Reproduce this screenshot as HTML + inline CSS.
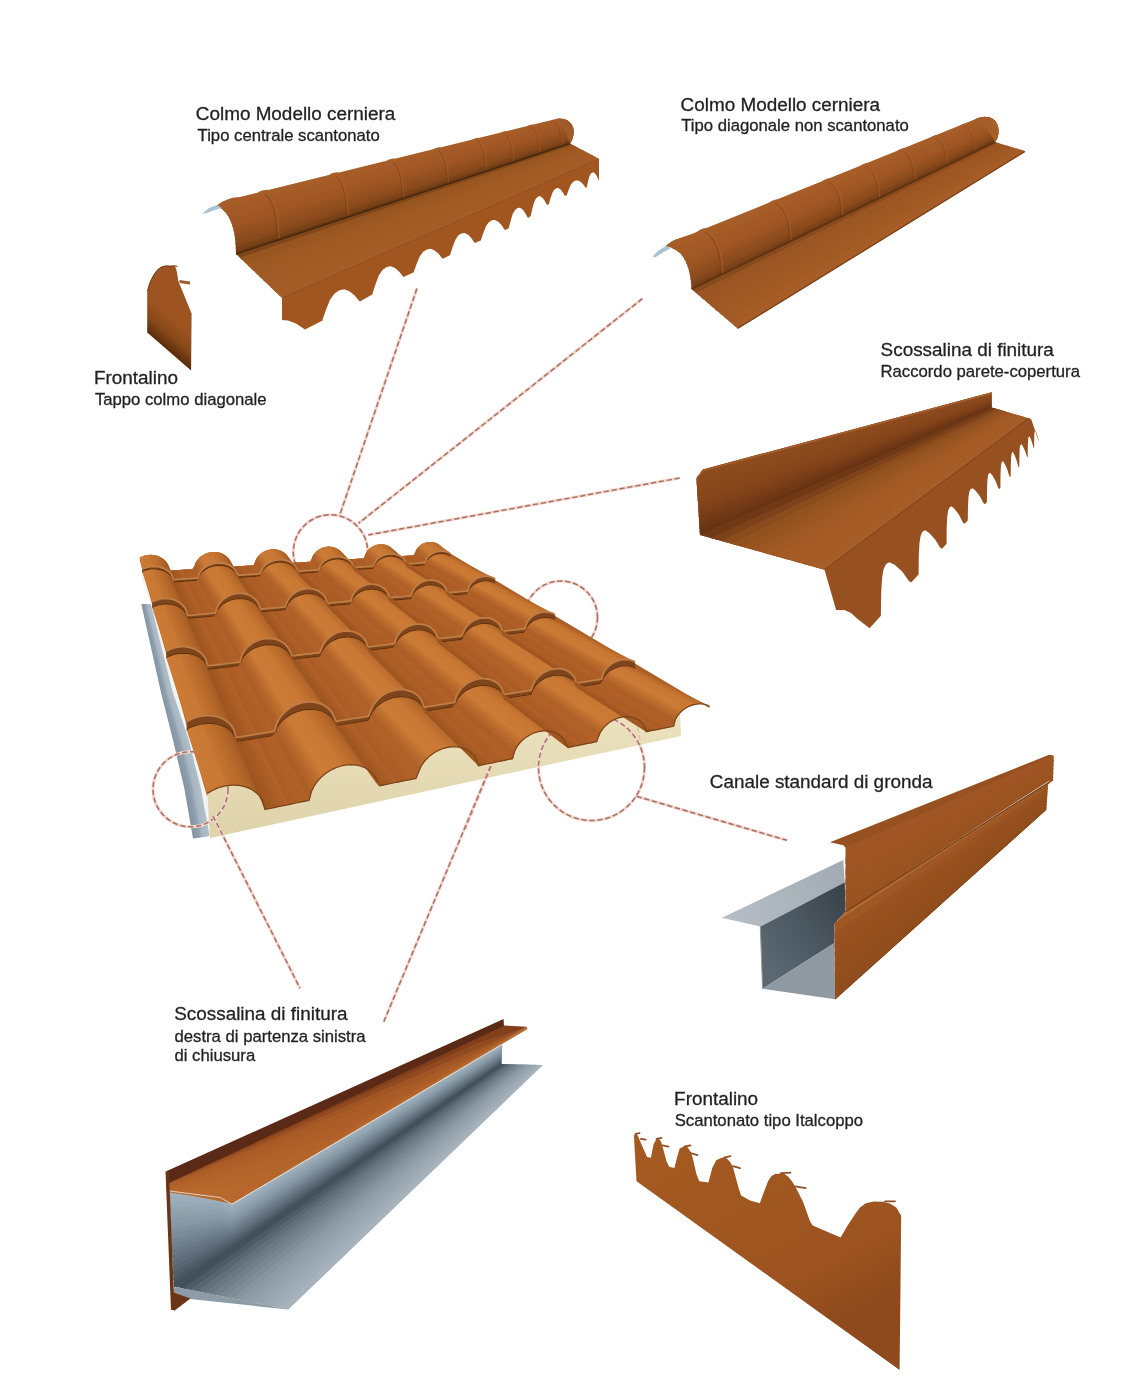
<!DOCTYPE html><html><head><meta charset="utf-8"><style>html,body{margin:0;padding:0;background:#fff;}body{width:1148px;height:1393px;overflow:hidden;position:relative;font-family:"Liberation Sans",sans-serif;}svg{display:block;position:absolute;left:0;top:0;}svg.t{will-change:transform;}</style></head><body><svg width="1148" height="1393" viewBox="0 0 1148 1393"><defs><clipPath id="cRollTL"><path d="M216,206 C224,200 232,197 240,197 L558,118.5 C565,118 571,121 573.3,128 C574.5,133 573,139 570.3,143.5 L236,254 C236,236 233,218 222,209 Z"/></clipPath><linearGradient id="gFrL" gradientUnits="userSpaceOnUse" x1="169" y1="351" x2="187" y2="330"><stop offset="0" stop-color="#5a2c0c"/><stop offset="0.45" stop-color="#874818"/><stop offset="1" stop-color="#9e5421"/></linearGradient><clipPath id="cRollTR"><path d="M665.8,246 C670,242 674,240 680,238 L691.6,234.1 L974.5,119.6 C981,116 988,116 993,119 C999,123 1000,132 997,139 L995,142 L691.6,289.2 C691,275 688,262 680,253 C676,250 671,247 665.8,246 Z"/></clipPath><linearGradient id="gInner" gradientUnits="userSpaceOnUse" x1="765" y1="960" x2="845" y2="900"><stop offset="0" stop-color="#5c6871"/><stop offset="0.5" stop-color="#4c5861"/><stop offset="1" stop-color="#3a444c"/></linearGradient><linearGradient id="gFlg" gradientUnits="userSpaceOnUse" x1="722" y1="918" x2="845" y2="870"><stop offset="0" stop-color="#b7bec5"/><stop offset="1" stop-color="#a2abb3"/></linearGradient><linearGradient id="gFrBR" gradientUnits="userSpaceOnUse" x1="700" y1="1150" x2="800" y2="1340"><stop offset="0" stop-color="#a3591f"/><stop offset="0.75" stop-color="#9c5320"/><stop offset="1" stop-color="#8e4a1c"/></linearGradient><linearGradient id="gFoam" gradientUnits="userSpaceOnUse" x1="0" y1="720" x2="0" y2="840"><stop offset="0" stop-color="#ebe1bd"/><stop offset="1" stop-color="#ddd2a8"/></linearGradient></defs><rect width="1148" height="1393" fill="#fff"/><polygon points="236.0,254.0 570.0,143.5 599.0,159.0 599.0,159.0 573.9,145.6 242.1,259.9" fill="#80471c" /><polygon points="239.8,257.7 572.4,144.8 599.0,159.0 599.0,159.0 576.3,146.9 246.0,263.5" fill="#97551f" /><polygon points="243.7,261.3 574.8,146.1 599.0,159.0 599.0,159.0 578.7,148.2 249.8,267.2" fill="#9a5721" /><polygon points="247.5,265.0 577.2,147.4 599.0,159.0 599.0,159.0 581.1,149.4 253.6,270.9" fill="#9d5823" /><polygon points="251.3,268.7 579.7,148.7 599.0,159.0 599.0,159.0 583.5,150.7 257.5,274.5" fill="#9f5a24" /><polygon points="255.2,272.3 582.1,150.0 599.0,159.0 599.0,159.0 586.0,152.0 261.3,278.2" fill="#a05a25" /><polygon points="259.0,276.0 584.5,151.2 599.0,159.0 599.0,159.0 588.4,153.3 265.1,281.9" fill="#a15b25" /><polygon points="262.8,279.7 586.9,152.5 599.0,159.0 599.0,159.0 590.8,154.6 269.0,285.5" fill="#a25b26" /><polygon points="266.7,283.3 589.3,153.8 599.0,159.0 599.0,159.0 593.2,155.9 272.8,289.2" fill="#a35c26" /><polygon points="270.5,287.0 591.8,155.1 599.0,159.0 599.0,159.0 595.6,157.2 276.6,292.9" fill="#a35c26" /><polygon points="274.3,290.7 594.2,156.4 599.0,159.0 599.0,159.0 598.0,158.5 280.5,296.5" fill="#a45c27" /><polygon points="278.2,294.3 596.6,157.7 599.0,159.0 599.0,159.0 599.0,159.0 282.0,298.0" fill="#a55d27" /><polygon points="282.0,298.0 282.0,320.0 288.0,320.5 296.0,323.5 305.0,329.5 322.6,320.5 322.6,319.4 326.3,308.9 330.0,299.8 334.5,293.6 339.4,290.3 344.2,289.3 349.4,291.2 354.7,295.4 358.4,300.0 359.9,301.4 372.6,294.3 372.6,293.3 375.7,283.8 378.8,275.6 382.5,270.1 386.6,267.0 390.6,266.2 394.9,267.9 399.3,271.7 402.4,275.8 403.6,277.1 413.9,272.3 413.9,271.5 416.8,263.4 419.7,256.5 423.1,251.8 426.9,249.4 430.7,248.8 434.7,250.4 438.8,253.9 441.6,257.7 442.8,258.8 450.3,255.1 450.3,254.3 452.8,246.6 455.3,240.0 458.2,235.6 461.4,233.4 464.6,232.9 468.1,234.7 471.5,238.2 474.0,241.9 475.0,243.0 481.1,240.3 481.1,239.6 483.5,232.4 485.9,226.3 488.8,222.2 491.9,220.3 495.0,220.0 498.3,221.8 501.7,225.3 504.0,228.9 505.0,230.0 509.0,227.9 509.0,227.1 510.9,219.9 512.8,213.8 515.1,209.9 517.6,208.0 520.0,207.8 522.7,209.6 525.3,213.2 527.2,216.8 528.0,218.0 530.8,216.1 530.8,215.4 532.4,208.5 534.0,202.6 536.0,198.6 538.1,196.6 540.2,196.2 542.5,197.7 544.7,200.8 546.4,204.0 547.0,205.0 549.1,203.9 549.1,203.3 550.7,197.7 552.3,192.9 554.2,189.8 556.3,188.3 558.3,188.1 560.6,189.5 562.8,192.3 564.4,195.1 565.0,196.0 566.9,195.3 566.9,194.7 568.8,189.4 570.7,184.9 573.0,181.9 575.5,180.5 578.0,180.4 580.6,181.8 583.3,184.4 585.2,187.1 586.0,188.0 586.8,187.6 586.8,187.0 588.0,181.5 589.2,176.8 590.7,173.8 592.3,172.5 593.9,172.5 595.6,174.1 597.3,177.1 598.5,180.1 599.0,181.0 599.0,159.0" fill="#a1551f" /><line x1="282" y1="298" x2="599" y2="159" stroke="#8a4a1c" stroke-width="1"/><g clip-path="url(#cRollTL)"><polygon points="200.0,200.0 240.0,195.0 558.0,117.0 580.0,115.0 581.1,117.9 559.4,120.0 239.5,201.9 200.0,206.4" fill="#a85e29" /><polygon points="200.0,204.0 239.7,199.3 558.9,118.9 580.7,116.8 581.9,119.6 560.2,121.9 239.3,206.1 200.0,210.4" fill="#a75d28" /><polygon points="200.0,208.0 239.4,203.6 559.7,120.8 581.4,118.6 582.6,121.4 561.1,123.8 239.0,210.4 200.0,214.4" fill="#a55b27" /><polygon points="200.0,212.0 239.1,207.9 560.6,122.7 582.1,120.4 583.3,123.2 561.9,125.7 238.7,214.7 200.0,218.4" fill="#a45a26" /><polygon points="200.0,216.0 238.9,212.1 561.4,124.6 582.9,122.1 584.0,125.0 562.8,127.6 238.4,219.0 200.0,222.4" fill="#a35925" /><polygon points="200.0,220.0 238.6,216.4 562.3,126.5 583.6,123.9 584.7,126.8 563.7,129.5 238.1,223.3 200.0,226.4" fill="#a15725" /><polygon points="200.0,224.0 238.3,220.7 563.1,128.4 584.3,125.7 585.4,128.6 564.5,131.4 237.8,227.6 200.0,230.4" fill="#9f5624" /><polygon points="200.0,228.0 238.0,225.0 564.0,130.2 585.0,127.5 586.1,130.4 565.4,133.3 237.5,231.9 200.0,234.4" fill="#9b5322" /><polygon points="200.0,232.0 237.7,229.3 564.9,132.1 585.7,129.3 586.9,132.1 566.2,135.2 237.3,236.1 200.0,238.4" fill="#965120" /><polygon points="200.0,236.0 237.4,233.6 565.7,134.0 586.4,131.1 587.6,133.9 567.1,137.1 237.0,240.4 200.0,242.4" fill="#924e1f" /><polygon points="200.0,240.0 237.1,237.9 566.6,135.9 587.1,132.9 588.3,135.7 567.9,139.0 236.7,244.7 200.0,246.4" fill="#8d4c1d" /><polygon points="200.0,244.0 236.9,242.1 567.4,137.8 587.9,134.6 589.0,137.5 568.8,140.8 236.4,249.0 200.0,250.4" fill="#87481b" /><polygon points="200.0,248.0 236.6,246.4 568.3,139.7 588.6,136.4 589.7,139.3 569.7,142.7 236.1,253.3 200.0,254.4" fill="#7b4217" /><polygon points="200.0,252.0 236.3,250.7 569.1,141.6 589.3,138.2 590.0,140.0 570.0,143.5 236.0,255.0 200.0,256.0" fill="#703b14" /><path d="M262.0,191.6 Q277.1,198.4 277.1,240.4" fill="none" stroke="#6a3814" stroke-width="1.51" stroke-opacity="0.35"/><path d="M263.9,191.6 Q279.0,198.4 279.0,240.4" fill="none" stroke="#b96b31" stroke-width="1.51" stroke-opacity="0.35"/><path d="M333.0,174.0 Q346.4,180.1 346.4,217.5" fill="none" stroke="#6a3814" stroke-width="1.34" stroke-opacity="0.35"/><path d="M334.7,174.0 Q348.1,180.1 348.1,217.5" fill="none" stroke="#b96b31" stroke-width="1.34" stroke-opacity="0.35"/><path d="M390.0,160.0 Q402.1,165.4 402.1,199.1" fill="none" stroke="#6a3814" stroke-width="1.21" stroke-opacity="0.35"/><path d="M391.5,160.0 Q403.6,165.4 403.6,199.1" fill="none" stroke="#b96b31" stroke-width="1.21" stroke-opacity="0.35"/><path d="M436.0,148.6 Q447.0,153.6 447.0,184.2" fill="none" stroke="#6a3814" stroke-width="1.10" stroke-opacity="0.35"/><path d="M437.4,148.6 Q448.4,153.6 448.4,184.2" fill="none" stroke="#b96b31" stroke-width="1.10" stroke-opacity="0.35"/><path d="M475.0,139.0 Q485.1,143.6 485.1,171.6" fill="none" stroke="#6a3814" stroke-width="1.01" stroke-opacity="0.35"/><path d="M476.3,139.0 Q486.3,143.6 486.3,171.6" fill="none" stroke="#b96b31" stroke-width="1.01" stroke-opacity="0.35"/><path d="M503.0,132.1 Q512.4,136.3 512.4,162.5" fill="none" stroke="#6a3814" stroke-width="0.96" stroke-opacity="0.35"/><path d="M504.2,132.1 Q513.6,136.3 513.6,162.5" fill="none" stroke="#b96b31" stroke-width="0.96" stroke-opacity="0.35"/><path d="M530.0,125.4 Q538.8,129.4 538.8,153.8" fill="none" stroke="#6a3814" stroke-width="0.96" stroke-opacity="0.35"/><path d="M531.1,125.4 Q539.9,129.4 539.9,153.8" fill="none" stroke="#b96b31" stroke-width="0.96" stroke-opacity="0.35"/><path d="M553.0,119.7 Q561.2,123.5 561.2,146.4" fill="none" stroke="#6a3814" stroke-width="0.96" stroke-opacity="0.35"/><path d="M554.0,119.7 Q562.3,123.5 562.3,146.4" fill="none" stroke="#b96b31" stroke-width="0.96" stroke-opacity="0.35"/></g><ellipse cx="263.5" cy="192.0" rx="5.3" ry="1.7" transform="rotate(-13.9 263.5 192.0)" fill="#a95f29"/><ellipse cx="334.3" cy="174.4" rx="4.8" ry="1.6" transform="rotate(-13.9 334.3 174.4)" fill="#a95f29"/><ellipse cx="391.2" cy="160.4" rx="4.3" ry="1.4" transform="rotate(-13.9 391.2 160.4)" fill="#a95f29"/><ellipse cx="437.1" cy="149.0" rx="4.0" ry="1.3" transform="rotate(-13.9 437.1 149.0)" fill="#a95f29"/><ellipse cx="476.0" cy="139.4" rx="3.7" ry="1.2" transform="rotate(-13.9 476.0 139.4)" fill="#a95f29"/><ellipse cx="503.9" cy="132.5" rx="3.5" ry="1.1" transform="rotate(-13.9 503.9 132.5)" fill="#a95f29"/><ellipse cx="530.9" cy="125.8" rx="3.2" ry="1.1" transform="rotate(-13.9 530.9 125.8)" fill="#a95f29"/><path d="M558,118.5 C565,118 571,121 573.3,128 C574.5,133 573,139 570.3,143.5 C567,137 564,127 558,118.5 Z" fill="#a05a27" /><line x1="236" y1="254" x2="570" y2="143.5" stroke="#4a2a0c" stroke-width="1.8"/><polygon points="202.0,214.0 209.0,208.0 217.0,205.0 222.0,208.0 216.0,209.5 208.0,212.5" fill="#a9c3d3" /><path d="M147.2,291.2 C149,283 152,276 157,270 C161,266 165,265 170,266 L175,266 C177,270 177.5,275 178.2,280.8 L191.6,313.6 L191.1,370.4 L147.2,332.5 Z" fill="url(#gFrL)" /><path d="M147.6,291 C149.4,283 152.4,276 157.2,270.4 C161,266.4 165,265.4 170,266.2 C173,265.6 175.5,265.5 177.5,266.5" fill="none" stroke="#6e3a14" stroke-width="1"/><polygon points="179.5,280.0 190.0,281.5 190.0,284.5 179.5,283.0" fill="#9a5a2a" /><polygon points="691.6,289.2 995.0,142.0 1025.0,151.0 1025.0,151.1 999.8,143.5 699.0,295.5" fill="#894b1c" /><polygon points="696.2,293.1 998.0,142.9 1025.0,151.1 1025.0,151.1 1002.8,144.5 703.6,299.4" fill="#9a5522" /><polygon points="700.8,297.1 1001.0,143.9 1025.0,151.1 1025.0,151.2 1005.8,145.4 708.2,303.3" fill="#9c5623" /><polygon points="705.4,301.0 1004.0,144.8 1025.0,151.2 1025.0,151.2 1008.8,146.4 712.8,307.3" fill="#9d5723" /><polygon points="710.0,304.9 1007.0,145.8 1025.0,151.2 1025.0,151.3 1011.8,147.3 717.4,311.2" fill="#9f5824" /><polygon points="714.6,308.9 1010.0,146.8 1025.0,151.2 1025.0,151.3 1014.8,148.3 722.0,315.1" fill="#a05924" /><polygon points="719.2,312.8 1013.0,147.7 1025.0,151.3 1025.0,151.4 1017.8,149.2 726.6,319.1" fill="#a25a25" /><polygon points="723.8,316.7 1016.0,148.7 1025.0,151.3 1025.0,151.4 1020.8,150.2 731.2,323.0" fill="#a35b26" /><polygon points="728.4,320.6 1019.0,149.6 1025.0,151.4 1025.0,151.5 1023.8,151.1 735.8,326.9" fill="#a55c26" /><polygon points="733.0,324.6 1022.0,150.6 1025.0,151.4 1025.0,151.5 1025.0,151.5 737.6,328.5" fill="#a65d27" /><line x1="737.6" y1="328.5" x2="1025" y2="151.5" stroke="#7a3e14" stroke-width="1.3"/><g clip-path="url(#cRollTR)"><polygon points="650.0,240.0 691.6,232.5 974.5,118.5 1010.0,110.0 1010.0,113.0 976.8,121.2 691.6,239.1 650.0,245.9" fill="#a85e29" /><polygon points="650.0,243.7 691.6,236.6 976.0,120.2 1010.0,111.9 1010.0,114.8 978.3,122.9 691.6,243.2 650.0,249.7" fill="#a75d28" /><polygon points="650.0,247.4 691.6,240.7 977.4,121.9 1010.0,113.7 1010.0,116.7 979.8,124.5 691.6,247.3 650.0,253.4" fill="#a65c27" /><polygon points="650.0,251.1 691.6,244.8 978.9,123.5 1010.0,115.6 1010.0,118.5 981.2,126.2 691.6,251.4 650.0,257.1" fill="#a45a26" /><polygon points="650.0,254.9 691.6,248.9 980.4,125.2 1010.0,117.4 1010.0,120.4 982.7,127.9 691.6,255.5 650.0,260.8" fill="#a35926" /><polygon points="650.0,258.6 691.6,253.0 981.8,126.9 1010.0,119.3 1010.0,122.3 984.2,129.6 691.6,259.6 650.0,264.5" fill="#a25825" /><polygon points="650.0,262.3 691.6,257.1 983.3,128.6 1010.0,121.1 1010.0,124.1 985.6,131.3 691.6,263.7 650.0,268.2" fill="#a15724" /><polygon points="650.0,266.0 691.6,261.2 984.8,130.2 1010.0,123.0 1010.0,126.0 987.1,132.9 691.6,267.8 650.0,271.9" fill="#9e5523" /><polygon points="650.0,269.7 691.6,265.4 986.2,131.9 1010.0,124.9 1010.0,127.8 988.6,134.6 691.6,271.9 650.0,275.7" fill="#995221" /><polygon points="650.0,273.4 691.6,269.5 987.7,133.6 1010.0,126.7 1010.0,129.7 990.0,136.3 691.6,276.0 650.0,279.4" fill="#944f20" /><polygon points="650.0,277.1 691.6,273.6 989.1,135.3 1010.0,128.6 1010.0,131.5 991.5,138.0 691.6,280.1 650.0,283.1" fill="#8f4d1e" /><polygon points="650.0,280.9 691.6,277.7 990.6,137.0 1010.0,130.4 1010.0,133.4 993.0,139.7 691.6,284.2 650.0,286.8" fill="#8a4a1c" /><polygon points="650.0,284.6 691.6,281.8 992.1,138.6 1010.0,132.3 1010.0,135.3 994.4,141.3 691.6,288.4 650.0,290.5" fill="#7f4419" /><polygon points="650.0,288.3 691.6,285.9 993.5,140.3 1010.0,134.1 1010.0,136.0 995.0,142.0 691.6,290.0 650.0,292.0" fill="#743d16" /><path d="M701.0,230.3 Q720.7,236.6 720.7,275.1" fill="none" stroke="#6a3814" stroke-width="1.58" stroke-opacity="0.35"/><path d="M703.0,230.3 Q722.7,236.6 722.7,275.1" fill="none" stroke="#b96b31" stroke-width="1.58" stroke-opacity="0.35"/><path d="M772.0,201.6 Q789.7,207.2 789.7,241.6" fill="none" stroke="#6a3814" stroke-width="1.41" stroke-opacity="0.35"/><path d="M773.8,201.6 Q791.4,207.2 791.4,241.6" fill="none" stroke="#b96b31" stroke-width="1.41" stroke-opacity="0.35"/><path d="M825.0,180.1 Q841.1,185.2 841.1,216.7" fill="none" stroke="#6a3814" stroke-width="1.29" stroke-opacity="0.35"/><path d="M826.6,180.1 Q842.7,185.2 842.7,216.7" fill="none" stroke="#b96b31" stroke-width="1.29" stroke-opacity="0.35"/><path d="M863.0,164.7 Q878.0,169.5 878.0,198.8" fill="none" stroke="#6a3814" stroke-width="1.20" stroke-opacity="0.35"/><path d="M864.5,164.7 Q879.5,169.5 879.5,198.8" fill="none" stroke="#b96b31" stroke-width="1.20" stroke-opacity="0.35"/><path d="M900.0,149.8 Q913.9,154.2 913.9,181.3" fill="none" stroke="#6a3814" stroke-width="1.11" stroke-opacity="0.35"/><path d="M901.4,149.8 Q915.3,154.2 915.3,181.3" fill="none" stroke="#b96b31" stroke-width="1.11" stroke-opacity="0.35"/><path d="M933.0,136.4 Q946.0,140.5 946.0,165.8" fill="none" stroke="#6a3814" stroke-width="1.04" stroke-opacity="0.35"/><path d="M934.3,136.4 Q947.2,140.5 947.2,165.8" fill="none" stroke="#b96b31" stroke-width="1.04" stroke-opacity="0.35"/><path d="M962.0,124.7 Q974.1,128.5 974.1,152.1" fill="none" stroke="#6a3814" stroke-width="0.97" stroke-opacity="0.35"/><path d="M963.2,124.7 Q975.3,128.5 975.3,152.1" fill="none" stroke="#b96b31" stroke-width="0.97" stroke-opacity="0.35"/><path d="M985.0,115.4 Q996.4,119.0 996.4,141.3" fill="none" stroke="#6a3814" stroke-width="0.96" stroke-opacity="0.35"/><path d="M986.1,115.4 Q997.6,119.0 997.6,141.3" fill="none" stroke="#b96b31" stroke-width="0.96" stroke-opacity="0.35"/></g><ellipse cx="702.5" cy="230.7" rx="5.4" ry="1.8" transform="rotate(-22.0 702.5 230.7)" fill="#a95f29"/><ellipse cx="773.3" cy="202.0" rx="4.8" ry="1.6" transform="rotate(-22.0 773.3 202.0)" fill="#a95f29"/><ellipse cx="826.2" cy="180.5" rx="4.3" ry="1.4" transform="rotate(-22.0 826.2 180.5)" fill="#a95f29"/><ellipse cx="864.1" cy="165.1" rx="4.0" ry="1.3" transform="rotate(-22.0 864.1 165.1)" fill="#a95f29"/><ellipse cx="901.0" cy="150.2" rx="3.7" ry="1.2" transform="rotate(-22.0 901.0 150.2)" fill="#a95f29"/><ellipse cx="933.9" cy="136.8" rx="3.4" ry="1.1" transform="rotate(-22.0 933.9 136.8)" fill="#a95f29"/><ellipse cx="962.9" cy="125.1" rx="3.1" ry="1.0" transform="rotate(-22.0 962.9 125.1)" fill="#a95f29"/><path d="M974.5,119.6 C981,116 988,116 993,119 C999,123 1000,132 997,139 L995,142 C991,134 984,124 974.5,119.6 Z" fill="#a65e2a" /><line x1="691.6" y1="289.2" x2="995" y2="142" stroke="#5a3210" stroke-width="1.5"/><polygon points="652.5,256.4 658.0,251.0 665.8,246.0 671.0,248.0 663.0,252.5 655.0,257.5" fill="#a9c3d3" /><polygon points="696.4,478.6 702.8,469.5 991.6,392.2 991.6,407.4 1031.3,419.6 1028.7,418.3 824.5,569.7 700.0,535.0" fill="#8a4a1c" /><polygon points="696.4,478.6 702.8,469.5 991.6,392.2 991.6,393.9 702.5,477.0 696.8,485.0" fill="#8e4c1e" /><polygon points="696.7,482.6 702.6,474.2 991.6,393.3 991.6,395.0 702.3,481.7 697.1,489.1" fill="#8d4b1d" /><polygon points="696.9,486.7 702.4,478.9 991.6,394.4 991.6,396.1 702.1,486.3 697.3,493.1" fill="#8b4a1d" /><polygon points="697.2,490.7 702.2,483.5 991.6,395.5 991.6,397.2 701.9,491.0 697.6,497.1" fill="#8a491c" /><polygon points="697.4,494.7 702.0,488.2 991.6,396.5 991.6,398.3 701.7,495.7 697.8,501.2" fill="#89481c" /><polygon points="697.7,498.7 701.8,492.9 991.6,397.6 991.6,399.4 701.5,500.4 698.1,505.2" fill="#87471b" /><polygon points="697.9,502.8 701.6,497.6 991.6,398.7 991.6,400.5 701.3,505.1 698.4,509.2" fill="#86451b" /><polygon points="698.2,506.8 701.4,502.2 991.6,399.8 991.6,401.5 701.1,509.7 698.6,513.2" fill="#84441a" /><polygon points="698.5,510.8 701.2,506.9 991.6,400.9 991.6,402.6 700.9,514.4 698.9,517.3" fill="#804219" /><polygon points="698.7,514.9 701.0,511.6 991.6,402.0 991.6,403.7 700.7,519.1 699.1,521.3" fill="#7b3f18" /><polygon points="699.0,518.9 700.8,516.3 991.6,403.1 991.6,404.8 700.5,523.8 699.4,525.3" fill="#773c17" /><polygon points="699.2,522.9 700.6,521.0 991.6,404.1 991.6,405.9 700.3,528.5 699.6,529.4" fill="#723916" /><polygon points="699.5,526.9 700.4,525.6 991.6,405.2 991.6,407.0 700.1,533.1 699.9,533.4" fill="#6d3615" /><polygon points="699.7,531.0 700.2,530.3 991.6,406.3 991.6,407.4 700.0,535.0 700.0,535.0" fill="#683314" /><polyline points="697,478 703,470.5 991.6,393.2" fill="none" stroke="#a8602e" stroke-width="1.4"/><polygon points="700.0,535.0 991.6,407.4 1031.3,419.6 1031.3,419.6 996.5,408.9 716.6,539.6" fill="#703916" /><polygon points="710.4,537.9 994.7,408.3 1031.3,419.6 1031.3,419.6 999.6,409.8 727.0,542.5" fill="#7e421a" /><polygon points="720.8,540.8 997.8,409.2 1031.3,419.6 1031.3,419.6 1002.7,410.7 737.4,545.4" fill="#8a4b1d" /><polygon points="731.1,543.7 1000.9,410.1 1031.3,419.6 1031.3,419.6 1005.8,411.6 747.7,548.3" fill="#935120" /><polygon points="741.5,546.6 1004.0,411.0 1031.3,419.6 1031.3,419.6 1008.9,412.5 758.1,551.2" fill="#975421" /><polygon points="751.9,549.5 1007.1,411.9 1031.3,419.6 1031.3,419.6 1012.0,413.4 768.5,554.1" fill="#9c5623" /><polygon points="762.2,552.4 1010.2,412.9 1031.3,419.6 1031.3,419.6 1015.1,414.3 778.9,557.0" fill="#a05824" /><polygon points="772.6,555.2 1013.2,413.8 1031.3,419.6 1031.3,419.6 1018.2,415.2 789.2,559.9" fill="#a35a25" /><polygon points="783.0,558.1 1016.3,414.7 1031.3,419.6 1031.3,419.6 1021.3,416.1 799.6,562.8" fill="#a45b26" /><polygon points="793.4,561.0 1019.4,415.6 1031.3,419.6 1031.3,419.6 1024.4,417.0 810.0,565.7" fill="#a55b26" /><polygon points="803.8,563.9 1022.5,416.5 1031.3,419.6 1031.3,419.6 1027.5,417.9 820.4,568.5" fill="#a65c26" /><polygon points="814.1,566.8 1025.6,417.4 1031.3,419.6 1031.3,419.6 1028.7,418.3 824.5,569.7" fill="#a75d27" /><polygon points="824.5,569.7 836.1,610.1 844.5,610.1 851.0,613.0 857.0,618.5 869.6,628.2 880.9,615.8 880.9,614.4 881.2,592.5 882.1,577.7 883.6,569.1 886.1,564.1 889.4,562.2 894.6,564.8 902.2,571.6 909.0,581.2 911.4,582.2 918.6,574.4 918.6,573.2 918.8,554.9 919.5,542.6 920.7,535.5 922.6,531.6 925.2,530.3 929.2,532.9 935.0,539.2 940.2,547.8 942.1,548.8 946.6,543.8 946.6,542.8 946.7,527.0 947.3,516.5 948.2,510.5 949.6,507.2 951.6,506.3 954.6,508.9 959.0,514.8 963.0,522.7 964.4,523.7 967.8,520.5 967.8,519.6 968.0,505.9 968.5,496.7 969.4,491.6 970.7,488.9 972.6,488.2 975.6,490.7 979.8,496.2 983.6,503.3 985.0,504.3 986.9,502.3 986.9,501.5 987.0,488.7 987.4,480.3 988.0,475.6 989.0,473.2 990.4,472.9 992.5,475.4 995.6,481.0 998.3,488.0 999.3,489.1 1000.4,487.9 1000.4,487.1 1000.5,475.5 1000.8,467.8 1001.3,463.6 1002.1,461.5 1003.1,461.3 1004.8,463.9 1007.2,469.3 1009.3,476.0 1010.1,477.1 1010.7,476.4 1010.7,475.7 1010.8,465.1 1011.1,458.0 1011.5,454.2 1012.1,452.3 1013.0,452.2 1014.4,454.7 1016.5,459.9 1018.2,466.2 1018.9,467.3 1019.3,466.9 1019.3,466.2 1019.4,456.3 1019.6,449.8 1020.0,446.2 1020.7,444.4 1021.6,444.2 1023.0,446.4 1025.1,450.9 1026.9,456.6 1027.6,457.5 1027.7,457.3 1027.7,456.8 1027.8,447.7 1028.0,441.6 1028.3,438.3 1028.8,436.7 1029.5,436.5 1030.6,438.5 1032.2,442.7 1033.6,447.9 1034.1,448.8 1034.1,448.8 1034.1,448.3 1034.2,440.1 1034.3,434.8 1034.6,431.9 1035.0,430.6 1035.6,430.7 1036.5,432.9 1037.9,437.3 1039.1,442.5 1039.5,443.4 1031.3,419.6 1028.7,418.3" fill="#97501f" /><line x1="824.5" y1="569.7" x2="1028.7" y2="418.3" stroke="#7a3e14" stroke-width="1"/><polygon points="721.8,917.7 843.3,860.0 844.8,882.2 760.3,926.6" fill="url(#gFlg)" /><polygon points="760.3,926.6 844.8,882.2 845.5,911.8 834.4,923.7 834.4,942.9 762.6,988.8" fill="url(#gInner)" /><polygon points="762.6,988.8 834.4,942.9 835.1,999.2" fill="#8f99a1" /><line x1="760.3" y1="926.6" x2="762.6" y2="988.8" stroke="#8e979f" stroke-width="1"/><polygon points="845.5,846.7 1048.8,754.9 1053.8,755.7 1053.6,762.1 1048.6,762.0 845.5,864.1" fill="#a05624" /><polygon points="845.5,857.6 1048.7,759.3 1053.7,759.7 1053.5,766.1 1048.5,766.4 845.5,874.9" fill="#9e5523" /><polygon points="845.5,868.4 1048.5,763.8 1053.5,763.7 1053.3,770.1 1048.3,770.9 845.5,885.8" fill="#9e5423" /><polygon points="845.5,879.2 1048.4,768.2 1053.4,767.7 1053.2,774.1 1048.2,775.3 845.5,896.6" fill="#9c5422" /><polygon points="845.5,890.1 1048.3,772.6 1053.3,771.7 1053.1,778.1 1048.1,779.7 845.5,907.5" fill="#9c5322" /><polygon points="845.5,900.9 1048.1,777.1 1053.1,775.7 1053.0,779.7 1048.0,781.5 845.5,911.8" fill="#9a5221" /><polygon points="830.0,842.2 1048.8,754.9 1053.8,755.7 845.5,847.5 843.3,845.2" fill="#97501f" /><polygon points="834.4,923.7 1048.0,784.7 1047.7,789.7 834.5,938.8" fill="#a05724" /><polygon points="834.5,933.1 1047.8,787.8 1047.4,792.8 834.6,948.2" fill="#995220" /><polygon points="834.6,942.6 1047.6,790.9 1047.2,795.9 834.7,957.7" fill="#97501f" /><polygon points="834.7,952.0 1047.4,794.0 1047.0,799.0 834.8,967.1" fill="#96501e" /><polygon points="834.8,961.5 1047.2,797.1 1046.8,802.1 834.9,976.6" fill="#954f1e" /><polygon points="834.8,970.9 1046.9,800.2 1046.6,805.2 835.0,986.0" fill="#944f1e" /><polygon points="834.9,980.3 1046.7,803.3 1046.4,808.3 835.1,995.4" fill="#934e1d" /><polygon points="835.0,989.8 1046.5,806.4 1046.3,809.5 835.1,999.2" fill="#924d1d" /><polygon points="845.5,911.8 1053.0,779.7 1048.0,784.7 834.4,923.7" fill="#b2672d" /><polyline points="845.5,911.8 1053,779.7" fill="none" stroke="#6e3a14" stroke-width="1.1"/><polyline points="834.4,923.7 1048,784.7" fill="none" stroke="#7a4016" stroke-width="0.9" stroke-opacity="0.8"/><line x1="835.1" y1="999.2" x2="1046.3" y2="809.5" stroke="#7a3e14" stroke-width="1"/><polygon points="176.0,1287.0 501.5,1064.0 505.6,1064.1 187.2,1289.3" fill="#44515b" /><polygon points="183.0,1288.4 504.1,1064.1 508.2,1064.2 194.2,1290.7" fill="#4e5b65" /><polygon points="190.0,1289.8 506.7,1064.1 510.8,1064.2 201.3,1292.1" fill="#576670" /><polygon points="197.1,1291.2 509.3,1064.2 513.4,1064.3 208.3,1293.5" fill="#61707a" /><polygon points="204.1,1292.7 511.9,1064.2 516.0,1064.3 215.3,1294.9" fill="#697882" /><polygon points="211.1,1294.1 514.5,1064.3 518.6,1064.4 222.3,1296.3" fill="#707f89" /><polygon points="218.1,1295.5 517.1,1064.4 521.2,1064.5 229.3,1297.7" fill="#778690" /><polygon points="225.1,1296.9 519.7,1064.4 523.8,1064.5 236.4,1299.1" fill="#7e8d97" /><polygon points="232.2,1298.3 522.2,1064.5 526.4,1064.6 243.4,1300.6" fill="#85949e" /><polygon points="239.2,1299.7 524.8,1064.6 529.0,1064.7 250.4,1302.0" fill="#8c9aa5" /><polygon points="246.2,1301.1 527.4,1064.6 531.6,1064.7 257.4,1303.4" fill="#919fa9" /><polygon points="253.2,1302.5 530.0,1064.7 534.2,1064.8 264.4,1304.8" fill="#95a3ad" /><polygon points="260.2,1303.9 532.6,1064.8 536.8,1064.8 271.5,1306.2" fill="#9aa7b1" /><polygon points="267.2,1305.4 535.2,1064.8 539.4,1064.9 278.5,1307.6" fill="#9eabb5" /><polygon points="274.3,1306.8 537.8,1064.9 542.0,1065.0 285.5,1309.0" fill="#a2afb8" /><polygon points="281.3,1308.2 540.4,1064.9 543.0,1065.0 288.3,1309.6" fill="#a7b3bc" /><line x1="176" y1="1287" x2="501.5" y2="1064" stroke="#404d57" stroke-width="1.3"/><polygon points="172.0,1290.0 176.0,1287.0 288.3,1309.6 190.5,1299.0 174.3,1294.0" fill="#8d9ba6" /><polygon points="169.0,1190.3 220.2,1197.0 232.0,1203.7 502.3,1043.9 502.2,1045.7 232.0,1207.7 220.2,1202.3 169.4,1199.0" fill="#a0b1bd" /><polygon points="169.3,1195.7 220.2,1200.3 232.0,1206.2 502.3,1045.0 502.2,1046.8 232.0,1210.2 220.2,1205.6 169.7,1204.4" fill="#9cadb9" /><polygon points="169.6,1201.2 220.2,1203.6 232.0,1208.7 502.2,1046.1 502.1,1047.9 232.0,1212.7 220.2,1209.0 170.0,1209.8" fill="#97a9b5" /><polygon points="169.8,1206.6 220.2,1207.0 232.0,1211.2 502.2,1047.2 502.1,1049.0 232.0,1215.2 220.2,1212.3 170.3,1215.3" fill="#93a5b1" /><polygon points="170.1,1212.0 220.2,1210.3 232.0,1213.7 502.1,1048.4 502.1,1050.2 232.0,1217.7 220.2,1215.6 170.6,1220.7" fill="#8fa0ad" /><polygon points="170.4,1217.4 220.2,1213.6 232.0,1216.2 502.1,1049.5 502.0,1051.3 232.0,1220.2 220.2,1218.9 170.8,1226.1" fill="#8a9ca9" /><polygon points="170.7,1222.9 220.2,1216.9 232.0,1218.7 502.0,1050.6 502.0,1052.4 232.0,1222.7 220.2,1222.2 171.1,1231.6" fill="#8698a5" /><polygon points="170.9,1228.3 220.2,1220.3 232.0,1221.2 502.0,1051.7 501.9,1053.5 232.0,1225.2 220.2,1225.6 171.4,1237.0" fill="#80929e" /><polygon points="171.2,1233.7 220.2,1223.6 232.0,1223.7 501.9,1052.8 501.9,1054.6 232.0,1227.6 220.2,1228.9 171.7,1242.4" fill="#7a8c98" /><polygon points="171.5,1239.2 220.2,1226.9 232.0,1226.2 501.9,1054.0 501.8,1055.7 232.0,1230.1 220.2,1232.2 171.9,1247.8" fill="#758592" /><polygon points="171.8,1244.6 220.2,1230.2 232.0,1228.6 501.9,1055.1 501.8,1056.9 232.0,1232.6 220.2,1235.5 172.2,1253.3" fill="#6f7f8c" /><polygon points="172.1,1250.0 220.2,1233.5 232.0,1231.1 501.8,1056.2 501.7,1058.0 232.0,1235.1 220.2,1238.9 172.5,1258.7" fill="#697986" /><polygon points="172.3,1255.4 220.2,1236.9 232.0,1233.6 501.8,1057.3 501.7,1059.1 232.0,1237.6 220.2,1242.2 172.8,1264.1" fill="#64737f" /><polygon points="172.6,1260.9 220.2,1240.2 232.0,1236.1 501.7,1058.4 501.7,1060.2 232.0,1240.1 220.2,1245.5 173.1,1269.5" fill="#5e6d79" /><polygon points="172.9,1266.3 220.2,1243.5 232.0,1238.6 501.7,1059.5 501.6,1061.3 232.0,1242.6 220.2,1248.8 173.3,1275.0" fill="#576671" /><polygon points="173.2,1271.7 220.2,1246.8 232.0,1241.1 501.6,1060.7 501.6,1062.4 232.0,1245.1 220.2,1252.1 173.6,1280.4" fill="#515f6a" /><polygon points="173.4,1277.1 220.2,1250.2 232.0,1243.6 501.6,1061.8 501.5,1063.6 232.0,1247.6 220.2,1255.5 173.9,1285.8" fill="#4a5862" /><polygon points="173.7,1282.6 220.2,1253.5 232.0,1246.1 501.5,1062.9 501.5,1064.0 232.0,1248.6 220.2,1256.8 174.0,1288.0" fill="#43515b" /><polygon points="166.8,1182.0 503.9,1025.5 526.6,1026.7 526.7,1027.1 460.4,1054.0 166.8,1183.3" fill="#823f1a" /><polygon points="166.8,1182.8 476.7,1043.3 526.7,1026.9 526.8,1027.3 433.2,1071.8 166.8,1184.2" fill="#914a1f" /><polygon points="166.8,1183.7 449.5,1061.1 526.8,1027.2 526.9,1027.5 406.0,1089.7 166.8,1185.0" fill="#a05524" /><polygon points="166.8,1184.5 422.3,1079.0 526.8,1027.4 527.0,1027.8 378.8,1107.5 166.8,1185.8" fill="#a95b26" /><polygon points="166.8,1185.3 395.1,1096.8 526.9,1027.6 527.0,1028.0 351.6,1125.3 166.8,1186.6" fill="#ac5d27" /><polygon points="166.8,1186.2 367.9,1114.6 527.0,1027.8 527.1,1028.2 324.4,1143.1 166.8,1187.5" fill="#ae5f28" /><polygon points="166.8,1187.0 340.8,1132.4 527.1,1028.1 527.2,1028.4 297.3,1160.9 166.8,1188.3" fill="#b06229" /><polygon points="166.8,1187.8 313.6,1150.2 527.2,1028.3 527.3,1028.7 270.1,1178.8 166.8,1189.1" fill="#b3642a" /><polygon points="166.8,1188.6 286.4,1168.1 527.2,1028.5 527.4,1028.9 242.9,1196.6 166.8,1190.0" fill="#b5662b" /><polygon points="166.8,1189.5 259.2,1185.9 527.3,1028.8 527.4,1029.0 232.0,1203.7 166.8,1190.3" fill="#b8682c" /><polygon points="166.8,1190.3 220.2,1197.0 232.0,1203.7 225.0,1201.0 166.8,1192.0" fill="#b9692c" /><polyline points="168,1190.8 220.2,1197.5 232,1204.2 502.3,1044.4" fill="none" stroke="#e8ecef" stroke-width="1" stroke-opacity="0.8"/><polygon points="166.8,1171.1 503.6,1018.9 503.9,1025.9 166.8,1184.0" fill="#5b2a16" /><polygon points="165.5,1171.0 169.0,1172.0 174.5,1310.0 171.0,1310.0" fill="#6a3416" /><polygon points="172.0,1292.0 190.5,1298.4 174.0,1311.0" fill="#6a3416" /><polygon points="633.9,1135.5 635.9,1133.5 638.0,1136.0 640.5,1142.0 644.4,1151.1 647.0,1157.0 650.9,1157.7 653.5,1144.6 656.1,1139.4 658.7,1138.7 661.0,1141.5 662.7,1147.2 666.6,1161.6 669.2,1166.8 674.4,1168.1 677.7,1155.1 679.7,1148.5 683.6,1146.6 687.5,1147.2 690.5,1151.5 692.7,1157.7 696.6,1174.7 699.3,1181.2 708.4,1182.5 712.3,1168.1 716.2,1160.3 721.5,1157.7 726.7,1158.3 730.5,1162.5 733.2,1168.1 738.5,1187.7 741.1,1195.6 750.0,1200.4 759.8,1203.2 763.9,1192.0 768.1,1180.9 771.5,1176.0 775.1,1173.9 783.4,1173.2 788.0,1176.5 791.8,1180.9 796.0,1187.9 803.0,1201.8 810.0,1221.3 812.7,1225.5 840.6,1237.4 847.6,1225.5 855.9,1213.0 860.0,1207.5 865.7,1203.2 874.0,1201.5 882.4,1201.8 890.0,1203.5 896.3,1207.4 901.2,1215.7 899.6,1370.0 636.5,1181.2" fill="url(#gFrBR)" /><line x1="640.8" y1="1138.8" x2="645.7" y2="1139.6" stroke="#8f5027" stroke-width="1.8" stroke-linecap="round"/><line x1="635.5" y1="1133.8" x2="639.5" y2="1133.2" stroke="#8f5027" stroke-width="1.8" stroke-linecap="round"/><line x1="656.5" y1="1138.9" x2="661.5" y2="1137.8" stroke="#8f5027" stroke-width="1.8" stroke-linecap="round"/><line x1="662.5" y1="1145.4" x2="668.5" y2="1146.6" stroke="#8f5027" stroke-width="1.8" stroke-linecap="round"/><line x1="685" y1="1146.5" x2="690.5" y2="1145.3" stroke="#8f5027" stroke-width="1.8" stroke-linecap="round"/><line x1="690.8" y1="1153.2" x2="697.5" y2="1155.2" stroke="#8f5027" stroke-width="1.8" stroke-linecap="round"/><line x1="724" y1="1157.6" x2="730.5" y2="1156.2" stroke="#8f5027" stroke-width="1.8" stroke-linecap="round"/><line x1="732.8" y1="1166.2" x2="740" y2="1168.2" stroke="#8f5027" stroke-width="1.8" stroke-linecap="round"/><line x1="781" y1="1173.2" x2="790.5" y2="1172.6" stroke="#8f5027" stroke-width="1.8" stroke-linecap="round"/><line x1="795" y1="1186.4" x2="805.7" y2="1188.2" stroke="#8f5027" stroke-width="1.8" stroke-linecap="round"/><line x1="885" y1="1201.4" x2="895" y2="1201.3" stroke="#8f5027" stroke-width="1.8" stroke-linecap="round"/><line x1="416.9" y1="288.6" x2="339.6" y2="515.5" stroke="#f6d6ca" stroke-width="3.0" fill="none"/><line x1="416.9" y1="288.6" x2="339.6" y2="515.5" stroke="#a3706a" stroke-width="1.5" stroke-dasharray="5.2 2.8" fill="none"/><line x1="642.4" y1="298.6" x2="358.4" y2="523.4" stroke="#f6d6ca" stroke-width="3.0" fill="none"/><line x1="642.4" y1="298.6" x2="358.4" y2="523.4" stroke="#a3706a" stroke-width="1.5" stroke-dasharray="5.2 2.8" fill="none"/><line x1="679.7" y1="478" x2="368.3" y2="534.9" stroke="#f6d6ca" stroke-width="3.0" fill="none"/><line x1="679.7" y1="478" x2="368.3" y2="534.9" stroke="#a3706a" stroke-width="1.5" stroke-dasharray="5.2 2.8" fill="none"/><circle cx="330.5" cy="552" r="37.2" stroke="#f6d6ca" stroke-width="3.0" fill="none"/><circle cx="330.5" cy="552" r="37.2" stroke="#a3706a" stroke-width="1.5" stroke-dasharray="5.2 2.8" fill="none"/><circle cx="561" cy="617.5" r="36.5" stroke="#f6d6ca" stroke-width="3.0" fill="none"/><circle cx="561" cy="617.5" r="36.5" stroke="#a3706a" stroke-width="1.5" stroke-dasharray="5.2 2.8" fill="none"/><polygon points="141.0,560.0 146.0,575.0 153.9,605.8 176.8,692.6 195.7,740.0 207.0,790.0 210.0,836.0 201.0,788.8 188.8,740.0 172.9,692.6 150.8,604.0 142.0,580.0" fill="#f3f3f1" /><polygon points="141.3,604.0 161.0,692.6 173.0,740.0 184.4,788.8 193.0,838.5 196.3,838.0 187.7,788.8 176.2,740.0 163.4,692.6 143.2,604.0" fill="#8696a5" /><polygon points="142.5,604.0 162.5,692.6 175.0,740.0 186.5,788.8 195.1,838.2 198.4,837.7 189.8,788.8 178.1,740.0 164.9,692.6 144.4,604.0" fill="#899aa8" /><polygon points="143.7,604.0 164.0,692.6 176.9,740.0 188.6,788.8 197.2,837.9 200.5,837.4 191.9,788.8 180.1,740.0 166.4,692.6 145.6,604.0" fill="#8d9dac" /><polygon points="144.9,604.0 165.5,692.6 178.9,740.0 190.6,788.8 199.3,837.6 202.6,837.1 193.9,788.8 182.1,740.0 167.8,692.6 146.8,604.0" fill="#95a5b3" /><polygon points="146.1,604.0 166.9,692.6 180.9,740.0 192.7,788.8 201.3,837.2 204.7,836.8 196.0,788.8 184.1,740.0 169.3,692.6 148.0,604.0" fill="#a6b5c1" /><polygon points="147.2,604.0 168.4,692.6 182.9,740.0 194.8,788.8 203.4,836.9 206.8,836.4 198.1,788.8 186.0,740.0 170.8,692.6 149.1,604.0" fill="#aab8c4" /><polygon points="148.4,604.0 169.9,692.6 184.9,740.0 196.8,788.8 205.5,836.6 208.9,836.1 200.2,788.8 188.0,740.0 172.3,692.6 150.3,604.0" fill="#adbbc6" /><polygon points="149.6,604.0 171.4,692.6 186.8,740.0 198.9,788.8 207.6,836.3 209.7,836.0 201.0,788.8 188.8,740.0 172.9,692.6 150.8,604.0" fill="#b0bec9" /><polygon points="207.3,793.5 210.1,791.7 212.9,790.2 215.7,788.9 218.5,787.8 221.3,786.9 224.1,786.2 226.9,785.7 229.7,785.3 232.4,785.1 235.2,785.1 237.9,785.3 240.7,785.7 243.4,786.3 246.1,787.1 248.8,788.1 251.5,789.5 254.2,791.2 256.9,793.4 259.6,796.2 262.3,800.3 264.9,809.5 267.6,808.9 270.3,808.4 272.9,807.8 275.5,807.3 278.2,806.7 280.8,806.2 283.4,805.7 286.0,805.1 288.6,804.6 291.2,804.1 293.7,803.5 296.3,803.0 298.9,802.5 301.4,801.9 304.0,801.4 306.5,800.9 309.1,800.4 311.6,791.2 314.1,786.2 316.6,782.4 319.1,779.4 321.6,776.9 324.1,774.7 326.6,772.8 329.1,771.2 331.6,769.8 334.0,768.6 336.5,767.5 338.9,766.7 341.4,766.0 343.8,765.4 346.2,765.0 348.7,764.8 351.1,764.7 353.5,764.8 355.9,765.1 358.3,765.5 360.7,766.1 363.0,766.9 365.4,768.0 367.8,769.3 370.2,771.1 372.5,773.3 374.9,776.3 377.2,781.1 379.5,785.9 381.9,785.4 384.2,784.9 386.5,784.4 388.8,784.0 391.1,783.5 393.4,783.0 395.7,782.5 398.0,782.1 400.3,781.6 402.5,781.1 404.8,780.7 407.0,780.2 409.3,779.8 411.5,779.3 413.8,778.8 416.0,778.4 418.2,773.0 420.5,767.5 422.7,763.8 424.9,760.9 427.1,758.5 429.3,756.4 431.5,754.7 433.7,753.1 435.9,751.8 438.0,750.6 440.2,749.7 442.4,748.8 444.5,748.1 446.7,747.6 448.8,747.2 451.0,746.9 453.1,746.8 455.2,746.8 457.3,747.0 459.5,747.3 461.6,747.7 463.7,748.4 465.8,749.2 467.9,750.3 470.0,751.7 472.0,753.4 474.1,755.7 476.2,759.0 478.3,765.7 480.3,765.3 482.4,764.8 484.4,764.4 486.5,764.0 488.5,763.6 490.6,763.2 492.6,762.8 494.6,762.3 496.6,761.9 498.7,761.5 500.7,761.1 502.7,760.7 504.7,760.3 506.7,759.9 508.6,759.5 510.6,759.1 512.6,758.7 514.6,751.1 516.6,747.4 518.5,744.5 520.5,742.2 522.4,740.3 524.4,738.6 526.3,737.1 528.3,735.9 530.2,734.8 532.1,733.8 534.0,733.0 536.0,732.4 537.9,731.8 539.8,731.4 541.7,731.1 543.6,730.9 545.5,730.9 547.4,731.0 549.3,731.2 551.1,731.5 553.0,732.0 554.9,732.7 556.8,733.5 558.6,734.6 560.5,736.0 562.3,737.8 564.2,740.2 566.0,744.4 567.9,747.5 569.7,747.1 571.5,746.8 573.4,746.4 575.2,746.0 577.0,745.7 578.8,745.3 580.6,744.9 582.4,744.6 584.2,744.2 586.0,743.8 587.8,743.5 589.6,743.1 591.4,742.8 593.1,742.4 594.9,742.0 596.7,741.7 598.4,736.9 600.2,732.8 602.0,729.9 603.7,727.7 605.5,725.8 607.2,724.2 608.9,722.8 610.7,721.6 612.4,720.6 614.1,719.7 615.9,718.9 617.6,718.2 619.3,717.7 621.0,717.3 622.7,717.0 624.4,716.8 626.1,716.7 627.8,716.7 629.5,716.8 631.2,717.1 632.9,717.5 634.5,718.0 636.2,718.7 637.9,719.6 639.6,720.7 641.2,722.1 642.9,724.0 644.5,726.7 646.2,731.7 647.8,731.4 649.5,731.1 651.1,730.7 652.7,730.4 654.4,730.1 656.0,729.8 657.6,729.4 659.2,729.1 660.9,728.8 662.5,728.5 664.1,728.1 665.7,727.8 667.3,727.5 668.9,727.2 670.5,726.8 672.1,726.5 673.7,726.2 675.2,719.8 676.8,716.9 678.4,714.7 680.0,712.9 681.0,736.0 210.0,838.0" fill="url(#gFoam)" /><circle cx="591.5" cy="767.5" r="53" stroke="#f6d6ca" stroke-width="3.0" fill="none"/><circle cx="591.5" cy="767.5" r="53" stroke="#a3706a" stroke-width="1.5" stroke-dasharray="5.2 2.8" fill="none"/><circle cx="190.5" cy="789.3" r="37.5" stroke="#f6d6ca" stroke-width="3.0" fill="none"/><circle cx="190.5" cy="789.3" r="37.5" stroke="#a3706a" stroke-width="1.5" stroke-dasharray="5.2 2.8" fill="none"/><line x1="636.5" y1="796.3" x2="787" y2="840.3" stroke="#f6d6ca" stroke-width="3.0" fill="none"/><line x1="636.5" y1="796.3" x2="787" y2="840.3" stroke="#a3706a" stroke-width="1.5" stroke-dasharray="5.2 2.8" fill="none"/><line x1="213" y1="816" x2="300" y2="988.3" stroke="#f6d6ca" stroke-width="3.0" fill="none"/><line x1="213" y1="816" x2="300" y2="988.3" stroke="#a3706a" stroke-width="1.5" stroke-dasharray="5.2 2.8" fill="none"/><line x1="540" y1="648" x2="383.8" y2="1021.7" stroke="#f6d6ca" stroke-width="3.0" fill="none"/><line x1="540" y1="648" x2="383.8" y2="1021.7" stroke="#a3706a" stroke-width="1.5" stroke-dasharray="5.2 2.8" fill="none"/><polygon points="207.3,793.5 210.1,791.7 212.9,790.2 215.7,788.9 218.5,787.8 221.3,786.9 224.1,786.2 226.9,785.7 229.7,785.3 232.4,785.1 235.2,785.1 237.9,785.3 240.7,785.7 243.4,786.3 246.1,787.1 248.8,788.1 251.5,789.5 254.2,791.2 256.9,793.4 259.6,796.2 262.3,800.3 264.9,809.5 267.6,808.9 270.3,808.4 272.9,807.8 275.5,807.3 278.2,806.7 280.8,806.2 283.4,805.7 286.0,805.1 288.6,804.6 291.2,804.1 293.7,803.5 296.3,803.0 298.9,802.5 301.4,801.9 304.0,801.4 306.5,800.9 309.1,800.4 311.6,791.2 314.1,786.2 316.6,782.4 319.1,779.4 321.6,776.9 324.1,774.7 326.6,772.8 329.1,771.2 331.6,769.8 334.0,768.6 336.5,767.5 338.9,766.7 341.4,766.0 343.8,765.4 346.2,765.0 348.7,764.8 351.1,764.7 353.5,764.8 355.9,765.1 358.3,765.5 360.7,766.1 363.0,766.9 365.4,768.0 367.8,769.3 370.2,771.1 372.5,773.3 374.9,776.3 377.2,781.1 379.5,785.9 381.9,785.4 384.2,784.9 386.5,784.4 388.8,784.0 391.1,783.5 393.4,783.0 395.7,782.5 398.0,782.1 400.3,781.6 402.5,781.1 404.8,780.7 407.0,780.2 409.3,779.8 411.5,779.3 413.8,778.8 416.0,778.4 418.2,773.0 420.5,767.5 422.7,763.8 424.9,760.9 427.1,758.5 429.3,756.4 431.5,754.7 433.7,753.1 435.9,751.8 438.0,750.6 440.2,749.7 442.4,748.8 444.5,748.1 446.7,747.6 448.8,747.2 451.0,746.9 453.1,746.8 455.2,746.8 457.3,747.0 459.5,747.3 461.6,747.7 463.7,748.4 465.8,749.2 467.9,750.3 470.0,751.7 472.0,753.4 474.1,755.7 476.2,759.0 478.3,765.7 480.3,765.3 482.4,764.8 484.4,764.4 486.5,764.0 488.5,763.6 490.6,763.2 492.6,762.8 494.6,762.3 496.6,761.9 498.7,761.5 500.7,761.1 502.7,760.7 504.7,760.3 506.7,759.9 508.6,759.5 510.6,759.1 512.6,758.7 514.6,751.1 516.6,747.4 518.5,744.5 520.5,742.2 522.4,740.3 524.4,738.6 526.3,737.1 528.3,735.9 530.2,734.8 532.1,733.8 534.0,733.0 536.0,732.4 537.9,731.8 539.8,731.4 541.7,731.1 543.6,730.9 545.5,730.9 547.4,731.0 549.3,731.2 551.1,731.5 553.0,732.0 554.9,732.7 556.8,733.5 558.6,734.6 560.5,736.0 562.3,737.8 564.2,740.2 566.0,744.4 567.9,747.5 569.7,747.1 571.5,746.8 573.4,746.4 575.2,746.0 577.0,745.7 578.8,745.3 580.6,744.9 582.4,744.6 584.2,744.2 586.0,743.8 587.8,743.5 589.6,743.1 591.4,742.8 593.1,742.4 594.9,742.0 596.7,741.7 598.4,736.9 600.2,732.8 602.0,729.9 603.7,727.7 605.5,725.8 607.2,724.2 608.9,722.8 610.7,721.6 612.4,720.6 614.1,719.7 615.9,718.9 617.6,718.2 619.3,717.7 621.0,717.3 622.7,717.0 624.4,716.8 626.1,716.7 627.8,716.7 629.5,716.8 631.2,717.1 632.9,717.5 634.5,718.0 636.2,718.7 637.9,719.6 639.6,720.7 641.2,722.1 642.9,724.0 644.5,726.7 646.2,731.7 647.8,731.4 649.5,731.1 651.1,730.7 652.7,730.4 654.4,730.1 656.0,729.8 657.6,729.4 659.2,729.1 660.9,728.8 662.5,728.5 664.1,728.1 665.7,727.8 667.3,727.5 668.9,727.2 670.5,726.8 672.1,726.5 673.7,726.2 675.2,719.8 676.8,716.9 678.4,714.7 680.0,712.9 681.5,711.3 683.1,710.0 684.7,708.8 686.2,707.8 687.8,707.0 689.3,706.2 690.9,705.6 692.4,705.1 694.0,704.6 695.5,704.3 697.0,704.1 698.6,703.9 700.1,703.9 701.6,704.0 703.1,704.2 704.6,704.5 706.2,704.9 707.7,705.4 709.2,706.1 709.5,706.3 709.5,707.9 669.4,684.1 634.1,663.0 602.7,644.3 574.6,627.6 549.4,612.5 526.6,598.9 505.9,586.6 487.0,575.3 469.6,564.9 453.7,555.4 439.0,546.6 439.0,544.6 438.8,544.5 437.8,543.8 436.8,543.3 435.7,542.9 434.7,542.5 433.6,542.3 432.6,542.1 431.5,542.0 430.5,541.9 429.4,541.9 428.4,542.0 427.3,542.2 426.3,542.4 425.2,542.7 424.2,543.1 423.1,543.6 422.0,544.1 421.0,544.8 419.9,545.6 418.9,546.5 417.8,547.6 416.7,549.0 415.7,550.9 414.6,555.2 413.5,555.3 412.4,555.3 411.4,555.4 410.3,555.5 409.2,555.5 408.1,555.6 407.1,555.7 406.0,555.7 404.9,555.8 403.8,555.9 402.7,555.9 401.6,556.0 400.6,556.1 399.5,556.1 398.4,556.2 397.3,556.3 396.2,556.3 395.1,552.8 394.0,550.7 392.9,549.3 391.8,548.2 390.7,547.3 389.6,546.5 388.5,545.9 387.4,545.4 386.3,545.0 385.2,544.7 384.1,544.5 383.0,544.3 381.8,544.2 380.7,544.2 379.6,544.3 378.5,544.4 377.4,544.6 376.3,544.9 375.1,545.3 374.0,545.7 372.9,546.3 371.8,546.9 370.6,547.7 369.5,548.6 368.4,549.7 367.3,551.0 366.1,552.8 365.0,555.3 363.8,558.3 362.7,558.4 361.6,558.5 360.4,558.5 359.3,558.6 358.1,558.7 357.0,558.8 355.8,558.8 354.7,558.9 353.5,559.0 352.4,559.0 351.2,559.1 350.1,559.2 348.9,559.3 347.8,559.3 346.6,559.4 345.5,559.5 344.3,557.3 343.1,554.4 342.0,552.7 340.8,551.4 339.6,550.3 338.5,549.4 337.3,548.7 336.1,548.1 334.9,547.7 333.8,547.3 332.6,547.0 331.4,546.8 330.2,546.7 329.0,546.6 327.8,546.6 326.7,546.7 325.5,546.9 324.3,547.2 323.1,547.5 321.9,548.0 320.7,548.5 319.5,549.2 318.3,549.9 317.1,550.8 315.9,551.9 314.7,553.2 313.5,554.8 312.3,557.0 311.1,561.6 309.9,561.7 308.7,561.8 307.4,561.8 306.2,561.9 305.0,562.0 303.8,562.1 302.6,562.1 301.3,562.2 300.1,562.3 298.9,562.4 297.7,562.4 296.4,562.5 295.2,562.6 294.0,562.7 292.7,562.8 291.5,562.8 290.3,562.9 289.0,558.6 287.8,556.4 286.5,554.8 285.3,553.6 284.1,552.6 282.8,551.8 281.6,551.1 280.3,550.5 279.1,550.1 277.8,549.7 276.5,549.4 275.3,549.3 274.0,549.2 272.8,549.2 271.5,549.3 270.2,549.4 269.0,549.7 267.7,550.0 266.4,550.4 265.2,550.9 263.9,551.6 262.6,552.3 261.3,553.2 260.0,554.3 258.8,555.5 257.5,557.1 256.2,559.1 254.9,562.2 253.6,565.2 252.3,565.3 251.0,565.4 249.7,565.5 248.4,565.5 247.1,565.6 245.8,565.7 244.5,565.8 243.2,565.9 241.9,565.9 240.6,566.0 239.3,566.1 238.0,566.2 236.7,566.3 235.4,566.4 234.1,566.4 232.7,566.5 231.4,563.6 230.1,560.6 228.8,558.6 227.4,557.2 226.1,556.0 224.8,555.0 223.4,554.2 222.1,553.6 220.8,553.1 219.4,552.6 218.1,552.3 216.8,552.1 215.4,551.9 214.1,551.9 212.7,551.9 211.4,552.1 210.0,552.3 208.7,552.6 207.3,553.0 205.9,553.5 204.6,554.1 203.2,554.9 201.9,555.8 200.5,556.8 199.1,558.0 197.7,559.6 196.4,561.4 195.0,564.0 193.6,569.0 192.2,569.1 190.9,569.2 189.5,569.3 188.1,569.3 186.7,569.4 185.3,569.5 183.9,569.6 182.5,569.7 181.1,569.8 179.7,569.9 178.3,570.0 176.9,570.0 175.5,570.1 174.1,570.2 172.7,570.3 171.3,570.4 169.9,570.5 168.5,565.3 167.1,562.9 165.7,561.1 164.2,559.7 162.8,558.6 161.4,557.7 160.0,556.9 158.5,556.3 157.1,555.8 155.7,555.4 154.2,555.1 152.8,554.9 151.4,554.8 149.9,554.8 148.5,554.9 147.0,555.1 145.6,555.4 144.1,555.8 142.7,556.3 141.2,556.9 139.8,557.6 139.8,560.6 142.9,571.8 146.5,584.1 150.3,597.7 154.7,612.8 159.5,629.8 164.9,648.9 171.1,670.5 178.2,695.3 186.4,724.0 195.9,757.5 207.3,797.1" fill="#ad6029"/><polygon points="142.2,569.1 139.8,557.6 142.0,556.5 144.5,568.1" fill="#cb7b35"/><polygon points="143.7,568.4 141.2,556.9 143.5,556.0 146.0,567.6" fill="#cb7b35"/><polygon points="145.2,567.9 142.7,556.3 144.9,555.6 147.5,567.2" fill="#ca7a35"/><polygon points="146.7,567.4 144.1,555.8 146.4,555.2 149.0,566.9" fill="#ca7a34"/><polygon points="148.2,567.1 145.6,555.4 147.8,555.0 150.5,566.7" fill="#c97934"/><polygon points="149.7,566.8 147.0,555.1 149.3,554.9 152.0,566.5" fill="#c97934"/><polygon points="151.2,566.6 148.5,554.9 150.7,554.8 153.5,566.5" fill="#c87834"/><polygon points="152.7,566.5 149.9,554.8 152.1,554.9 155.0,566.5" fill="#c37331"/><polygon points="154.2,566.5 151.4,554.8 153.6,555.0 156.5,566.6" fill="#c17230"/><polygon points="155.7,566.5 152.8,554.9 155.0,555.2 158.0,566.8" fill="#bf702f"/><polygon points="157.2,566.7 154.2,555.1 156.5,555.6 159.5,567.1" fill="#bd6e2e"/><polygon points="158.6,566.9 155.7,555.4 157.9,556.0 160.9,567.4" fill="#ba6c2d"/><polygon points="160.1,567.2 157.1,555.8 159.3,556.6 162.4,567.9" fill="#b86a2c"/><polygon points="161.6,567.6 158.5,556.3 160.7,557.3 163.9,568.5" fill="#b5682b"/><polygon points="163.1,568.1 160.0,556.9 162.2,558.2 165.4,569.2" fill="#b26529"/><polygon points="164.6,568.8 161.4,557.7 163.6,559.2 166.8,570.1" fill="#af6328"/><polygon points="166.0,569.6 162.8,558.6 165.0,560.5 168.3,571.1" fill="#ab6027"/><polygon points="167.5,570.5 164.2,559.7 166.4,562.0 169.8,572.4" fill="#a85e25"/><polygon points="169.0,571.7 165.7,561.1 167.8,564.1 171.2,574.2" fill="#a55b24"/><polygon points="170.4,573.2 167.1,562.9 169.3,567.3 172.7,577.0" fill="#a15822"/><polygon points="171.9,575.2 168.5,565.3 170.7,570.4 174.2,579.6" fill="#9e5521"/><polygon points="173.4,579.7 169.9,570.5 172.1,570.4 175.6,579.5" fill="#9e5521"/><polygon points="174.8,579.6 171.3,570.4 173.5,570.3 177.1,579.4" fill="#a05721"/><polygon points="176.3,579.5 172.7,570.3 174.9,570.2 178.5,579.3" fill="#a35822"/><polygon points="177.7,579.4 174.1,570.2 176.3,570.1 180.0,579.2" fill="#a55a23"/><polygon points="179.2,579.3 175.5,570.1 177.7,570.0 181.4,579.2" fill="#a85b24"/><polygon points="180.6,579.2 176.9,570.0 179.1,569.9 182.9,579.1" fill="#aa5d25"/><polygon points="182.1,579.1 178.3,570.0 180.5,569.8 184.3,579.0" fill="#ad5f26"/><polygon points="183.5,579.0 179.7,569.9 181.9,569.7 185.8,578.9" fill="#af6027"/><polygon points="185.0,578.9 181.1,569.8 183.3,569.6 187.2,578.8" fill="#b26228"/><polygon points="186.4,578.8 182.5,569.7 184.7,569.6 188.7,578.7" fill="#ab5d25"/><polygon points="187.9,578.7 183.9,569.6 186.1,569.5 190.1,578.6" fill="#ac5d26"/><polygon points="189.3,578.6 185.3,569.5 187.5,569.4 191.5,578.5" fill="#ad5e26"/><polygon points="190.7,578.5 186.7,569.4 188.9,569.3 193.0,578.4" fill="#ae5f26"/><polygon points="192.2,578.4 188.1,569.3 190.2,569.2 194.4,578.3" fill="#af5f27"/><polygon points="193.6,578.3 189.5,569.3 191.6,569.1 195.8,578.2" fill="#b06027"/><polygon points="195.0,578.2 190.9,569.2 193.0,569.0 197.2,578.1" fill="#b06127"/><polygon points="196.5,578.1 192.2,569.1 194.4,565.8 198.7,575.3" fill="#b16228"/><polygon points="197.9,578.0 193.6,569.0 195.7,562.5 200.1,572.4" fill="#ac5e26"/><polygon points="199.3,573.7 195.0,564.0 197.1,560.3 201.5,570.5" fill="#b26329"/><polygon points="200.7,571.5 196.4,561.4 198.5,558.7 202.9,569.1" fill="#b8692c"/><polygon points="202.1,569.8 197.7,559.6 199.9,557.3 204.3,567.9" fill="#be6f2f"/><polygon points="203.6,568.5 199.1,558.0 201.2,556.2 205.7,566.9" fill="#c47532"/><polygon points="205.0,567.4 200.5,556.8 202.6,555.3 207.1,566.1" fill="#ca7a35"/><polygon points="206.4,566.5 201.9,555.8 204.0,554.5 208.6,565.3" fill="#cc7c36"/><polygon points="207.8,565.7 203.2,554.9 205.3,553.8 210.0,564.7" fill="#cb7b36"/><polygon points="209.2,565.1 204.6,554.1 206.7,553.2 211.4,564.2" fill="#cb7b35"/><polygon points="210.6,564.5 205.9,553.5 208.0,552.8 212.8,563.8" fill="#ca7a35"/><polygon points="212.0,564.0 207.3,553.0 209.4,552.4 214.2,563.5" fill="#ca7a35"/><polygon points="213.4,563.7 208.7,552.6 210.7,552.2 215.6,563.3" fill="#c97934"/><polygon points="214.8,563.4 210.0,552.3 212.1,552.0 217.0,563.1" fill="#c97934"/><polygon points="216.2,563.2 211.4,552.1 213.4,551.9 218.4,563.0" fill="#c87834"/><polygon points="217.6,563.0 212.7,551.9 214.8,551.9 219.7,563.0" fill="#c47431"/><polygon points="219.0,563.0 214.1,551.9 216.1,552.0 221.1,563.0" fill="#c27330"/><polygon points="220.4,563.0 215.4,551.9 217.5,552.2 222.5,563.2" fill="#c0712f"/><polygon points="221.8,563.1 216.8,552.1 218.8,552.5 223.9,563.4" fill="#be6f2e"/><polygon points="223.1,563.3 218.1,552.3 220.2,552.8 225.3,563.7" fill="#bc6d2d"/><polygon points="224.5,563.5 219.4,552.6 221.5,553.3 226.7,564.1" fill="#b96b2c"/><polygon points="225.9,563.9 220.8,553.1 222.8,553.9 228.0,564.6" fill="#b6692b"/><polygon points="227.3,564.3 222.1,553.6 224.2,554.7 229.4,565.2" fill="#b3672a"/><polygon points="228.7,564.9 223.4,554.2 225.5,555.5 230.8,565.9" fill="#b06429"/><polygon points="230.0,565.5 224.8,555.0 226.8,556.6 232.2,566.8" fill="#ad6227"/><polygon points="231.4,566.3 226.1,556.0 228.2,557.9 233.5,568.0" fill="#aa5f26"/><polygon points="232.8,567.3 227.4,557.2 229.5,559.6 234.9,569.4" fill="#a65c24"/><polygon points="234.2,568.6 228.8,558.6 230.8,562.0 236.3,571.4" fill="#a35923"/><polygon points="235.5,570.2 230.1,560.6 232.1,566.6 237.6,575.3" fill="#9f5721"/><polygon points="236.9,572.8 231.4,563.6 233.5,566.5 239.0,575.2" fill="#9c5420"/><polygon points="238.3,575.3 232.7,566.5 234.8,566.4 240.4,575.1" fill="#9f5621"/><polygon points="239.6,575.2 234.1,566.4 236.1,566.3 241.7,575.0" fill="#a15722"/><polygon points="241.0,575.1 235.4,566.4 237.4,566.2 243.1,574.9" fill="#a45923"/><polygon points="242.3,575.0 236.7,566.3 238.7,566.1 244.4,574.9" fill="#a75b24"/><polygon points="243.7,574.9 238.0,566.2 240.0,566.1 245.8,574.8" fill="#a95c25"/><polygon points="245.0,574.8 239.3,566.1 241.3,566.0 247.1,574.7" fill="#ac5e26"/><polygon points="246.4,574.7 240.6,566.0 242.6,565.9 248.5,574.6" fill="#ae6027"/><polygon points="247.7,574.6 241.9,565.9 243.9,565.8 249.8,574.5" fill="#b16128"/><polygon points="249.1,574.5 243.2,565.9 245.2,565.7 251.2,574.4" fill="#aa5c25"/><polygon points="250.4,574.4 244.5,565.8 246.6,565.7 252.5,574.3" fill="#ab5d26"/><polygon points="251.8,574.4 245.8,565.7 247.9,565.6 253.8,574.2" fill="#ac5e26"/><polygon points="253.1,574.3 247.1,565.6 249.1,565.5 255.2,574.1" fill="#ad5e26"/><polygon points="254.5,574.2 248.4,565.5 250.4,565.4 256.5,574.0" fill="#ae5f27"/><polygon points="255.8,574.1 249.7,565.5 251.7,565.3 257.8,573.9" fill="#af6027"/><polygon points="257.1,574.0 251.0,565.4 253.0,565.2 259.2,573.9" fill="#b06127"/><polygon points="258.5,573.9 252.3,565.3 254.3,565.2 260.5,573.8" fill="#b16128"/><polygon points="259.8,573.8 253.6,565.2 255.6,560.3 261.8,569.5" fill="#b26228"/><polygon points="261.1,571.2 254.9,562.2 256.9,557.9 263.2,567.5" fill="#af6128"/><polygon points="262.4,568.5 256.2,559.1 258.2,556.2 264.5,566.0" fill="#b5672b"/><polygon points="263.8,566.8 257.5,557.1 259.5,554.8 265.8,564.8" fill="#bb6c2e"/><polygon points="265.1,565.4 258.8,555.5 260.7,553.7 267.1,563.8" fill="#c17231"/><polygon points="266.4,564.3 260.0,554.3 262.0,552.7 268.4,562.9" fill="#c77834"/><polygon points="267.7,563.4 261.3,553.2 263.3,551.9 269.8,562.2" fill="#cc7c36"/><polygon points="269.0,562.6 262.6,552.3 264.6,551.2 271.1,561.6" fill="#cb7b36"/><polygon points="270.4,561.9 263.9,551.6 265.8,550.6 272.4,561.1" fill="#cb7b35"/><polygon points="271.7,561.4 265.2,550.9 267.1,550.2 273.7,560.7" fill="#ca7a35"/><polygon points="273.0,560.9 266.4,550.4 268.4,549.8 275.0,560.3" fill="#ca7a35"/><polygon points="274.3,560.5 267.7,550.0 269.7,549.5 276.3,560.1" fill="#ca7a34"/><polygon points="275.6,560.2 269.0,549.7 270.9,549.3 277.6,559.9" fill="#c97934"/><polygon points="276.9,560.0 270.2,549.4 272.2,549.2 278.9,559.8" fill="#c97934"/><polygon points="278.2,559.8 271.5,549.3 273.5,549.2 280.2,559.7" fill="#c87834"/><polygon points="279.5,559.7 272.8,549.2 274.7,549.2 281.5,559.7" fill="#c37331"/><polygon points="280.8,559.7 274.0,549.2 276.0,549.4 282.8,559.8" fill="#c17230"/><polygon points="282.1,559.8 275.3,549.3 277.2,549.6 284.1,560.0" fill="#bf702f"/><polygon points="283.4,559.9 276.5,549.4 278.5,549.9 285.4,560.3" fill="#bd6e2e"/><polygon points="284.7,560.1 277.8,549.7 279.7,550.3 286.7,560.6" fill="#ba6c2d"/><polygon points="286.0,560.4 279.1,550.1 281.0,550.8 288.0,561.0" fill="#b76a2c"/><polygon points="287.3,560.8 280.3,550.5 282.2,551.4 289.3,561.5" fill="#b5682a"/><polygon points="288.6,561.2 281.6,551.1 283.5,552.2 290.6,562.2" fill="#b26529"/><polygon points="289.9,561.8 282.8,551.8 284.7,553.1 291.8,562.9" fill="#ae6328"/><polygon points="291.1,562.5 284.1,552.6 286.0,554.2 293.1,563.9" fill="#ab6026"/><polygon points="292.4,563.3 285.3,553.6 287.2,555.6 294.4,565.1" fill="#a85d25"/><polygon points="293.7,564.4 286.5,554.8 288.5,557.5 295.7,566.6" fill="#a45b24"/><polygon points="295.0,565.7 287.8,556.4 289.7,560.5 297.0,569.2" fill="#a15822"/><polygon points="296.3,567.6 289.0,558.6 290.9,562.9 298.2,571.2" fill="#9d5520"/><polygon points="297.5,571.3 290.3,562.9 292.2,562.8 299.5,571.1" fill="#9e5521"/><polygon points="298.8,571.2 291.5,562.8 293.4,562.7 300.8,571.0" fill="#a05722"/><polygon points="300.1,571.1 292.7,562.8 294.7,562.6 302.0,571.0" fill="#a35822"/><polygon points="301.4,571.0 294.0,562.7 295.9,562.6 303.3,570.9" fill="#a55a23"/><polygon points="302.6,570.9 295.2,562.6 297.1,562.5 304.6,570.8" fill="#a85c24"/><polygon points="303.9,570.8 296.4,562.5 298.3,562.4 305.8,570.7" fill="#aa5d25"/><polygon points="305.2,570.7 297.7,562.4 299.6,562.3 307.1,570.6" fill="#ad5f26"/><polygon points="306.4,570.7 298.9,562.4 300.8,562.3 308.4,570.5" fill="#b06027"/><polygon points="307.7,570.6 300.1,562.3 302.0,562.2 309.6,570.4" fill="#aa5c25"/><polygon points="308.9,570.5 301.3,562.2 303.2,562.1 310.9,570.4" fill="#ab5d25"/><polygon points="310.2,570.4 302.6,562.1 304.5,562.0 312.1,570.3" fill="#ac5d26"/><polygon points="311.4,570.3 303.8,562.1 305.7,561.9 313.4,570.2" fill="#ad5e26"/><polygon points="312.7,570.2 305.0,562.0 306.9,561.9 314.6,570.1" fill="#ae5f26"/><polygon points="314.0,570.2 306.2,561.9 308.1,561.8 315.9,570.0" fill="#af6027"/><polygon points="315.2,570.1 307.4,561.8 309.3,561.7 317.1,569.9" fill="#b06027"/><polygon points="316.5,570.0 308.7,561.8 310.5,561.6 318.4,569.9" fill="#b16127"/><polygon points="317.7,569.9 309.9,561.7 311.7,558.5 319.6,567.1" fill="#b16228"/><polygon points="318.9,569.8 311.1,561.6 312.9,555.7 320.9,564.7" fill="#ac5e26"/><polygon points="320.2,565.9 312.3,557.0 314.1,553.9 322.1,563.1" fill="#b26429"/><polygon points="321.4,564.0 313.5,554.8 315.4,552.5 323.3,561.9" fill="#b96a2c"/><polygon points="322.7,562.5 314.7,553.2 316.6,551.3 324.6,560.9" fill="#bf6f2f"/><polygon points="323.9,561.4 315.9,551.9 317.8,550.3 325.8,560.0" fill="#c57532"/><polygon points="325.1,560.5 317.1,550.8 319.0,549.5 327.0,559.3" fill="#cb7b35"/><polygon points="326.4,559.7 318.3,549.9 320.2,548.8 328.3,558.7" fill="#cc7c36"/><polygon points="327.6,559.0 319.5,549.2 321.3,548.2 329.5,558.2" fill="#cb7b35"/><polygon points="328.8,558.4 320.7,548.5 322.5,547.7 330.7,557.7" fill="#cb7b35"/><polygon points="330.1,558.0 321.9,548.0 323.7,547.3 332.0,557.4" fill="#ca7a35"/><polygon points="331.3,557.6 323.1,547.5 324.9,547.0 333.2,557.1" fill="#ca7a35"/><polygon points="332.5,557.3 324.3,547.2 326.1,546.8 334.4,556.9" fill="#c97934"/><polygon points="333.7,557.0 325.5,546.9 327.3,546.7 335.6,556.8" fill="#c97934"/><polygon points="335.0,556.8 326.7,546.7 328.5,546.6 336.8,556.7" fill="#c87834"/><polygon points="336.2,556.7 327.8,546.6 329.7,546.6 338.1,556.7" fill="#c47431"/><polygon points="337.4,556.7 329.0,546.6 330.9,546.7 339.3,556.7" fill="#c27330"/><polygon points="338.6,556.7 330.2,546.7 332.0,546.9 340.5,556.9" fill="#c0712f"/><polygon points="339.8,556.8 331.4,546.8 333.2,547.1 341.7,557.1" fill="#be6f2e"/><polygon points="341.0,556.9 332.6,547.0 334.4,547.5 342.9,557.3" fill="#bb6d2d"/><polygon points="342.3,557.2 333.8,547.3 335.6,547.9 344.1,557.7" fill="#b96b2c"/><polygon points="343.5,557.5 334.9,547.7 336.7,548.4 345.3,558.1" fill="#b6692b"/><polygon points="344.7,557.9 336.1,548.1 337.9,549.1 346.5,558.7" fill="#b3662a"/><polygon points="345.9,558.4 337.3,548.7 339.1,549.9 347.7,559.3" fill="#b06428"/><polygon points="347.1,559.0 338.5,549.4 340.3,550.8 348.9,560.1" fill="#ad6127"/><polygon points="348.3,559.7 339.6,550.3 341.4,552.0 350.1,561.1" fill="#a95f26"/><polygon points="349.5,560.6 340.8,551.4 342.6,553.5 351.3,562.4" fill="#a65c24"/><polygon points="350.7,561.7 342.0,552.7 343.8,555.7 352.5,564.2" fill="#a25923"/><polygon points="351.9,563.1 343.1,554.4 344.9,559.5 353.7,567.5" fill="#9f5621"/><polygon points="353.1,565.6 344.3,557.3 346.1,559.4 354.9,567.4" fill="#9d5420"/><polygon points="354.3,567.4 345.5,559.5 347.2,559.4 356.1,567.3" fill="#9f5621"/><polygon points="355.5,567.4 346.6,559.4 348.4,559.3 357.3,567.2" fill="#a25822"/><polygon points="356.7,567.3 347.8,559.3 349.6,559.2 358.5,567.2" fill="#a45923"/><polygon points="357.8,567.2 348.9,559.3 350.7,559.1 359.7,567.1" fill="#a75b24"/><polygon points="359.0,567.1 350.1,559.2 351.9,559.1 360.9,567.0" fill="#a95c25"/><polygon points="360.2,567.0 351.2,559.1 353.0,559.0 362.1,566.9" fill="#ac5e26"/><polygon points="361.4,567.0 352.4,559.0 354.2,558.9 363.2,566.8" fill="#ae6027"/><polygon points="362.6,566.9 353.5,559.0 355.3,558.9 364.4,566.8" fill="#b16128"/><polygon points="363.8,566.8 354.7,558.9 356.5,558.8 365.6,566.7" fill="#ab5c25"/><polygon points="364.9,566.7 355.8,558.8 357.6,558.7 366.8,566.6" fill="#ab5d26"/><polygon points="366.1,566.6 357.0,558.8 358.8,558.6 367.9,566.5" fill="#ac5e26"/><polygon points="367.3,566.6 358.1,558.7 359.9,558.6 369.1,566.4" fill="#ad5e26"/><polygon points="368.5,566.5 359.3,558.6 361.1,558.5 370.3,566.4" fill="#ae5f27"/><polygon points="369.7,566.4 360.4,558.5 362.2,558.4 371.5,566.3" fill="#af6027"/><polygon points="370.8,566.3 361.6,558.5 363.3,558.4 372.6,566.2" fill="#b06127"/><polygon points="372.0,566.3 362.7,558.4 364.5,558.3 373.8,566.1" fill="#b16128"/><polygon points="373.2,566.2 363.8,558.3 365.6,553.8 375.0,562.2" fill="#b26228"/><polygon points="374.3,563.6 365.0,555.3 366.7,551.8 376.1,560.5" fill="#b06128"/><polygon points="375.5,561.4 366.1,552.8 367.9,550.3 377.3,559.2" fill="#b6672b"/><polygon points="376.7,559.9 367.3,551.0 369.0,549.1 378.4,558.2" fill="#bc6d2e"/><polygon points="377.8,558.7 368.4,549.7 370.1,548.1 379.6,557.3" fill="#c27231"/><polygon points="379.0,557.8 369.5,548.6 371.3,547.2 380.8,556.6" fill="#c87834"/><polygon points="380.1,557.0 370.6,547.7 372.4,546.5 381.9,556.0" fill="#cc7c36"/><polygon points="381.3,556.3 371.8,546.9 373.5,545.9 383.1,555.4" fill="#cb7b36"/><polygon points="382.4,555.7 372.9,546.3 374.6,545.5 384.2,555.0" fill="#cb7b35"/><polygon points="383.6,555.2 374.0,545.7 375.8,545.0 385.4,554.6" fill="#ca7a35"/><polygon points="384.8,554.8 375.1,545.3 376.9,544.7 386.5,554.3" fill="#ca7a35"/><polygon points="385.9,554.5 376.3,544.9 378.0,544.5 387.7,554.1" fill="#c97934"/><polygon points="387.1,554.2 377.4,544.6 379.1,544.3 388.8,554.0" fill="#c97934"/><polygon points="388.2,554.0 378.5,544.4 380.2,544.2 390.0,553.9" fill="#c97934"/><polygon points="389.3,553.9 379.6,544.3 381.3,544.2 391.1,553.8" fill="#c87834"/><polygon points="390.5,553.8 380.7,544.2 382.5,544.2 392.3,553.8" fill="#c37331"/><polygon points="391.6,553.8 381.8,544.2 383.6,544.4 393.4,553.9" fill="#c17230"/><polygon points="392.8,553.9 383.0,544.3 384.7,544.6 394.5,554.1" fill="#bf702f"/><polygon points="393.9,554.0 384.1,544.5 385.8,544.9 395.7,554.3" fill="#bd6e2e"/><polygon points="395.0,554.2 385.2,544.7 386.9,545.2 396.8,554.6" fill="#ba6c2d"/><polygon points="396.2,554.4 386.3,545.0 388.0,545.7 397.9,555.0" fill="#b76a2c"/><polygon points="397.3,554.8 387.4,545.4 389.1,546.2 399.1,555.5" fill="#b4672a"/><polygon points="398.5,555.2 388.5,545.9 390.2,546.9 400.2,556.0" fill="#b16529"/><polygon points="399.6,555.7 389.6,546.5 391.3,547.7 401.3,556.7" fill="#ae6228"/><polygon points="400.7,556.3 390.7,547.3 392.4,548.8 402.5,557.6" fill="#ab6026"/><polygon points="401.8,557.1 391.8,548.2 393.5,550.0 403.6,558.6" fill="#a75d25"/><polygon points="403.0,558.0 392.9,549.3 394.6,551.7 404.7,560.0" fill="#a45a23"/><polygon points="404.1,559.2 394.0,550.7 395.7,554.6 405.8,562.5" fill="#a05822"/><polygon points="405.2,560.9 395.1,552.8 396.8,556.3 407.0,563.9" fill="#9d5520"/><polygon points="406.3,564.0 396.2,556.3 397.9,556.2 408.1,563.8" fill="#9e5521"/><polygon points="407.5,563.9 397.3,556.3 399.0,556.2 409.2,563.8" fill="#a15722"/><polygon points="408.6,563.8 398.4,556.2 400.1,556.1 410.3,563.7" fill="#a35823"/><polygon points="409.7,563.7 399.5,556.1 401.2,556.0 411.4,563.6" fill="#a65a23"/><polygon points="410.8,563.7 400.6,556.1 402.2,556.0 412.5,563.6" fill="#a85c24"/><polygon points="411.9,563.6 401.6,556.0 403.3,555.9 413.6,563.5" fill="#ab5d25"/><polygon points="413.0,563.5 402.7,555.9 404.4,555.8 414.8,563.4" fill="#ad5f26"/><polygon points="414.2,563.4 403.8,555.9 405.5,555.8 415.9,563.3" fill="#b06127"/><polygon points="415.3,563.4 404.9,555.8 406.6,555.7 417.0,563.3" fill="#aa5c25"/><polygon points="416.4,563.3 406.0,555.7 407.7,555.6 418.1,563.2" fill="#ab5d25"/><polygon points="417.5,563.2 407.1,555.7 408.7,555.6 419.2,563.1" fill="#ac5d26"/><polygon points="418.6,563.1 408.1,555.6 409.8,555.5 420.3,563.0" fill="#ad5e26"/><polygon points="419.7,563.1 409.2,555.5 410.9,555.4 421.4,563.0" fill="#ae5f26"/><polygon points="420.8,563.0 410.3,555.5 412.0,555.4 422.5,562.9" fill="#af6027"/><polygon points="421.9,562.9 411.4,555.4 413.0,555.3 423.6,562.8" fill="#b06027"/><polygon points="423.0,562.9 412.4,555.3 414.1,555.2 424.7,562.7" fill="#b16127"/><polygon points="424.1,562.8 413.5,555.3 415.2,552.1 425.8,560.1" fill="#b26228"/><polygon points="425.2,562.7 414.6,555.2 416.2,549.8 426.9,558.1" fill="#ad5f27"/><polygon points="426.3,559.0 415.7,550.9 417.3,548.2 428.0,556.7" fill="#b3652a"/><polygon points="427.4,557.4 416.7,549.0 418.4,547.0 429.1,555.7" fill="#b96a2d"/><polygon points="428.5,556.2 417.8,547.6 419.4,546.0 430.2,554.8" fill="#bf7030"/><polygon points="429.6,555.2 418.9,546.5 420.5,545.1 431.2,554.0" fill="#c57633"/><polygon points="430.7,554.4 419.9,545.6 421.6,544.4 432.3,553.4" fill="#cb7b36"/><polygon points="431.7,553.7 421.0,544.8 422.6,543.8 433.4,552.9" fill="#cc7c36"/><polygon points="432.8,553.1 422.0,544.1 423.7,543.3 434.5,552.4" fill="#cb7b35"/><polygon points="433.9,552.7 423.1,543.6 424.7,542.9 435.6,552.0" fill="#cb7b35"/><polygon points="435.0,552.2 424.2,543.1 425.8,542.5 436.7,551.7" fill="#ca7a35"/><polygon points="436.1,551.9 425.2,542.7 426.9,542.3 437.7,551.5" fill="#ca7a35"/><polygon points="437.2,551.6 426.3,542.4 427.9,542.1 438.8,551.3" fill="#c97934"/><polygon points="438.2,551.4 427.3,542.2 429.0,542.0 439.9,551.2" fill="#c97934"/><polygon points="439.3,551.3 428.4,542.0 430.0,541.9 441.0,551.1" fill="#c87834"/><polygon points="440.4,551.2 429.4,541.9 431.1,541.9 442.1,551.1" fill="#c47431"/><polygon points="441.5,551.1 430.5,541.9 432.1,542.0 443.1,551.2" fill="#c27230"/><polygon points="442.5,551.2 431.5,542.0 433.2,542.2 444.2,551.3" fill="#c0712f"/><polygon points="443.6,551.2 432.6,542.1 434.2,542.4 445.3,551.5" fill="#be6f2e"/><polygon points="444.7,551.4 433.6,542.3 435.2,542.7 446.3,551.7" fill="#bb6d2d"/><polygon points="445.8,551.6 434.7,542.5 436.3,543.1 447.4,552.1" fill="#b86b2c"/><polygon points="446.8,551.9 435.7,542.9 437.3,543.6 448.5,552.5" fill="#b6692b"/><polygon points="447.9,552.2 436.8,543.3 438.4,544.2 449.5,552.9" fill="#b3662a"/><polygon points="449.0,552.7 437.8,543.8 439.0,544.6 450.2,553.3" fill="#b06428"/><polygon points="450.0,553.2 438.8,544.5 439.0,544.6 450.2,553.3" fill="#ae6228"/><polygon points="142.2,569.1 143.7,568.4 145.2,567.9 146.7,567.4 148.2,567.1 149.7,566.8 151.2,566.6 152.7,566.5 154.2,566.5 155.7,566.5 157.2,566.7 158.6,566.9 160.1,567.2 161.6,567.6 163.1,568.1 164.6,568.8 166.0,569.6 167.5,570.5 169.0,571.7 170.4,573.2 171.9,575.2 173.4,579.7 174.8,579.6 176.3,579.5 177.7,579.4 179.2,579.3 180.6,579.2 182.1,579.1 183.5,579.0 185.0,578.9 186.4,578.8 187.9,578.7 189.3,578.6 190.7,578.5 192.2,578.4 193.6,578.3 195.0,578.2 196.5,578.1 197.9,578.0 199.3,573.7 200.7,571.5 202.1,569.8 203.6,568.5 205.0,567.4 206.4,566.5 207.8,565.7 209.2,565.1 210.6,564.5 212.0,564.0 213.4,563.7 214.8,563.4 216.2,563.2 217.6,563.0 219.0,563.0 220.4,563.0 221.8,563.1 223.1,563.3 224.5,563.5 225.9,563.9 227.3,564.3 228.7,564.9 230.0,565.5 231.4,566.3 232.8,567.3 234.2,568.6 235.5,570.2 236.9,572.8 238.3,575.3 239.6,575.2 241.0,575.1 242.3,575.0 243.7,574.9 245.0,574.8 246.4,574.7 247.7,574.6 249.1,574.5 250.4,574.4 251.8,574.4 253.1,574.3 254.5,574.2 255.8,574.1 257.1,574.0 258.5,573.9 259.8,573.8 261.1,571.2 262.4,568.5 263.8,566.8 265.1,565.4 266.4,564.3 267.7,563.4 269.0,562.6 270.4,561.9 271.7,561.4 273.0,560.9 274.3,560.5 275.6,560.2 276.9,560.0 278.2,559.8 279.5,559.7 280.8,559.7 282.1,559.8 283.4,559.9 284.7,560.1 286.0,560.4 287.3,560.8 288.6,561.2 289.9,561.8 291.1,562.5 292.4,563.3 293.7,564.4 295.0,565.7 296.3,567.6 297.5,571.3 298.8,571.2 300.1,571.1 301.4,571.0 302.6,570.9 303.9,570.8 305.2,570.7 306.4,570.7 307.7,570.6 308.9,570.5 310.2,570.4 311.4,570.3 312.7,570.2 314.0,570.2 315.2,570.1 316.5,570.0 317.7,569.9 318.9,569.8 320.2,565.9 321.4,564.0 322.7,562.5 323.9,561.4 325.1,560.5 326.4,559.7 327.6,559.0 328.8,558.4 330.1,558.0 331.3,557.6 332.5,557.3 333.7,557.0 335.0,556.8 336.2,556.7 337.4,556.7 338.6,556.7 339.8,556.8 341.0,556.9 342.3,557.2 343.5,557.5 344.7,557.9 345.9,558.4 347.1,559.0 348.3,559.7 349.5,560.6 350.7,561.7 351.9,563.1 353.1,565.6 354.3,567.4 355.5,567.4 356.7,567.3 357.8,567.2 359.0,567.1 360.2,567.0 361.4,567.0 362.6,566.9 363.8,566.8 364.9,566.7 366.1,566.6 367.3,566.6 368.5,566.5 369.7,566.4 370.8,566.3 372.0,566.3 373.2,566.2 374.3,563.6 375.5,561.4 376.7,559.9 377.8,558.7 379.0,557.8 380.1,557.0 381.3,556.3 382.4,555.7 383.6,555.2 384.8,554.8 385.9,554.5 387.1,554.2 388.2,554.0 389.3,553.9 390.5,553.8 391.6,553.8 392.8,553.9 393.9,554.0 395.0,554.2 396.2,554.4 397.3,554.8 398.5,555.2 399.6,555.7 400.7,556.3 401.8,557.1 403.0,558.0 404.1,559.2 405.2,560.9 406.3,564.0 407.5,563.9 408.6,563.8 409.7,563.7 410.8,563.7 411.9,563.6 413.0,563.5 414.2,563.4 415.3,563.4 416.4,563.3 417.5,563.2 418.6,563.1 419.7,563.1 420.8,563.0 421.9,562.9 423.0,562.9 424.1,562.8 425.2,562.7 426.3,559.0 427.4,557.4 428.5,556.2 429.6,555.2 430.7,554.4 431.7,553.7 432.8,553.1 433.9,552.7 435.0,552.2 436.1,551.9 437.2,551.6 438.2,551.4 439.3,551.3 440.4,551.2 441.5,551.1 442.5,551.2 443.6,551.2 444.7,551.4 445.8,551.6 446.8,551.9 447.9,552.2 449.0,552.7 450.0,553.2 450.2,553.3 450.2,556.2 450.1,556.1 449.0,555.5 447.9,555.1 446.9,554.8 445.8,554.5 444.7,554.3 443.6,554.1 442.6,554.1 441.5,554.0 440.4,554.1 439.3,554.2 438.3,554.3 437.2,554.5 436.1,554.8 435.0,555.1 433.9,555.5 432.9,556.0 431.8,556.6 430.7,557.3 429.6,558.1 428.5,559.0 427.4,560.2 426.3,561.8 425.2,565.4 424.1,565.5 423.0,565.6 421.9,565.6 420.8,565.7 419.7,565.8 418.6,565.8 417.5,565.9 416.4,566.0 415.3,566.1 414.2,566.1 413.1,566.2 412.0,566.3 410.8,566.4 409.7,566.4 408.6,566.5 407.5,566.6 406.4,566.7 405.2,563.7 404.1,562.0 403.0,560.8 401.9,559.9 400.7,559.2 399.6,558.6 398.5,558.1 397.3,557.7 396.2,557.3 395.1,557.1 393.9,556.9 392.8,556.8 391.7,556.7 390.5,556.8 389.4,556.8 388.2,557.0 387.1,557.1 385.9,557.4 384.8,557.7 383.6,558.1 382.5,558.6 381.3,559.2 380.2,559.8 379.0,560.6 377.8,561.6 376.7,562.7 375.5,564.2 374.4,566.3 373.2,568.9 372.0,569.0 370.8,569.0 369.7,569.1 368.5,569.2 367.3,569.3 366.2,569.3 365.0,569.4 363.8,569.5 362.6,569.6 361.4,569.7 360.2,569.7 359.1,569.8 357.9,569.9 356.7,570.0 355.5,570.1 354.3,570.1 353.1,568.3 351.9,565.9 350.7,564.5 349.5,563.4 348.3,562.5 347.1,561.8 345.9,561.3 344.7,560.8 343.5,560.4 342.3,560.1 341.1,559.9 339.9,559.7 338.6,559.6 337.4,559.6 336.2,559.7 335.0,559.8 333.8,559.9 332.5,560.2 331.3,560.5 330.1,560.9 328.9,561.4 327.6,561.9 326.4,562.6 325.2,563.4 323.9,564.3 322.7,565.4 321.4,566.8 320.2,568.6 319.0,572.5 317.7,572.6 316.5,572.7 315.2,572.8 314.0,572.8 312.7,572.9 311.5,573.0 310.2,573.1 309.0,573.2 307.7,573.3 306.4,573.4 305.2,573.4 303.9,573.5 302.6,573.6 301.4,573.7 300.1,573.8 298.8,573.9 297.6,574.0 296.3,570.4 295.0,568.5 293.7,567.2 292.4,566.2 291.2,565.4 289.9,564.7 288.6,564.1 287.3,563.7 286.0,563.3 284.7,563.1 283.4,562.9 282.1,562.7 280.8,562.7 279.5,562.7 278.2,562.8 276.9,562.9 275.6,563.2 274.3,563.5 273.0,563.8 271.7,564.3 270.4,564.9 269.1,565.5 267.7,566.3 266.4,567.2 265.1,568.3 263.8,569.6 262.5,571.3 261.1,573.9 259.8,576.5 258.5,576.6 257.1,576.7 255.8,576.8 254.5,576.9 253.1,577.0 251.8,577.1 250.4,577.1 249.1,577.2 247.8,577.3 246.4,577.4 245.1,577.5 243.7,577.6 242.3,577.7 241.0,577.8 239.6,577.9 238.3,578.0 236.9,575.5 235.5,573.0 234.2,571.4 232.8,570.2 231.4,569.2 230.1,568.4 228.7,567.8 227.3,567.2 225.9,566.8 224.5,566.5 223.2,566.2 221.8,566.1 220.4,566.0 219.0,566.0 217.6,566.0 216.2,566.1 214.8,566.4 213.4,566.6 212.0,567.0 210.6,567.5 209.2,568.0 207.8,568.7 206.4,569.4 205.0,570.3 203.6,571.4 202.2,572.7 200.7,574.3 199.3,576.5 197.9,580.7 196.5,580.8 195.0,580.9 193.6,581.0 192.2,581.1 190.8,581.2 189.3,581.3 187.9,581.4 186.4,581.5 185.0,581.6 183.6,581.7 182.1,581.8 180.7,581.9 179.2,582.0 177.8,582.1 176.3,582.2 174.8,582.3 173.4,582.4 171.9,578.0 170.5,576.0 169.0,574.5 167.5,573.4 166.0,572.5 164.6,571.7 163.1,571.1 161.6,570.6 160.1,570.2 158.7,569.9 157.2,569.7 155.7,569.5 154.2,569.5 152.7,569.5 151.2,569.6 149.7,569.8 148.2,570.1 146.7,570.4 145.2,570.9 143.7,571.4 142.2,572.0" fill="#7e441b"/><polyline points="142.2,572.0 143.7,571.4 145.2,570.9 146.7,570.4 148.2,570.1 149.7,569.8 151.2,569.6 152.7,569.5 154.2,569.5 155.7,569.5 157.2,569.7 158.7,569.9 160.1,570.2 161.6,570.6 163.1,571.1 164.6,571.7 166.0,572.5 167.5,573.4 169.0,574.5 170.5,576.0 171.9,578.0 173.4,582.4 174.8,582.3 176.3,582.2 177.8,582.1 179.2,582.0 180.7,581.9 182.1,581.8 183.6,581.7 185.0,581.6 186.4,581.5 187.9,581.4 189.3,581.3 190.8,581.2 192.2,581.1 193.6,581.0 195.0,580.9 196.5,580.8 197.9,580.7 199.3,576.5 200.7,574.3 202.2,572.7 203.6,571.4 205.0,570.3 206.4,569.4 207.8,568.7 209.2,568.0 210.6,567.5 212.0,567.0 213.4,566.6 214.8,566.4 216.2,566.1 217.6,566.0 219.0,566.0 220.4,566.0 221.8,566.1 223.2,566.2 224.5,566.5 225.9,566.8 227.3,567.2 228.7,567.8 230.1,568.4 231.4,569.2 232.8,570.2 234.2,571.4 235.5,573.0 236.9,575.5 238.3,578.0 239.6,577.9 241.0,577.8 242.3,577.7 243.7,577.6 245.1,577.5 246.4,577.4 247.8,577.3 249.1,577.2 250.4,577.1 251.8,577.1 253.1,577.0 254.5,576.9 255.8,576.8 257.1,576.7 258.5,576.6 259.8,576.5 261.1,573.9 262.5,571.3 263.8,569.6 265.1,568.3 266.4,567.2 267.7,566.3 269.1,565.5 270.4,564.9 271.7,564.3 273.0,563.8 274.3,563.5 275.6,563.2 276.9,562.9 278.2,562.8 279.5,562.7 280.8,562.7 282.1,562.7 283.4,562.9 284.7,563.1 286.0,563.3 287.3,563.7 288.6,564.1 289.9,564.7 291.2,565.4 292.4,566.2 293.7,567.2 295.0,568.5 296.3,570.4 297.6,574.0 298.8,573.9 300.1,573.8 301.4,573.7 302.6,573.6 303.9,573.5 305.2,573.4 306.4,573.4 307.7,573.3 309.0,573.2 310.2,573.1 311.5,573.0 312.7,572.9 314.0,572.8 315.2,572.8 316.5,572.7 317.7,572.6 319.0,572.5 320.2,568.6 321.4,566.8 322.7,565.4 323.9,564.3 325.2,563.4 326.4,562.6 327.6,561.9 328.9,561.4 330.1,560.9 331.3,560.5 332.5,560.2 333.8,559.9 335.0,559.8 336.2,559.7 337.4,559.6 338.6,559.6 339.9,559.7 341.1,559.9 342.3,560.1 343.5,560.4 344.7,560.8 345.9,561.3 347.1,561.8 348.3,562.5 349.5,563.4 350.7,564.5 351.9,565.9 353.1,568.3 354.3,570.1 355.5,570.1 356.7,570.0 357.9,569.9 359.1,569.8 360.2,569.7 361.4,569.7 362.6,569.6 363.8,569.5 365.0,569.4 366.2,569.3 367.3,569.3 368.5,569.2 369.7,569.1 370.8,569.0 372.0,569.0 373.2,568.9 374.4,566.3 375.5,564.2 376.7,562.7 377.8,561.6 379.0,560.6 380.2,559.8 381.3,559.2 382.5,558.6 383.6,558.1 384.8,557.7 385.9,557.4 387.1,557.1 388.2,557.0 389.4,556.8 390.5,556.8 391.7,556.7 392.8,556.8 393.9,556.9 395.1,557.1 396.2,557.3 397.3,557.7 398.5,558.1 399.6,558.6 400.7,559.2 401.9,559.9 403.0,560.8 404.1,562.0 405.2,563.7 406.4,566.7 407.5,566.6 408.6,566.5 409.7,566.4 410.8,566.4 412.0,566.3 413.1,566.2 414.2,566.1 415.3,566.1 416.4,566.0 417.5,565.9 418.6,565.8 419.7,565.8 420.8,565.7 421.9,565.6 423.0,565.6 424.1,565.5 425.2,565.4 426.3,561.8 427.4,560.2 428.5,559.0 429.6,558.1 430.7,557.3 431.8,556.6 432.9,556.0 433.9,555.5 435.0,555.1 436.1,554.8 437.2,554.5 438.3,554.3 439.3,554.2 440.4,554.1 441.5,554.0 442.6,554.1 443.6,554.1 444.7,554.3 445.8,554.5 446.9,554.8 447.9,555.1 449.0,555.5 450.1,556.1 450.2,556.2" fill="none" stroke="#5a2e0c" stroke-width="1.7" stroke-opacity="0.95"/><polyline points="142.2,569.1 143.7,568.4 145.2,567.9 146.7,567.4 148.2,567.1 149.7,566.8 151.2,566.6 152.7,566.5 154.2,566.5 155.7,566.5 157.2,566.7 158.6,566.9 160.1,567.2 161.6,567.6 163.1,568.1 164.6,568.8 166.0,569.6 167.5,570.5 169.0,571.7 170.4,573.2 171.9,575.2 173.4,579.7 174.8,579.6 176.3,579.5 177.7,579.4 179.2,579.3 180.6,579.2 182.1,579.1 183.5,579.0 185.0,578.9 186.4,578.8 187.9,578.7 189.3,578.6 190.7,578.5 192.2,578.4 193.6,578.3 195.0,578.2 196.5,578.1 197.9,578.0 199.3,573.7 200.7,571.5 202.1,569.8 203.6,568.5 205.0,567.4 206.4,566.5 207.8,565.7 209.2,565.1 210.6,564.5 212.0,564.0 213.4,563.7 214.8,563.4 216.2,563.2 217.6,563.0 219.0,563.0 220.4,563.0 221.8,563.1 223.1,563.3 224.5,563.5 225.9,563.9 227.3,564.3 228.7,564.9 230.0,565.5 231.4,566.3 232.8,567.3 234.2,568.6 235.5,570.2 236.9,572.8 238.3,575.3 239.6,575.2 241.0,575.1 242.3,575.0 243.7,574.9 245.0,574.8 246.4,574.7 247.7,574.6 249.1,574.5 250.4,574.4 251.8,574.4 253.1,574.3 254.5,574.2 255.8,574.1 257.1,574.0 258.5,573.9 259.8,573.8 261.1,571.2 262.4,568.5 263.8,566.8 265.1,565.4 266.4,564.3 267.7,563.4 269.0,562.6 270.4,561.9 271.7,561.4 273.0,560.9 274.3,560.5 275.6,560.2 276.9,560.0 278.2,559.8 279.5,559.7 280.8,559.7 282.1,559.8 283.4,559.9 284.7,560.1 286.0,560.4 287.3,560.8 288.6,561.2 289.9,561.8 291.1,562.5 292.4,563.3 293.7,564.4 295.0,565.7 296.3,567.6 297.5,571.3 298.8,571.2 300.1,571.1 301.4,571.0 302.6,570.9 303.9,570.8 305.2,570.7 306.4,570.7 307.7,570.6 308.9,570.5 310.2,570.4 311.4,570.3 312.7,570.2 314.0,570.2 315.2,570.1 316.5,570.0 317.7,569.9 318.9,569.8 320.2,565.9 321.4,564.0 322.7,562.5 323.9,561.4 325.1,560.5 326.4,559.7 327.6,559.0 328.8,558.4 330.1,558.0 331.3,557.6 332.5,557.3 333.7,557.0 335.0,556.8 336.2,556.7 337.4,556.7 338.6,556.7 339.8,556.8 341.0,556.9 342.3,557.2 343.5,557.5 344.7,557.9 345.9,558.4 347.1,559.0 348.3,559.7 349.5,560.6 350.7,561.7 351.9,563.1 353.1,565.6 354.3,567.4 355.5,567.4 356.7,567.3 357.8,567.2 359.0,567.1 360.2,567.0 361.4,567.0 362.6,566.9 363.8,566.8 364.9,566.7 366.1,566.6 367.3,566.6 368.5,566.5 369.7,566.4 370.8,566.3 372.0,566.3 373.2,566.2 374.3,563.6 375.5,561.4 376.7,559.9 377.8,558.7 379.0,557.8 380.1,557.0 381.3,556.3 382.4,555.7 383.6,555.2 384.8,554.8 385.9,554.5 387.1,554.2 388.2,554.0 389.3,553.9 390.5,553.8 391.6,553.8 392.8,553.9 393.9,554.0 395.0,554.2 396.2,554.4 397.3,554.8 398.5,555.2 399.6,555.7 400.7,556.3 401.8,557.1 403.0,558.0 404.1,559.2 405.2,560.9 406.3,564.0 407.5,563.9 408.6,563.8 409.7,563.7 410.8,563.7 411.9,563.6 413.0,563.5 414.2,563.4 415.3,563.4 416.4,563.3 417.5,563.2 418.6,563.1 419.7,563.1 420.8,563.0 421.9,562.9 423.0,562.9 424.1,562.8 425.2,562.7 426.3,559.0 427.4,557.4 428.5,556.2 429.6,555.2 430.7,554.4 431.7,553.7 432.8,553.1 433.9,552.7 435.0,552.2 436.1,551.9 437.2,551.6 438.2,551.4 439.3,551.3 440.4,551.2 441.5,551.1 442.5,551.2 443.6,551.2 444.7,551.4 445.8,551.6 446.8,551.9 447.9,552.2 449.0,552.7 450.0,553.2 450.2,553.3" fill="none" stroke="#bf7e45" stroke-width="1.8"/><polygon points="152.2,602.0 142.2,572.0 144.5,571.1 154.9,600.7" fill="#cb7b35"/><polygon points="153.9,601.1 143.7,571.4 146.0,570.6 156.6,600.0" fill="#cb7b35"/><polygon points="155.6,600.4 145.2,570.9 147.5,570.2 158.3,599.5" fill="#ca7a35"/><polygon points="157.3,599.8 146.7,570.4 149.0,569.9 160.0,599.1" fill="#ca7a34"/><polygon points="159.1,599.3 148.2,570.1 150.5,569.7 161.7,598.8" fill="#c97934"/><polygon points="160.8,598.9 149.7,569.8 152.0,569.5 163.4,598.6" fill="#c97934"/><polygon points="162.5,598.7 151.2,569.6 153.5,569.5 165.1,598.5" fill="#c87834"/><polygon points="164.2,598.5 152.7,569.5 155.0,569.5 166.8,598.5" fill="#c37331"/><polygon points="165.9,598.5 154.2,569.5 156.5,569.6 168.5,598.6" fill="#c17230"/><polygon points="167.6,598.5 155.7,569.5 158.0,569.8 170.2,598.9" fill="#bf702f"/><polygon points="169.2,598.7 157.2,569.7 159.5,570.0 171.9,599.2" fill="#bd6e2e"/><polygon points="170.9,599.0 158.7,569.9 160.9,570.4 173.5,599.7" fill="#ba6c2d"/><polygon points="172.6,599.4 160.1,570.2 162.4,570.9 175.2,600.3" fill="#b86a2c"/><polygon points="174.3,599.9 161.6,570.6 163.9,571.4 176.9,601.0" fill="#b5682b"/><polygon points="176.0,600.6 163.1,571.1 165.4,572.1 178.6,601.9" fill="#b26529"/><polygon points="177.7,601.4 164.6,571.7 166.8,573.0 180.2,603.0" fill="#af6328"/><polygon points="179.3,602.4 166.0,572.5 168.3,574.0 181.9,604.4" fill="#ab6027"/><polygon points="181.0,603.6 167.5,573.4 169.8,575.3 183.6,606.1" fill="#a85e25"/><polygon points="182.7,605.1 169.0,574.5 171.3,577.0 185.2,608.4" fill="#a55b24"/><polygon points="184.3,607.1 170.5,576.0 172.7,579.7 186.9,612.0" fill="#a15822"/><polygon points="186.0,609.8 171.9,578.0 174.2,582.3 188.5,615.5" fill="#9e5521"/><polygon points="187.6,615.6 173.4,582.4 175.6,582.2 190.2,615.3" fill="#9e5521"/><polygon points="189.3,615.4 174.8,582.3 177.1,582.1 191.9,615.2" fill="#a05721"/><polygon points="191.0,615.3 176.3,582.2 178.5,582.0 193.5,615.0" fill="#a35822"/><polygon points="192.6,615.1 177.8,582.1 180.0,581.9 195.1,614.9" fill="#a55a23"/><polygon points="194.2,615.0 179.2,582.0 181.4,581.9 196.8,614.8" fill="#a85b24"/><polygon points="195.9,614.8 180.7,581.9 182.9,581.8 198.4,614.6" fill="#aa5d25"/><polygon points="197.5,614.7 182.1,581.8 184.3,581.7 200.1,614.5" fill="#ad5f26"/><polygon points="199.2,614.5 183.6,581.7 185.8,581.6 201.7,614.3" fill="#af6027"/><polygon points="200.8,614.4 185.0,581.6 187.2,581.5 203.3,614.2" fill="#b26228"/><polygon points="202.4,614.3 186.4,581.5 188.7,581.4 205.0,614.0" fill="#ab5d25"/><polygon points="204.1,614.1 187.9,581.4 190.1,581.3 206.6,613.9" fill="#ac5d26"/><polygon points="205.7,614.0 189.3,581.3 191.5,581.2 208.2,613.7" fill="#ad5e26"/><polygon points="207.3,613.8 190.8,581.2 193.0,581.1 209.8,613.6" fill="#ae5f26"/><polygon points="208.9,613.7 192.2,581.1 194.4,581.0 211.4,613.4" fill="#af5f27"/><polygon points="210.6,613.5 193.6,581.0 195.8,580.9 213.0,613.3" fill="#b06027"/><polygon points="212.2,613.4 195.0,580.9 197.2,580.8 214.7,613.2" fill="#b06127"/><polygon points="213.8,613.2 196.5,580.8 198.7,578.0 216.3,609.5" fill="#b16228"/><polygon points="215.4,613.1 197.9,580.7 200.1,575.2 217.9,605.7" fill="#ac5e26"/><polygon points="217.0,607.5 199.3,576.5 201.5,573.4 219.5,603.3" fill="#b26329"/><polygon points="218.6,604.5 200.7,574.3 202.9,571.9 221.1,601.4" fill="#b8692c"/><polygon points="220.2,602.4 202.2,572.7 204.3,570.8 222.7,599.9" fill="#be6f2f"/><polygon points="221.8,600.7 203.6,571.4 205.8,569.8 224.3,598.6" fill="#c47532"/><polygon points="223.4,599.2 205.0,570.3 207.2,569.0 225.9,597.5" fill="#ca7a35"/><polygon points="225.0,598.0 206.4,569.4 208.6,568.3 227.4,596.5" fill="#cc7c36"/><polygon points="226.6,597.0 207.8,568.7 210.0,567.7 229.0,595.7" fill="#cb7b36"/><polygon points="228.2,596.1 209.2,568.0 211.4,567.2 230.6,595.1" fill="#cb7b35"/><polygon points="229.7,595.4 210.6,567.5 212.8,566.8 232.2,594.5" fill="#ca7a35"/><polygon points="231.3,594.8 212.0,567.0 214.2,566.5 233.8,594.1" fill="#ca7a35"/><polygon points="232.9,594.3 213.4,566.6 215.6,566.2 235.3,593.7" fill="#c97934"/><polygon points="234.5,593.9 214.8,566.4 217.0,566.1 236.9,593.5" fill="#c97934"/><polygon points="236.1,593.6 216.2,566.1 218.4,566.0 238.5,593.4" fill="#c87834"/><polygon points="237.6,593.4 217.6,566.0 219.8,566.0 240.0,593.3" fill="#c47431"/><polygon points="239.2,593.4 219.0,566.0 221.1,566.0 241.6,593.4" fill="#c27330"/><polygon points="240.8,593.4 220.4,566.0 222.5,566.1 243.2,593.6" fill="#c0712f"/><polygon points="242.3,593.5 221.8,566.1 223.9,566.4 244.7,593.8" fill="#be6f2e"/><polygon points="243.9,593.7 223.2,566.2 225.3,566.7 246.3,594.2" fill="#bc6d2d"/><polygon points="245.4,594.0 224.5,566.5 226.7,567.0 247.8,594.7" fill="#b96b2c"/><polygon points="247.0,594.4 225.9,566.8 228.1,567.5 249.4,595.4" fill="#b6692b"/><polygon points="248.5,595.0 227.3,567.2 229.4,568.1 250.9,596.1" fill="#b3672a"/><polygon points="250.1,595.7 228.7,567.8 230.8,568.8 252.5,597.1" fill="#b06429"/><polygon points="251.6,596.5 230.1,568.4 232.2,569.7 254.0,598.2" fill="#ad6227"/><polygon points="253.2,597.6 231.4,569.2 233.6,570.8 255.6,599.6" fill="#aa5f26"/><polygon points="254.7,598.8 232.8,570.2 234.9,572.2 257.1,601.5" fill="#a65c24"/><polygon points="256.3,600.4 234.2,571.4 236.3,574.2 258.6,604.1" fill="#a35923"/><polygon points="257.8,602.5 235.5,573.0 237.7,578.0 260.2,609.1" fill="#9f5721"/><polygon points="259.3,605.8 236.9,575.5 239.0,577.9 261.7,609.0" fill="#9c5420"/><polygon points="260.9,609.1 238.3,578.0 240.4,577.8 263.2,608.9" fill="#9f5621"/><polygon points="262.4,608.9 239.6,577.9 241.7,577.7 264.7,608.7" fill="#a15722"/><polygon points="263.9,608.8 241.0,577.8 243.1,577.6 266.3,608.6" fill="#a45923"/><polygon points="265.4,608.7 242.3,577.7 244.4,577.6 267.8,608.4" fill="#a75b24"/><polygon points="267.0,608.5 243.7,577.6 245.8,577.5 269.3,608.3" fill="#a95c25"/><polygon points="268.5,608.4 245.1,577.5 247.1,577.4 270.8,608.2" fill="#ac5e26"/><polygon points="270.0,608.3 246.4,577.4 248.5,577.3 272.3,608.0" fill="#ae6027"/><polygon points="271.5,608.1 247.8,577.3 249.8,577.2 273.8,607.9" fill="#b16128"/><polygon points="273.0,608.0 249.1,577.2 251.2,577.1 275.3,607.8" fill="#aa5c25"/><polygon points="274.5,607.9 250.4,577.1 252.5,577.0 276.8,607.6" fill="#ab5d26"/><polygon points="276.0,607.7 251.8,577.1 253.9,576.9 278.3,607.5" fill="#ac5e26"/><polygon points="277.5,607.6 253.1,577.0 255.2,576.8 279.8,607.4" fill="#ad5e26"/><polygon points="279.0,607.5 254.5,576.9 256.5,576.7 281.3,607.2" fill="#ae5f27"/><polygon points="280.5,607.3 255.8,576.8 257.9,576.6 282.8,607.1" fill="#af6027"/><polygon points="282.0,607.2 257.1,576.7 259.2,576.6 284.3,607.0" fill="#b06127"/><polygon points="283.5,607.1 258.5,576.6 260.5,576.5 285.8,606.9" fill="#b16128"/><polygon points="285.0,606.9 259.8,576.5 261.9,572.3 287.3,601.4" fill="#b26228"/><polygon points="286.5,603.5 261.1,573.9 263.2,570.3 288.8,598.8" fill="#af6128"/><polygon points="288.0,600.1 262.5,571.3 264.5,568.8 290.3,596.8" fill="#b5672b"/><polygon points="289.5,597.8 263.8,569.6 265.8,567.7 291.7,595.2" fill="#bb6c2e"/><polygon points="290.9,596.1 265.1,568.3 267.1,566.7 293.2,593.9" fill="#c17231"/><polygon points="292.4,594.6 266.4,567.2 268.5,565.8 294.7,592.8" fill="#c77834"/><polygon points="293.9,593.4 267.7,566.3 269.8,565.1 296.2,591.9" fill="#cc7c36"/><polygon points="295.4,592.4 269.1,565.5 271.1,564.5 297.6,591.1" fill="#cb7b36"/><polygon points="296.8,591.5 270.4,564.9 272.4,564.0 299.1,590.4" fill="#cb7b35"/><polygon points="298.3,590.8 271.7,564.3 273.7,563.6 300.6,589.9" fill="#ca7a35"/><polygon points="299.8,590.2 273.0,563.8 275.0,563.3 302.0,589.4" fill="#ca7a35"/><polygon points="301.2,589.7 274.3,563.5 276.3,563.0 303.5,589.1" fill="#ca7a34"/><polygon points="302.7,589.3 275.6,563.2 277.6,562.8 304.9,588.8" fill="#c97934"/><polygon points="304.1,589.0 276.9,562.9 278.9,562.7 306.4,588.7" fill="#c97934"/><polygon points="305.6,588.7 278.2,562.8 280.2,562.7 307.8,588.6" fill="#c87834"/><polygon points="307.0,588.6 279.5,562.7 281.5,562.7 309.3,588.6" fill="#c37331"/><polygon points="308.5,588.6 280.8,562.7 282.8,562.8 310.7,588.7" fill="#c17230"/><polygon points="309.9,588.7 282.1,562.7 284.1,563.0 312.2,588.9" fill="#bf702f"/><polygon points="311.4,588.8 283.4,562.9 285.4,563.2 313.6,589.2" fill="#bd6e2e"/><polygon points="312.8,589.1 284.7,563.1 286.7,563.5 315.1,589.6" fill="#ba6c2d"/><polygon points="314.3,589.4 286.0,563.3 288.0,563.9 316.5,590.2" fill="#b76a2c"/><polygon points="315.7,589.9 287.3,563.7 289.3,564.4 317.9,590.8" fill="#b5682a"/><polygon points="317.2,590.4 288.6,564.1 290.6,565.1 319.4,591.6" fill="#b26529"/><polygon points="318.6,591.2 289.9,564.7 291.9,565.8 320.8,592.6" fill="#ae6328"/><polygon points="320.0,592.0 291.2,565.4 293.1,566.7 322.2,593.8" fill="#ab6026"/><polygon points="321.4,593.1 292.4,566.2 294.4,567.9 323.6,595.3" fill="#a85d25"/><polygon points="322.9,594.4 293.7,567.2 295.7,569.4 325.1,597.3" fill="#a45b24"/><polygon points="324.3,596.1 295.0,568.5 297.0,572.0 326.5,600.6" fill="#a15822"/><polygon points="325.7,598.5 296.3,570.4 298.3,573.9 327.9,603.1" fill="#9d5520"/><polygon points="327.1,603.2 297.6,574.0 299.5,573.8 329.3,603.0" fill="#9e5521"/><polygon points="328.6,603.1 298.8,573.9 300.8,573.7 330.7,602.9" fill="#a05722"/><polygon points="330.0,603.0 300.1,573.8 302.1,573.7 332.2,602.8" fill="#a35822"/><polygon points="331.4,602.8 301.4,573.7 303.3,573.6 333.6,602.6" fill="#a55a23"/><polygon points="332.8,602.7 302.6,573.6 304.6,573.5 335.0,602.5" fill="#a85c24"/><polygon points="334.2,602.6 303.9,573.5 305.9,573.4 336.4,602.4" fill="#aa5d25"/><polygon points="335.6,602.5 305.2,573.4 307.1,573.3 337.8,602.3" fill="#ad5f26"/><polygon points="337.0,602.3 306.4,573.4 308.4,573.2 339.2,602.2" fill="#b06027"/><polygon points="338.4,602.2 307.7,573.3 309.6,573.1 340.6,602.0" fill="#aa5c25"/><polygon points="339.8,602.1 309.0,573.2 310.9,573.1 342.0,601.9" fill="#ab5d25"/><polygon points="341.2,602.0 310.2,573.1 312.2,573.0 343.4,601.8" fill="#ac5d26"/><polygon points="342.6,601.9 311.5,573.0 313.4,572.9 344.8,601.7" fill="#ad5e26"/><polygon points="344.0,601.7 312.7,572.9 314.7,572.8 346.1,601.5" fill="#ae5f26"/><polygon points="345.4,601.6 314.0,572.8 315.9,572.7 347.5,601.4" fill="#af6027"/><polygon points="346.8,601.5 315.2,572.8 317.2,572.6 348.9,601.3" fill="#b06027"/><polygon points="348.2,601.4 316.5,572.7 318.4,572.6 350.3,601.2" fill="#b16127"/><polygon points="349.5,601.2 317.7,572.6 319.6,569.9 351.7,597.6" fill="#b16228"/><polygon points="350.9,601.1 319.0,572.5 320.9,567.5 353.0,594.6" fill="#ac5e26"/><polygon points="352.3,596.1 320.2,568.6 322.1,566.0 354.4,592.6" fill="#b26429"/><polygon points="353.7,593.6 321.4,566.8 323.4,564.8 355.8,591.0" fill="#b96a2c"/><polygon points="355.0,591.8 322.7,565.4 324.6,563.8 357.2,589.7" fill="#bf6f2f"/><polygon points="356.4,590.3 323.9,564.3 325.8,562.9 358.5,588.6" fill="#c57532"/><polygon points="357.8,589.1 325.2,563.4 327.1,562.2 359.9,587.6" fill="#cb7b35"/><polygon points="359.2,588.1 326.4,562.6 328.3,561.6 361.3,586.8" fill="#cc7c36"/><polygon points="360.5,587.2 327.6,561.9 329.5,561.1 362.6,586.2" fill="#cb7b35"/><polygon points="361.9,586.5 328.9,561.4 330.8,560.7 364.0,585.6" fill="#cb7b35"/><polygon points="363.2,585.9 330.1,560.9 332.0,560.3 365.3,585.1" fill="#ca7a35"/><polygon points="364.6,585.4 331.3,560.5 333.2,560.0 366.7,584.8" fill="#ca7a35"/><polygon points="366.0,585.0 332.5,560.2 334.4,559.8 368.1,584.5" fill="#c97934"/><polygon points="367.3,584.6 333.8,559.9 335.7,559.7 369.4,584.3" fill="#c97934"/><polygon points="368.7,584.4 335.0,559.8 336.9,559.6 370.8,584.2" fill="#c87834"/><polygon points="370.0,584.2 336.2,559.7 338.1,559.6 372.1,584.2" fill="#c47431"/><polygon points="371.4,584.2 337.4,559.6 339.3,559.7 373.4,584.2" fill="#c27330"/><polygon points="372.7,584.2 338.6,559.6 340.5,559.8 374.8,584.4" fill="#c0712f"/><polygon points="374.1,584.3 339.9,559.7 341.7,560.0 376.1,584.6" fill="#be6f2e"/><polygon points="375.4,584.5 341.1,559.9 342.9,560.3 377.5,585.0" fill="#bb6d2d"/><polygon points="376.7,584.8 342.3,560.1 344.1,560.6 378.8,585.4" fill="#b96b2c"/><polygon points="378.1,585.2 343.5,560.4 345.4,561.0 380.1,586.0" fill="#b6692b"/><polygon points="379.4,585.6 344.7,560.8 346.6,561.6 381.5,586.6" fill="#b3662a"/><polygon points="380.7,586.2 345.9,561.3 347.8,562.2 382.8,587.5" fill="#b06428"/><polygon points="382.1,587.0 347.1,561.8 349.0,563.0 384.1,588.5" fill="#ad6127"/><polygon points="383.4,587.9 348.3,562.5 350.2,564.0 385.4,589.7" fill="#a95f26"/><polygon points="384.7,589.0 349.5,563.4 351.4,565.2 386.8,591.3" fill="#a65c24"/><polygon points="386.0,590.4 350.7,564.5 352.6,567.0 388.1,593.7" fill="#a25923"/><polygon points="387.4,592.3 351.9,565.9 353.8,570.2 389.4,597.7" fill="#9f5621"/><polygon points="388.7,595.3 353.1,568.3 355.0,570.1 390.7,597.6" fill="#9d5420"/><polygon points="390.0,597.7 354.3,570.1 356.1,570.0 392.0,597.5" fill="#9f5621"/><polygon points="391.3,597.6 355.5,570.1 357.3,569.9 393.4,597.4" fill="#a25822"/><polygon points="392.6,597.5 356.7,570.0 358.5,569.9 394.7,597.3" fill="#a45923"/><polygon points="394.0,597.4 357.9,569.9 359.7,569.8 396.0,597.2" fill="#a75b24"/><polygon points="395.3,597.2 359.1,569.8 360.9,569.7 397.3,597.1" fill="#a95c25"/><polygon points="396.6,597.1 360.2,569.7 362.1,569.6 398.6,596.9" fill="#ac5e26"/><polygon points="397.9,597.0 361.4,569.7 363.3,569.5 399.9,596.8" fill="#ae6027"/><polygon points="399.2,596.9 362.6,569.6 364.4,569.5 401.2,596.7" fill="#b16128"/><polygon points="400.5,596.8 363.8,569.5 365.6,569.4 402.5,596.6" fill="#ab5c25"/><polygon points="401.8,596.7 365.0,569.4 366.8,569.3 403.8,596.5" fill="#ab5d26"/><polygon points="403.1,596.6 366.2,569.3 368.0,569.2 405.1,596.4" fill="#ac5e26"/><polygon points="404.4,596.4 367.3,569.3 369.1,569.1 406.4,596.3" fill="#ad5e26"/><polygon points="405.7,596.3 368.5,569.2 370.3,569.1 407.7,596.2" fill="#ae5f27"/><polygon points="407.0,596.2 369.7,569.1 371.5,569.0 409.0,596.0" fill="#af6027"/><polygon points="408.2,596.1 370.8,569.0 372.7,568.9 410.2,595.9" fill="#b06127"/><polygon points="409.5,596.0 372.0,569.0 373.8,568.8 411.5,595.8" fill="#b16128"/><polygon points="410.8,595.9 373.2,568.9 375.0,565.0 412.8,590.9" fill="#b26228"/><polygon points="412.1,592.6 374.4,566.3 376.2,563.3 414.1,588.7" fill="#b06128"/><polygon points="413.4,589.8 375.5,564.2 377.3,562.0 415.4,587.0" fill="#b6672b"/><polygon points="414.7,587.9 376.7,562.7 378.5,561.0 416.6,585.7" fill="#bc6d2e"/><polygon points="415.9,586.4 377.8,561.6 379.6,560.2 417.9,584.6" fill="#c27231"/><polygon points="417.2,585.2 379.0,560.6 380.8,559.5 419.2,583.7" fill="#c87834"/><polygon points="418.5,584.1 380.2,559.8 381.9,558.9 420.5,582.9" fill="#cc7c36"/><polygon points="419.8,583.3 381.3,559.2 383.1,558.3 421.7,582.2" fill="#cb7b36"/><polygon points="421.0,582.5 382.5,558.6 384.3,557.9 423.0,581.6" fill="#cb7b35"/><polygon points="422.3,581.9 383.6,558.1 385.4,557.5 424.3,581.1" fill="#ca7a35"/><polygon points="423.6,581.4 384.8,557.7 386.6,557.3 425.5,580.8" fill="#ca7a35"/><polygon points="424.8,581.0 385.9,557.4 387.7,557.0 426.8,580.5" fill="#c97934"/><polygon points="426.1,580.6 387.1,557.1 388.9,556.9 428.0,580.3" fill="#c97934"/><polygon points="427.3,580.4 388.2,557.0 390.0,556.8 429.3,580.1" fill="#c97934"/><polygon points="428.6,580.2 389.4,556.8 391.1,556.7 430.5,580.1" fill="#c87834"/><polygon points="429.9,580.1 390.5,556.8 392.3,556.8 431.8,580.1" fill="#c37331"/><polygon points="431.1,580.1 391.7,556.7 393.4,556.9 433.1,580.2" fill="#c17230"/><polygon points="432.4,580.1 392.8,556.8 394.6,557.0 434.3,580.4" fill="#bf702f"/><polygon points="433.6,580.3 393.9,556.9 395.7,557.2 435.5,580.6" fill="#bd6e2e"/><polygon points="434.9,580.5 395.1,557.1 396.8,557.5 436.8,581.0" fill="#ba6c2d"/><polygon points="436.1,580.8 396.2,557.3 398.0,557.9 438.0,581.5" fill="#b76a2c"/><polygon points="437.4,581.2 397.3,557.7 399.1,558.3 439.3,582.1" fill="#b4672a"/><polygon points="438.6,581.7 398.5,558.1 400.2,558.9 440.5,582.8" fill="#b16529"/><polygon points="439.8,582.4 399.6,558.6 401.4,559.6 441.8,583.6" fill="#ae6228"/><polygon points="441.1,583.1 400.7,559.2 402.5,560.4 443.0,584.7" fill="#ab6026"/><polygon points="442.3,584.1 401.9,559.9 403.6,561.4 444.2,586.0" fill="#a75d25"/><polygon points="443.6,585.2 403.0,560.8 404.7,562.8 445.5,587.8" fill="#a45a23"/><polygon points="444.8,586.7 404.1,562.0 405.9,565.3 446.7,590.9" fill="#a05822"/><polygon points="446.0,588.9 405.2,563.7 407.0,566.6 447.9,592.7" fill="#9d5520"/><polygon points="447.2,592.7 406.4,566.7 408.1,566.5 449.1,592.5" fill="#9e5521"/><polygon points="448.5,592.6 407.5,566.6 409.2,566.5 450.4,592.4" fill="#a15722"/><polygon points="449.7,592.5 408.6,566.5 410.3,566.4 451.6,592.3" fill="#a35823"/><polygon points="450.9,592.4 409.7,566.4 411.5,566.3 452.8,592.2" fill="#a65a23"/><polygon points="452.1,592.3 410.8,566.4 412.6,566.2 454.0,592.1" fill="#a85c24"/><polygon points="453.4,592.2 412.0,566.3 413.7,566.2 455.2,592.0" fill="#ab5d25"/><polygon points="454.6,592.1 413.1,566.2 414.8,566.1 456.5,591.9" fill="#ad5f26"/><polygon points="455.8,592.0 414.2,566.1 415.9,566.0 457.7,591.8" fill="#b06127"/><polygon points="457.0,591.9 415.3,566.1 417.0,566.0 458.9,591.7" fill="#aa5c25"/><polygon points="458.2,591.8 416.4,566.0 418.1,565.9 460.1,591.6" fill="#ab5d25"/><polygon points="459.4,591.7 417.5,565.9 419.2,565.8 461.3,591.5" fill="#ac5d26"/><polygon points="460.6,591.5 418.6,565.8 420.3,565.7 462.5,591.4" fill="#ad5e26"/><polygon points="461.8,591.4 419.7,565.8 421.4,565.7 463.7,591.3" fill="#ae5f26"/><polygon points="463.1,591.3 420.8,565.7 422.5,565.6 464.9,591.2" fill="#af6027"/><polygon points="464.3,591.2 421.9,565.6 423.6,565.5 466.1,591.1" fill="#b06027"/><polygon points="465.5,591.1 423.0,565.6 424.7,565.4 467.3,591.0" fill="#b16127"/><polygon points="466.7,591.0 424.1,565.5 425.8,562.8 468.5,587.6" fill="#b26228"/><polygon points="467.9,590.9 425.2,565.4 426.9,560.9 469.7,585.1" fill="#ad5f27"/><polygon points="469.0,586.3 426.3,561.8 428.0,559.5 470.9,583.4" fill="#b3652a"/><polygon points="470.2,584.3 427.4,560.2 429.1,558.5 472.1,582.0" fill="#b96a2d"/><polygon points="471.4,582.7 428.5,559.0 430.2,557.6 473.3,580.9" fill="#bf7030"/><polygon points="472.6,581.5 429.6,558.1 431.3,556.9 474.5,580.0" fill="#c57633"/><polygon points="473.8,580.5 430.7,557.3 432.4,556.3 475.6,579.2" fill="#cb7b36"/><polygon points="475.0,579.6 431.8,556.6 433.5,555.7 476.8,578.5" fill="#cc7c36"/><polygon points="476.2,578.8 432.9,556.0 434.5,555.3 478.0,577.9" fill="#cb7b35"/><polygon points="477.4,578.2 433.9,555.5 435.6,554.9 479.2,577.4" fill="#cb7b35"/><polygon points="478.6,577.7 435.0,555.1 436.7,554.6 480.4,577.0" fill="#ca7a35"/><polygon points="479.7,577.2 436.1,554.8 437.8,554.4 481.6,576.7" fill="#ca7a35"/><polygon points="480.9,576.9 437.2,554.5 438.9,554.2 482.7,576.5" fill="#c97934"/><polygon points="482.1,576.6 438.3,554.3 439.9,554.1 483.9,576.3" fill="#c97934"/><polygon points="483.3,576.4 439.3,554.2 441.0,554.0 485.1,576.2" fill="#c87834"/><polygon points="484.4,576.3 440.4,554.1 442.1,554.0 486.2,576.2" fill="#c47431"/><polygon points="485.6,576.2 441.5,554.0 443.2,554.1 487.4,576.3" fill="#c27230"/><polygon points="486.8,576.3 442.6,554.1 444.2,554.2 488.6,576.4" fill="#c0712f"/><polygon points="487.9,576.3 443.6,554.1 445.3,554.4 489.7,576.6" fill="#be6f2e"/><polygon points="489.1,576.5 444.7,554.3 446.4,554.6 490.9,576.9" fill="#bb6d2d"/><polygon points="490.3,576.8 445.8,554.5 447.4,554.9 492.1,577.3" fill="#b86b2c"/><polygon points="491.4,577.1 446.9,554.8 448.5,555.3 493.2,577.8" fill="#b6692b"/><polygon points="492.6,577.5 447.9,555.1 449.6,555.8 494.4,578.4" fill="#b3662a"/><polygon points="493.8,578.1 449.0,555.5 450.2,556.2 495.1,578.9" fill="#b06428"/><polygon points="494.9,578.7 450.1,556.1 450.2,556.2 495.1,578.9" fill="#ae6228"/><polygon points="152.2,602.0 153.9,601.1 155.6,600.4 157.3,599.8 159.1,599.3 160.8,598.9 162.5,598.7 164.2,598.5 165.9,598.5 167.6,598.5 169.2,598.7 170.9,599.0 172.6,599.4 174.3,599.9 176.0,600.6 177.7,601.4 179.3,602.4 181.0,603.6 182.7,605.1 184.3,607.1 186.0,609.8 187.6,615.6 189.3,615.4 191.0,615.3 192.6,615.1 194.2,615.0 195.9,614.8 197.5,614.7 199.2,614.5 200.8,614.4 202.4,614.3 204.1,614.1 205.7,614.0 207.3,613.8 208.9,613.7 210.6,613.5 212.2,613.4 213.8,613.2 215.4,613.1 217.0,607.5 218.6,604.5 220.2,602.4 221.8,600.7 223.4,599.2 225.0,598.0 226.6,597.0 228.2,596.1 229.7,595.4 231.3,594.8 232.9,594.3 234.5,593.9 236.1,593.6 237.6,593.4 239.2,593.4 240.8,593.4 242.3,593.5 243.9,593.7 245.4,594.0 247.0,594.4 248.5,595.0 250.1,595.7 251.6,596.5 253.2,597.6 254.7,598.8 256.3,600.4 257.8,602.5 259.3,605.8 260.9,609.1 262.4,608.9 263.9,608.8 265.4,608.7 267.0,608.5 268.5,608.4 270.0,608.3 271.5,608.1 273.0,608.0 274.5,607.9 276.0,607.7 277.5,607.6 279.0,607.5 280.5,607.3 282.0,607.2 283.5,607.1 285.0,606.9 286.5,603.5 288.0,600.1 289.5,597.8 290.9,596.1 292.4,594.6 293.9,593.4 295.4,592.4 296.8,591.5 298.3,590.8 299.8,590.2 301.2,589.7 302.7,589.3 304.1,589.0 305.6,588.7 307.0,588.6 308.5,588.6 309.9,588.7 311.4,588.8 312.8,589.1 314.3,589.4 315.7,589.9 317.2,590.4 318.6,591.2 320.0,592.0 321.4,593.1 322.9,594.4 324.3,596.1 325.7,598.5 327.1,603.2 328.6,603.1 330.0,603.0 331.4,602.8 332.8,602.7 334.2,602.6 335.6,602.5 337.0,602.3 338.4,602.2 339.8,602.1 341.2,602.0 342.6,601.9 344.0,601.7 345.4,601.6 346.8,601.5 348.2,601.4 349.5,601.2 350.9,601.1 352.3,596.1 353.7,593.6 355.0,591.8 356.4,590.3 357.8,589.1 359.2,588.1 360.5,587.2 361.9,586.5 363.2,585.9 364.6,585.4 366.0,585.0 367.3,584.6 368.7,584.4 370.0,584.2 371.4,584.2 372.7,584.2 374.1,584.3 375.4,584.5 376.7,584.8 378.1,585.2 379.4,585.6 380.7,586.2 382.1,587.0 383.4,587.9 384.7,589.0 386.0,590.4 387.4,592.3 388.7,595.3 390.0,597.7 391.3,597.6 392.6,597.5 394.0,597.4 395.3,597.2 396.6,597.1 397.9,597.0 399.2,596.9 400.5,596.8 401.8,596.7 403.1,596.6 404.4,596.4 405.7,596.3 407.0,596.2 408.2,596.1 409.5,596.0 410.8,595.9 412.1,592.6 413.4,589.8 414.7,587.9 415.9,586.4 417.2,585.2 418.5,584.1 419.8,583.3 421.0,582.5 422.3,581.9 423.6,581.4 424.8,581.0 426.1,580.6 427.3,580.4 428.6,580.2 429.9,580.1 431.1,580.1 432.4,580.1 433.6,580.3 434.9,580.5 436.1,580.8 437.4,581.2 438.6,581.7 439.8,582.4 441.1,583.1 442.3,584.1 443.6,585.2 444.8,586.7 446.0,588.9 447.2,592.7 448.5,592.6 449.7,592.5 450.9,592.4 452.1,592.3 453.4,592.2 454.6,592.1 455.8,592.0 457.0,591.9 458.2,591.8 459.4,591.7 460.6,591.5 461.8,591.4 463.1,591.3 464.3,591.2 465.5,591.1 466.7,591.0 467.9,590.9 469.0,586.3 470.2,584.3 471.4,582.7 472.6,581.5 473.8,580.5 475.0,579.6 476.2,578.8 477.4,578.2 478.6,577.7 479.7,577.2 480.9,576.9 482.1,576.6 483.3,576.4 484.4,576.3 485.6,576.2 486.8,576.3 487.9,576.3 489.1,576.5 490.3,576.8 491.4,577.1 492.6,577.5 493.8,578.1 494.9,578.7 495.1,578.9 495.2,583.6 495.0,583.5 493.8,583.0 492.6,582.5 491.5,582.2 490.3,581.9 489.1,581.7 488.0,581.5 486.8,581.5 485.6,581.5 484.5,581.5 483.3,581.7 482.1,581.8 481.0,582.1 479.8,582.4 478.6,582.8 477.4,583.3 476.2,583.8 475.0,584.5 473.9,585.2 472.7,586.1 471.5,587.2 470.3,588.5 469.1,590.3 467.9,594.2 466.7,594.3 465.5,594.4 464.3,594.5 463.1,594.6 461.9,594.8 460.7,594.9 459.5,595.0 458.3,595.1 457.0,595.2 455.8,595.3 454.6,595.4 453.4,595.5 452.2,595.6 451.0,595.7 449.7,595.8 448.5,595.9 447.3,596.0 446.1,592.8 444.8,591.0 443.6,589.7 442.4,588.7 441.1,587.9 439.9,587.3 438.6,586.8 437.4,586.3 436.2,586.0 434.9,585.8 433.7,585.6 432.4,585.5 431.2,585.4 429.9,585.5 428.6,585.6 427.4,585.7 426.1,586.0 424.9,586.3 423.6,586.7 422.3,587.1 421.1,587.7 419.8,588.3 418.5,589.1 417.3,590.0 416.0,591.0 414.7,592.3 413.4,593.9 412.1,596.4 410.9,599.2 409.6,599.3 408.3,599.4 407.0,599.5 405.7,599.6 404.4,599.8 403.1,599.9 401.8,600.0 400.5,600.1 399.2,600.2 397.9,600.3 396.6,600.4 395.3,600.5 394.0,600.7 392.7,600.8 391.4,600.9 390.0,601.0 388.7,599.0 387.4,596.4 386.1,594.8 384.8,593.7 383.4,592.7 382.1,592.0 380.8,591.4 379.4,590.9 378.1,590.5 376.8,590.2 375.4,589.9 374.1,589.8 372.7,589.7 371.4,589.7 370.0,589.8 368.7,589.9 367.3,590.2 366.0,590.5 364.6,590.8 363.3,591.3 361.9,591.8 360.6,592.5 359.2,593.2 357.8,594.1 356.4,595.2 355.1,596.4 353.7,598.0 352.3,600.1 350.9,604.4 349.6,604.6 348.2,604.7 346.8,604.8 345.4,604.9 344.0,605.0 342.6,605.2 341.2,605.3 339.8,605.4 338.4,605.5 337.0,605.7 335.6,605.8 334.2,605.9 332.8,606.0 331.4,606.1 330.0,606.3 328.6,606.4 327.2,606.5 325.7,602.5 324.3,600.5 322.9,599.1 321.5,598.0 320.0,597.1 318.6,596.4 317.2,595.8 315.7,595.3 314.3,594.9 312.9,594.6 311.4,594.4 310.0,594.3 308.5,594.3 307.1,594.3 305.6,594.5 304.2,594.7 302.7,595.0 301.2,595.3 299.8,595.8 298.3,596.3 296.9,597.0 295.4,597.7 293.9,598.6 292.4,599.6 291.0,600.9 289.5,602.4 288.0,604.4 286.5,607.3 285.0,610.2 283.5,610.4 282.0,610.5 280.5,610.6 279.1,610.8 277.6,610.9 276.0,611.0 274.5,611.2 273.0,611.3 271.5,611.4 270.0,611.6 268.5,611.7 267.0,611.8 265.5,612.0 263.9,612.1 262.4,612.2 260.9,612.4 259.4,609.6 257.8,606.8 256.3,605.1 254.7,603.7 253.2,602.7 251.7,601.8 250.1,601.1 248.6,600.5 247.0,600.1 245.5,599.7 243.9,599.5 242.3,599.3 240.8,599.3 239.2,599.3 237.6,599.4 236.1,599.5 234.5,599.8 232.9,600.2 231.3,600.6 229.8,601.1 228.2,601.8 226.6,602.5 225.0,603.4 223.4,604.5 221.8,605.7 220.2,607.2 218.6,609.1 217.0,611.6 215.4,616.4 213.8,616.6 212.2,616.7 210.6,616.8 209.0,617.0 207.3,617.1 205.7,617.3 204.1,617.4 202.5,617.6 200.8,617.7 199.2,617.9 197.5,618.0 195.9,618.1 194.3,618.3 192.6,618.4 191.0,618.6 189.3,618.7 187.7,618.9 186.0,614.0 184.3,611.7 182.7,610.1 181.0,608.8 179.3,607.8 177.7,606.9 176.0,606.3 174.3,605.7 172.6,605.3 170.9,605.0 169.3,604.8 167.6,604.6 165.9,604.6 164.2,604.7 162.5,604.8 160.8,605.1 159.1,605.4 157.4,605.8 155.6,606.4 153.9,607.0 152.2,607.8" fill="#7e441b"/><polyline points="152.2,607.8 153.9,607.0 155.6,606.4 157.4,605.8 159.1,605.4 160.8,605.1 162.5,604.8 164.2,604.7 165.9,604.6 167.6,604.6 169.3,604.8 170.9,605.0 172.6,605.3 174.3,605.7 176.0,606.3 177.7,606.9 179.3,607.8 181.0,608.8 182.7,610.1 184.3,611.7 186.0,614.0 187.7,618.9 189.3,618.7 191.0,618.6 192.6,618.4 194.3,618.3 195.9,618.1 197.5,618.0 199.2,617.9 200.8,617.7 202.5,617.6 204.1,617.4 205.7,617.3 207.3,617.1 209.0,617.0 210.6,616.8 212.2,616.7 213.8,616.6 215.4,616.4 217.0,611.6 218.6,609.1 220.2,607.2 221.8,605.7 223.4,604.5 225.0,603.4 226.6,602.5 228.2,601.8 229.8,601.1 231.3,600.6 232.9,600.2 234.5,599.8 236.1,599.5 237.6,599.4 239.2,599.3 240.8,599.3 242.3,599.3 243.9,599.5 245.5,599.7 247.0,600.1 248.6,600.5 250.1,601.1 251.7,601.8 253.2,602.7 254.7,603.7 256.3,605.1 257.8,606.8 259.4,609.6 260.9,612.4 262.4,612.2 263.9,612.1 265.5,612.0 267.0,611.8 268.5,611.7 270.0,611.6 271.5,611.4 273.0,611.3 274.5,611.2 276.0,611.0 277.6,610.9 279.1,610.8 280.5,610.6 282.0,610.5 283.5,610.4 285.0,610.2 286.5,607.3 288.0,604.4 289.5,602.4 291.0,600.9 292.4,599.6 293.9,598.6 295.4,597.7 296.9,597.0 298.3,596.3 299.8,595.8 301.2,595.3 302.7,595.0 304.2,594.7 305.6,594.5 307.1,594.3 308.5,594.3 310.0,594.3 311.4,594.4 312.9,594.6 314.3,594.9 315.7,595.3 317.2,595.8 318.6,596.4 320.0,597.1 321.5,598.0 322.9,599.1 324.3,600.5 325.7,602.5 327.2,606.5 328.6,606.4 330.0,606.3 331.4,606.1 332.8,606.0 334.2,605.9 335.6,605.8 337.0,605.7 338.4,605.5 339.8,605.4 341.2,605.3 342.6,605.2 344.0,605.0 345.4,604.9 346.8,604.8 348.2,604.7 349.6,604.6 350.9,604.4 352.3,600.1 353.7,598.0 355.1,596.4 356.4,595.2 357.8,594.1 359.2,593.2 360.6,592.5 361.9,591.8 363.3,591.3 364.6,590.8 366.0,590.5 367.3,590.2 368.7,589.9 370.0,589.8 371.4,589.7 372.7,589.7 374.1,589.8 375.4,589.9 376.8,590.2 378.1,590.5 379.4,590.9 380.8,591.4 382.1,592.0 383.4,592.7 384.8,593.7 386.1,594.8 387.4,596.4 388.7,599.0 390.0,601.0 391.4,600.9 392.7,600.8 394.0,600.7 395.3,600.5 396.6,600.4 397.9,600.3 399.2,600.2 400.5,600.1 401.8,600.0 403.1,599.9 404.4,599.8 405.7,599.6 407.0,599.5 408.3,599.4 409.6,599.3 410.9,599.2 412.1,596.4 413.4,593.9 414.7,592.3 416.0,591.0 417.3,590.0 418.5,589.1 419.8,588.3 421.1,587.7 422.3,587.1 423.6,586.7 424.9,586.3 426.1,586.0 427.4,585.7 428.6,585.6 429.9,585.5 431.2,585.4 432.4,585.5 433.7,585.6 434.9,585.8 436.2,586.0 437.4,586.3 438.6,586.8 439.9,587.3 441.1,587.9 442.4,588.7 443.6,589.7 444.8,591.0 446.1,592.8 447.3,596.0 448.5,595.9 449.7,595.8 451.0,595.7 452.2,595.6 453.4,595.5 454.6,595.4 455.8,595.3 457.0,595.2 458.3,595.1 459.5,595.0 460.7,594.9 461.9,594.8 463.1,594.6 464.3,594.5 465.5,594.4 466.7,594.3 467.9,594.2 469.1,590.3 470.3,588.5 471.5,587.2 472.7,586.1 473.9,585.2 475.0,584.5 476.2,583.8 477.4,583.3 478.6,582.8 479.8,582.4 481.0,582.1 482.1,581.8 483.3,581.7 484.5,581.5 485.6,581.5 486.8,581.5 488.0,581.5 489.1,581.7 490.3,581.9 491.5,582.2 492.6,582.5 493.8,583.0 495.0,583.5 495.2,583.6" fill="none" stroke="#5a2e0c" stroke-width="1.7" stroke-opacity="0.95"/><polyline points="152.2,602.0 153.9,601.1 155.6,600.4 157.3,599.8 159.1,599.3 160.8,598.9 162.5,598.7 164.2,598.5 165.9,598.5 167.6,598.5 169.2,598.7 170.9,599.0 172.6,599.4 174.3,599.9 176.0,600.6 177.7,601.4 179.3,602.4 181.0,603.6 182.7,605.1 184.3,607.1 186.0,609.8 187.6,615.6 189.3,615.4 191.0,615.3 192.6,615.1 194.2,615.0 195.9,614.8 197.5,614.7 199.2,614.5 200.8,614.4 202.4,614.3 204.1,614.1 205.7,614.0 207.3,613.8 208.9,613.7 210.6,613.5 212.2,613.4 213.8,613.2 215.4,613.1 217.0,607.5 218.6,604.5 220.2,602.4 221.8,600.7 223.4,599.2 225.0,598.0 226.6,597.0 228.2,596.1 229.7,595.4 231.3,594.8 232.9,594.3 234.5,593.9 236.1,593.6 237.6,593.4 239.2,593.4 240.8,593.4 242.3,593.5 243.9,593.7 245.4,594.0 247.0,594.4 248.5,595.0 250.1,595.7 251.6,596.5 253.2,597.6 254.7,598.8 256.3,600.4 257.8,602.5 259.3,605.8 260.9,609.1 262.4,608.9 263.9,608.8 265.4,608.7 267.0,608.5 268.5,608.4 270.0,608.3 271.5,608.1 273.0,608.0 274.5,607.9 276.0,607.7 277.5,607.6 279.0,607.5 280.5,607.3 282.0,607.2 283.5,607.1 285.0,606.9 286.5,603.5 288.0,600.1 289.5,597.8 290.9,596.1 292.4,594.6 293.9,593.4 295.4,592.4 296.8,591.5 298.3,590.8 299.8,590.2 301.2,589.7 302.7,589.3 304.1,589.0 305.6,588.7 307.0,588.6 308.5,588.6 309.9,588.7 311.4,588.8 312.8,589.1 314.3,589.4 315.7,589.9 317.2,590.4 318.6,591.2 320.0,592.0 321.4,593.1 322.9,594.4 324.3,596.1 325.7,598.5 327.1,603.2 328.6,603.1 330.0,603.0 331.4,602.8 332.8,602.7 334.2,602.6 335.6,602.5 337.0,602.3 338.4,602.2 339.8,602.1 341.2,602.0 342.6,601.9 344.0,601.7 345.4,601.6 346.8,601.5 348.2,601.4 349.5,601.2 350.9,601.1 352.3,596.1 353.7,593.6 355.0,591.8 356.4,590.3 357.8,589.1 359.2,588.1 360.5,587.2 361.9,586.5 363.2,585.9 364.6,585.4 366.0,585.0 367.3,584.6 368.7,584.4 370.0,584.2 371.4,584.2 372.7,584.2 374.1,584.3 375.4,584.5 376.7,584.8 378.1,585.2 379.4,585.6 380.7,586.2 382.1,587.0 383.4,587.9 384.7,589.0 386.0,590.4 387.4,592.3 388.7,595.3 390.0,597.7 391.3,597.6 392.6,597.5 394.0,597.4 395.3,597.2 396.6,597.1 397.9,597.0 399.2,596.9 400.5,596.8 401.8,596.7 403.1,596.6 404.4,596.4 405.7,596.3 407.0,596.2 408.2,596.1 409.5,596.0 410.8,595.9 412.1,592.6 413.4,589.8 414.7,587.9 415.9,586.4 417.2,585.2 418.5,584.1 419.8,583.3 421.0,582.5 422.3,581.9 423.6,581.4 424.8,581.0 426.1,580.6 427.3,580.4 428.6,580.2 429.9,580.1 431.1,580.1 432.4,580.1 433.6,580.3 434.9,580.5 436.1,580.8 437.4,581.2 438.6,581.7 439.8,582.4 441.1,583.1 442.3,584.1 443.6,585.2 444.8,586.7 446.0,588.9 447.2,592.7 448.5,592.6 449.7,592.5 450.9,592.4 452.1,592.3 453.4,592.2 454.6,592.1 455.8,592.0 457.0,591.9 458.2,591.8 459.4,591.7 460.6,591.5 461.8,591.4 463.1,591.3 464.3,591.2 465.5,591.1 466.7,591.0 467.9,590.9 469.0,586.3 470.2,584.3 471.4,582.7 472.6,581.5 473.8,580.5 475.0,579.6 476.2,578.8 477.4,578.2 478.6,577.7 479.7,577.2 480.9,576.9 482.1,576.6 483.3,576.4 484.4,576.3 485.6,576.2 486.8,576.3 487.9,576.3 489.1,576.5 490.3,576.8 491.4,577.1 492.6,577.5 493.8,578.1 494.9,578.7 495.1,578.9" fill="none" stroke="#bf7e45" stroke-width="1.8"/><polygon points="166.3,651.2 152.2,607.8 154.9,606.6 169.4,649.6" fill="#cb7b35"/><polygon points="168.3,650.1 153.9,607.0 156.6,606.1 171.4,648.7" fill="#cb7b35"/><polygon points="170.4,649.2 155.6,606.4 158.3,605.6 173.4,648.1" fill="#ca7a35"/><polygon points="172.4,648.4 157.4,605.8 160.0,605.2 175.4,647.5" fill="#ca7a34"/><polygon points="174.4,647.8 159.1,605.4 161.7,604.9 177.4,647.1" fill="#c97934"/><polygon points="176.3,647.3 160.8,605.1 163.4,604.7 179.4,646.8" fill="#c97934"/><polygon points="178.3,647.0 162.5,604.8 165.1,604.6 181.4,646.7" fill="#c87834"/><polygon points="180.3,646.7 164.2,604.7 166.8,604.6 183.4,646.6" fill="#c37331"/><polygon points="182.3,646.6 165.9,604.6 168.5,604.7 185.4,646.7" fill="#c17230"/><polygon points="184.3,646.6 167.6,604.6 170.2,604.9 187.3,646.9" fill="#bf702f"/><polygon points="186.3,646.8 169.3,604.8 171.9,605.1 189.3,647.3" fill="#bd6e2e"/><polygon points="188.2,647.1 170.9,605.0 173.5,605.5 191.3,647.8" fill="#ba6c2d"/><polygon points="190.2,647.5 172.6,605.3 175.2,606.0 193.2,648.4" fill="#b86a2c"/><polygon points="192.1,648.1 174.3,605.7 176.9,606.6 195.2,649.3" fill="#b5682b"/><polygon points="194.1,648.8 176.0,606.3 178.6,607.4 197.1,650.3" fill="#b26529"/><polygon points="196.1,649.7 177.7,606.9 180.3,608.3 199.1,651.5" fill="#af6328"/><polygon points="198.0,650.8 179.3,607.8 181.9,609.5 201.0,653.1" fill="#ab6027"/><polygon points="199.9,652.2 181.0,608.8 183.6,610.9 202.9,655.0" fill="#a85e25"/><polygon points="201.9,653.9 182.7,610.1 185.2,612.8 204.9,657.6" fill="#a55b24"/><polygon points="203.8,656.1 184.3,611.7 186.9,615.9 206.8,661.7" fill="#a15822"/><polygon points="205.8,659.2 186.0,614.0 188.6,618.8 208.7,665.8" fill="#9e5521"/><polygon points="207.7,665.9 187.7,618.9 190.2,618.7 210.7,665.5" fill="#9e5521"/><polygon points="209.6,665.7 189.3,618.7 191.9,618.5 212.6,665.3" fill="#a05721"/><polygon points="211.5,665.4 191.0,618.6 193.5,618.4 214.5,665.1" fill="#a35822"/><polygon points="213.4,665.2 192.6,618.4 195.2,618.2 216.4,664.8" fill="#a55a23"/><polygon points="215.4,665.0 194.3,618.3 196.8,618.1 218.3,664.6" fill="#a85b24"/><polygon points="217.3,664.7 195.9,618.1 198.4,617.9 220.2,664.4" fill="#aa5d25"/><polygon points="219.2,664.5 197.5,618.0 200.1,617.8 222.1,664.2" fill="#ad5f26"/><polygon points="221.1,664.3 199.2,617.9 201.7,617.6 224.0,663.9" fill="#af6027"/><polygon points="223.0,664.1 200.8,617.7 203.3,617.5 225.9,663.7" fill="#b26228"/><polygon points="224.9,663.8 202.5,617.6 205.0,617.3 227.8,663.5" fill="#ab5d25"/><polygon points="226.7,663.6 204.1,617.4 206.6,617.2 229.7,663.3" fill="#ac5d26"/><polygon points="228.6,663.4 205.7,617.3 208.2,617.1 231.5,663.0" fill="#ad5e26"/><polygon points="230.5,663.2 207.3,617.1 209.8,616.9 233.4,662.8" fill="#ae5f26"/><polygon points="232.4,662.9 209.0,617.0 211.5,616.8 235.3,662.6" fill="#af5f27"/><polygon points="234.3,662.7 210.6,616.8 213.1,616.6 237.1,662.4" fill="#b06027"/><polygon points="236.1,662.5 212.2,616.7 214.7,616.5 239.0,662.2" fill="#b06127"/><polygon points="238.0,662.3 213.8,616.6 216.3,613.3 240.9,657.9" fill="#b16228"/><polygon points="239.9,662.1 215.4,616.4 217.9,610.1 242.7,653.5" fill="#ac5e26"/><polygon points="241.7,655.5 217.0,611.6 219.5,608.0 244.6,650.6" fill="#b26329"/><polygon points="243.6,652.0 218.6,609.1 221.1,606.4 246.4,648.3" fill="#b8692c"/><polygon points="245.4,649.5 220.2,607.2 222.7,605.0 248.3,646.5" fill="#be6f2f"/><polygon points="247.3,647.4 221.8,605.7 224.3,603.9 250.1,644.9" fill="#c47532"/><polygon points="249.1,645.7 223.4,604.5 225.9,602.9 251.9,643.6" fill="#ca7a35"/><polygon points="250.9,644.3 225.0,603.4 227.5,602.1 253.8,642.5" fill="#cc7c36"/><polygon points="252.8,643.1 226.6,602.5 229.0,601.4 255.6,641.5" fill="#cb7b36"/><polygon points="254.6,642.0 228.2,601.8 230.6,600.8 257.4,640.7" fill="#cb7b35"/><polygon points="256.4,641.1 229.8,601.1 232.2,600.3 259.3,640.0" fill="#ca7a35"/><polygon points="258.3,640.4 231.3,600.6 233.8,600.0 261.1,639.5" fill="#ca7a35"/><polygon points="260.1,639.7 232.9,600.2 235.4,599.6 262.9,639.0" fill="#c97934"/><polygon points="261.9,639.2 234.5,599.8 236.9,599.4 264.7,638.7" fill="#c97934"/><polygon points="263.7,638.9 236.1,599.5 238.5,599.3 266.5,638.5" fill="#c87834"/><polygon points="265.5,638.6 237.6,599.4 240.1,599.3 268.3,638.4" fill="#c47431"/><polygon points="267.3,638.5 239.2,599.3 241.6,599.3 270.1,638.5" fill="#c27330"/><polygon points="269.1,638.4 240.8,599.3 243.2,599.4 271.9,638.6" fill="#c0712f"/><polygon points="270.9,638.5 242.3,599.3 244.7,599.6 273.7,638.9" fill="#be6f2e"/><polygon points="272.7,638.7 243.9,599.5 246.3,599.9 275.5,639.3" fill="#bc6d2d"/><polygon points="274.5,639.0 245.5,599.7 247.9,600.3 277.3,639.8" fill="#b96b2c"/><polygon points="276.3,639.5 247.0,600.1 249.4,600.8 279.1,640.5" fill="#b6692b"/><polygon points="278.1,640.1 248.6,600.5 251.0,601.5 280.8,641.3" fill="#b3672a"/><polygon points="279.9,640.8 250.1,601.1 252.5,602.3 282.6,642.3" fill="#b06429"/><polygon points="281.6,641.7 251.7,601.8 254.0,603.2 284.4,643.6" fill="#ad6227"/><polygon points="283.4,642.9 253.2,602.7 255.6,604.4 286.1,645.2" fill="#aa5f26"/><polygon points="285.2,644.3 254.7,603.7 257.1,606.0 287.9,647.3" fill="#a65c24"/><polygon points="286.9,646.1 256.3,605.1 258.7,608.1 289.7,650.2" fill="#a35923"/><polygon points="288.7,648.4 257.8,606.8 260.2,612.4 291.4,656.0" fill="#9f5721"/><polygon points="290.5,652.2 259.4,609.6 261.7,612.3 293.2,655.8" fill="#9c5420"/><polygon points="292.2,655.9 260.9,612.4 263.2,612.2 294.9,655.5" fill="#9f5621"/><polygon points="294.0,655.7 262.4,612.2 264.8,612.0 296.7,655.3" fill="#a15722"/><polygon points="295.7,655.5 263.9,612.1 266.3,611.9 298.4,655.1" fill="#a45923"/><polygon points="297.5,655.2 265.5,612.0 267.8,611.8 300.2,654.9" fill="#a75b24"/><polygon points="299.2,655.0 267.0,611.8 269.3,611.6 301.9,654.7" fill="#a95c25"/><polygon points="300.9,654.8 268.5,611.7 270.8,611.5 303.6,654.5" fill="#ac5e26"/><polygon points="302.7,654.6 270.0,611.6 272.3,611.4 305.4,654.3" fill="#ae6027"/><polygon points="304.4,654.4 271.5,611.4 273.9,611.2 307.1,654.1" fill="#b16128"/><polygon points="306.1,654.2 273.0,611.3 275.4,611.1 308.8,653.9" fill="#aa5c25"/><polygon points="307.9,654.0 274.5,611.2 276.9,611.0 310.5,653.7" fill="#ab5d26"/><polygon points="309.6,653.8 276.0,611.0 278.4,610.8 312.2,653.5" fill="#ac5e26"/><polygon points="311.3,653.6 277.6,610.9 279.9,610.7 314.0,653.3" fill="#ad5e26"/><polygon points="313.0,653.4 279.1,610.8 281.4,610.6 315.7,653.1" fill="#ae5f27"/><polygon points="314.7,653.2 280.5,610.6 282.9,610.4 317.4,652.9" fill="#af6027"/><polygon points="316.4,653.0 282.0,610.5 284.3,610.3 319.1,652.7" fill="#b06127"/><polygon points="318.1,652.8 283.5,610.4 285.8,610.2 320.8,652.5" fill="#b16128"/><polygon points="319.8,652.6 285.0,610.2 287.3,605.5 322.5,646.2" fill="#b26228"/><polygon points="321.5,648.7 286.5,607.3 288.8,603.2 324.2,643.1" fill="#af6128"/><polygon points="323.2,644.7 288.0,604.4 290.3,601.5 325.8,640.9" fill="#b5672b"/><polygon points="324.9,642.0 289.5,602.4 291.8,600.2 327.5,639.0" fill="#bb6c2e"/><polygon points="326.6,640.0 291.0,600.9 293.2,599.1 329.2,637.5" fill="#c17231"/><polygon points="328.3,638.3 292.4,599.6 294.7,598.1 330.9,636.2" fill="#c77834"/><polygon points="330.0,636.9 293.9,598.6 296.2,597.3 332.6,635.1" fill="#cc7c36"/><polygon points="331.7,635.7 295.4,597.7 297.7,596.6 334.2,634.1" fill="#cb7b36"/><polygon points="333.3,634.6 296.9,597.0 299.1,596.0 335.9,633.3" fill="#cb7b35"/><polygon points="335.0,633.7 298.3,596.3 300.6,595.5 337.6,632.6" fill="#ca7a35"/><polygon points="336.7,633.0 299.8,595.8 302.0,595.1 339.2,632.1" fill="#ca7a35"/><polygon points="338.3,632.4 301.2,595.3 303.5,594.8 340.9,631.7" fill="#ca7a34"/><polygon points="340.0,631.9 302.7,595.0 305.0,594.6 342.6,631.3" fill="#c97934"/><polygon points="341.7,631.5 304.2,594.7 306.4,594.4 344.2,631.1" fill="#c97934"/><polygon points="343.3,631.2 305.6,594.5 307.9,594.3 345.9,631.0" fill="#c87834"/><polygon points="345.0,631.0 307.1,594.3 309.3,594.3 347.5,630.9" fill="#c37331"/><polygon points="346.6,630.9 308.5,594.3 310.8,594.4 349.2,631.0" fill="#c17230"/><polygon points="348.3,631.0 310.0,594.3 312.2,594.5 350.8,631.2" fill="#bf702f"/><polygon points="349.9,631.1 311.4,594.4 313.6,594.8 352.4,631.5" fill="#bd6e2e"/><polygon points="351.5,631.3 312.9,594.6 315.1,595.1 354.1,631.9" fill="#ba6c2d"/><polygon points="353.2,631.7 314.3,594.9 316.5,595.5 355.7,632.5" fill="#b76a2c"/><polygon points="354.8,632.2 315.7,595.3 318.0,596.1 357.3,633.2" fill="#b5682a"/><polygon points="356.4,632.8 317.2,595.8 319.4,596.7 359.0,634.1" fill="#b26529"/><polygon points="358.1,633.6 318.6,596.4 320.8,597.6 360.6,635.1" fill="#ae6328"/><polygon points="359.7,634.5 320.0,597.1 322.3,598.6 362.2,636.4" fill="#ab6026"/><polygon points="361.3,635.7 321.5,598.0 323.7,599.8 363.8,638.1" fill="#a85d25"/><polygon points="362.9,637.1 322.9,599.1 325.1,601.5 365.4,640.3" fill="#a45b24"/><polygon points="364.5,639.0 324.3,600.5 326.5,604.3 367.0,644.1" fill="#a15822"/><polygon points="366.2,641.7 325.7,602.5 327.9,606.5 368.6,646.9" fill="#9d5520"/><polygon points="367.8,647.0 327.2,606.5 329.4,606.3 370.2,646.7" fill="#9e5521"/><polygon points="369.4,646.8 328.6,606.4 330.8,606.2 371.8,646.5" fill="#a05722"/><polygon points="371.0,646.6 330.0,606.3 332.2,606.1 373.4,646.3" fill="#a35822"/><polygon points="372.6,646.4 331.4,606.1 333.6,606.0 375.0,646.1" fill="#a55a23"/><polygon points="374.2,646.2 332.8,606.0 335.0,605.8 376.6,645.9" fill="#a85c24"/><polygon points="375.8,646.1 334.2,605.9 336.4,605.7 378.2,645.8" fill="#aa5d25"/><polygon points="377.3,645.9 335.6,605.8 337.8,605.6 379.8,645.6" fill="#ad5f26"/><polygon points="378.9,645.7 337.0,605.7 339.2,605.5 381.4,645.4" fill="#b06027"/><polygon points="380.5,645.5 338.4,605.5 340.6,605.3 383.0,645.2" fill="#aa5c25"/><polygon points="382.1,645.3 339.8,605.4 342.0,605.2 384.5,645.0" fill="#ab5d25"/><polygon points="383.7,645.1 341.2,605.3 343.4,605.1 386.1,644.8" fill="#ac5d26"/><polygon points="385.3,644.9 342.6,605.2 344.8,605.0 387.7,644.7" fill="#ad5e26"/><polygon points="386.8,644.8 344.0,605.0 346.2,604.8 389.2,644.5" fill="#ae5f26"/><polygon points="388.4,644.6 345.4,604.9 347.6,604.7 390.8,644.3" fill="#af6027"/><polygon points="390.0,644.4 346.8,604.8 348.9,604.6 392.4,644.1" fill="#b06027"/><polygon points="391.5,644.2 348.2,604.7 350.3,604.5 393.9,643.9" fill="#b16127"/><polygon points="393.1,644.0 349.6,604.6 351.7,601.5 395.5,639.9" fill="#b16228"/><polygon points="394.6,643.8 350.9,604.4 353.1,598.9 397.0,636.4" fill="#ac5e26"/><polygon points="396.2,638.1 352.3,600.1 354.5,597.1 398.6,634.1" fill="#b26429"/><polygon points="397.7,635.3 353.7,598.0 355.8,595.7 400.1,632.2" fill="#b96a2c"/><polygon points="399.3,633.2 355.1,596.4 357.2,594.6 401.7,630.7" fill="#bf6f2f"/><polygon points="400.8,631.5 356.4,595.2 358.6,593.6 403.2,629.4" fill="#c57532"/><polygon points="402.4,630.1 357.8,594.1 359.9,592.8 404.8,628.3" fill="#cb7b35"/><polygon points="403.9,628.9 359.2,593.2 361.3,592.1 406.3,627.4" fill="#cc7c36"/><polygon points="405.5,627.9 360.6,592.5 362.7,591.5 407.8,626.6" fill="#cb7b35"/><polygon points="407.0,627.0 361.9,591.8 364.0,591.0 409.4,625.9" fill="#cb7b35"/><polygon points="408.5,626.3 363.3,591.3 365.4,590.6 410.9,625.4" fill="#ca7a35"/><polygon points="410.1,625.6 364.6,590.8 366.7,590.3 412.4,624.9" fill="#ca7a35"/><polygon points="411.6,625.1 366.0,590.5 368.1,590.0 413.9,624.5" fill="#c97934"/><polygon points="413.1,624.7 367.3,590.2 369.4,589.9 415.5,624.3" fill="#c97934"/><polygon points="414.6,624.4 368.7,589.9 370.8,589.7 417.0,624.1" fill="#c87834"/><polygon points="416.1,624.2 370.0,589.8 372.1,589.7 418.5,624.1" fill="#c47431"/><polygon points="417.7,624.1 371.4,589.7 373.5,589.8 420.0,624.1" fill="#c27330"/><polygon points="419.2,624.1 372.7,589.7 374.8,589.9 421.5,624.2" fill="#c0712f"/><polygon points="420.7,624.2 374.1,589.8 376.2,590.0 423.0,624.5" fill="#be6f2e"/><polygon points="422.2,624.3 375.4,589.9 377.5,590.3 424.5,624.8" fill="#bb6d2d"/><polygon points="423.7,624.6 376.8,590.2 378.8,590.7 426.0,625.3" fill="#b96b2c"/><polygon points="425.2,625.0 378.1,590.5 380.2,591.1 427.5,625.8" fill="#b6692b"/><polygon points="426.7,625.5 379.4,590.9 381.5,591.7 429.0,626.6" fill="#b3662a"/><polygon points="428.2,626.1 380.8,591.4 382.8,592.4 430.5,627.4" fill="#b06428"/><polygon points="429.7,626.9 382.1,592.0 384.2,593.2 432.0,628.5" fill="#ad6127"/><polygon points="431.2,627.9 383.4,592.7 385.5,594.3 433.5,629.9" fill="#a95f26"/><polygon points="432.6,629.1 384.8,593.7 386.8,595.6 434.9,631.7" fill="#a65c24"/><polygon points="434.1,630.7 386.1,594.8 388.1,597.6 436.4,634.2" fill="#a25923"/><polygon points="435.6,632.7 387.4,596.4 389.4,601.1 437.9,638.8" fill="#9f5621"/><polygon points="437.1,636.1 388.7,599.0 390.8,600.9 439.4,638.6" fill="#9d5420"/><polygon points="438.6,638.7 390.0,601.0 392.1,600.8 440.8,638.5" fill="#9f5621"/><polygon points="440.0,638.5 391.4,600.9 393.4,600.7 442.3,638.3" fill="#a25822"/><polygon points="441.5,638.4 392.7,600.8 394.7,600.6 443.8,638.1" fill="#a45923"/><polygon points="443.0,638.2 394.0,600.7 396.0,600.5 445.2,637.9" fill="#a75b24"/><polygon points="444.4,638.0 395.3,600.5 397.3,600.4 446.7,637.8" fill="#a95c25"/><polygon points="445.9,637.9 396.6,600.4 398.6,600.3 448.2,637.6" fill="#ac5e26"/><polygon points="447.4,637.7 397.9,600.3 399.9,600.1 449.6,637.4" fill="#ae6027"/><polygon points="448.8,637.5 399.2,600.2 401.2,600.0 451.1,637.3" fill="#b16128"/><polygon points="450.3,637.4 400.5,600.1 402.5,599.9 452.5,637.1" fill="#ab5c25"/><polygon points="451.7,637.2 401.8,600.0 403.8,599.8 454.0,636.9" fill="#ab5d26"/><polygon points="453.2,637.0 403.1,599.9 405.1,599.7 455.4,636.8" fill="#ac5e26"/><polygon points="454.6,636.9 404.4,599.8 406.4,599.6 456.9,636.6" fill="#ad5e26"/><polygon points="456.1,636.7 405.7,599.6 407.7,599.5 458.3,636.4" fill="#ae5f27"/><polygon points="457.5,636.5 407.0,599.5 409.0,599.4 459.7,636.3" fill="#af6027"/><polygon points="459.0,636.4 408.3,599.4 410.3,599.2 461.2,636.1" fill="#b06127"/><polygon points="460.4,636.2 409.6,599.3 411.6,599.1 462.6,635.9" fill="#b16128"/><polygon points="461.8,636.0 410.9,599.2 412.8,594.9 464.0,630.4" fill="#b26228"/><polygon points="463.3,632.3 412.1,596.4 414.1,593.0 465.5,627.9" fill="#b06128"/><polygon points="464.7,629.1 413.4,593.9 415.4,591.6 466.9,626.0" fill="#b6672b"/><polygon points="466.1,626.9 414.7,592.3 416.7,590.4 468.3,624.5" fill="#bc6d2e"/><polygon points="467.5,625.3 416.0,591.0 417.9,589.5 469.7,623.2" fill="#c27231"/><polygon points="469.0,623.9 417.3,590.0 419.2,588.7 471.1,622.1" fill="#c87834"/><polygon points="470.4,622.7 418.5,589.1 420.5,588.0 472.6,621.2" fill="#cc7c36"/><polygon points="471.8,621.7 419.8,588.3 421.8,587.4 474.0,620.4" fill="#cb7b36"/><polygon points="473.2,620.8 421.1,587.7 423.0,586.9 475.4,619.7" fill="#cb7b35"/><polygon points="474.6,620.1 422.3,587.1 424.3,586.5 476.8,619.2" fill="#ca7a35"/><polygon points="476.0,619.4 423.6,586.7 425.6,586.1 478.2,618.7" fill="#ca7a35"/><polygon points="477.4,618.9 424.9,586.3 426.8,585.8 479.6,618.3" fill="#c97934"/><polygon points="478.8,618.5 426.1,586.0 428.1,585.6 481.0,618.0" fill="#c97934"/><polygon points="480.2,618.2 427.4,585.7 429.3,585.5 482.4,617.9" fill="#c97934"/><polygon points="481.6,618.0 428.6,585.6 430.6,585.5 483.8,617.8" fill="#c87834"/><polygon points="483.0,617.8 429.9,585.5 431.8,585.5 485.2,617.8" fill="#c37331"/><polygon points="484.4,617.8 431.2,585.4 433.1,585.5 486.6,617.8" fill="#c17230"/><polygon points="485.8,617.8 432.4,585.5 434.3,585.7 488.0,618.0" fill="#bf702f"/><polygon points="487.2,617.9 433.7,585.6 435.6,585.9 489.3,618.3" fill="#bd6e2e"/><polygon points="488.6,618.1 434.9,585.8 436.8,586.2 490.7,618.6" fill="#ba6c2d"/><polygon points="490.0,618.4 436.2,586.0 438.1,586.6 492.1,619.1" fill="#b76a2c"/><polygon points="491.4,618.8 437.4,586.3 439.3,587.0 493.5,619.7" fill="#b4672a"/><polygon points="492.7,619.4 438.6,586.8 440.6,587.6 494.9,620.5" fill="#b16529"/><polygon points="494.1,620.0 439.9,587.3 441.8,588.3 496.2,621.4" fill="#ae6228"/><polygon points="495.5,620.9 441.1,587.9 443.0,589.2 497.6,622.5" fill="#ab6026"/><polygon points="496.9,621.9 442.4,588.7 444.3,590.3 499.0,624.0" fill="#a75d25"/><polygon points="498.2,623.1 443.6,589.7 445.5,591.8 500.3,625.9" fill="#a45a23"/><polygon points="499.6,624.8 444.8,591.0 446.7,594.5 501.7,629.3" fill="#a05822"/><polygon points="501.0,627.1 446.1,592.8 448.0,596.0 503.1,631.2" fill="#9d5520"/><polygon points="502.3,631.3 447.3,596.0 449.2,595.9 504.4,631.1" fill="#9e5521"/><polygon points="503.7,631.2 448.5,595.9 450.4,595.7 505.8,630.9" fill="#a15722"/><polygon points="505.0,631.0 449.7,595.8 451.6,595.6 507.1,630.8" fill="#a35823"/><polygon points="506.4,630.9 451.0,595.7 452.8,595.5 508.5,630.6" fill="#a65a23"/><polygon points="507.7,630.7 452.2,595.6 454.1,595.4 509.8,630.5" fill="#a85c24"/><polygon points="509.1,630.5 453.4,595.5 455.3,595.3 511.2,630.3" fill="#ab5d25"/><polygon points="510.4,630.4 454.6,595.4 456.5,595.2 512.5,630.1" fill="#ad5f26"/><polygon points="511.8,630.2 455.8,595.3 457.7,595.1 513.9,630.0" fill="#b06127"/><polygon points="513.1,630.1 457.0,595.2 458.9,595.0 515.2,629.8" fill="#aa5c25"/><polygon points="514.5,629.9 458.3,595.1 460.1,594.9 516.5,629.7" fill="#ab5d25"/><polygon points="515.8,629.8 459.5,595.0 461.3,594.8 517.9,629.5" fill="#ac5d26"/><polygon points="517.1,629.6 460.7,594.9 462.5,594.7 519.2,629.4" fill="#ad5e26"/><polygon points="518.5,629.5 461.9,594.8 463.7,594.6 520.5,629.2" fill="#ae5f26"/><polygon points="519.8,629.3 463.1,594.6 464.9,594.5 521.9,629.1" fill="#af6027"/><polygon points="521.1,629.2 464.3,594.5 466.2,594.4 523.2,628.9" fill="#b06027"/><polygon points="522.5,629.0 465.5,594.4 467.3,594.3 524.5,628.8" fill="#b16127"/><polygon points="523.8,628.8 466.7,594.3 468.5,591.4 525.8,625.0" fill="#b26228"/><polygon points="525.1,628.7 467.9,594.2 469.7,589.2 527.1,622.2" fill="#ad5f27"/><polygon points="526.4,623.6 469.1,590.3 470.9,587.8 528.5,620.2" fill="#b3652a"/><polygon points="527.7,621.2 470.3,588.5 472.1,586.6 529.8,618.7" fill="#b96a2d"/><polygon points="529.1,619.5 471.5,587.2 473.3,585.6 531.1,617.4" fill="#bf7030"/><polygon points="530.4,618.1 472.7,586.1 474.5,584.8 532.4,616.4" fill="#c57633"/><polygon points="531.7,616.9 473.9,585.2 475.7,584.1 533.7,615.4" fill="#cb7b36"/><polygon points="533.0,615.9 475.0,584.5 476.9,583.5 535.0,614.7" fill="#cc7c36"/><polygon points="534.3,615.1 476.2,583.8 478.1,583.0 536.3,614.0" fill="#cb7b35"/><polygon points="535.6,614.3 477.4,583.3 479.2,582.6 537.6,613.4" fill="#cb7b35"/><polygon points="536.9,613.7 478.6,582.8 480.4,582.2 538.9,613.0" fill="#ca7a35"/><polygon points="538.2,613.2 479.8,582.4 481.6,581.9 540.2,612.6" fill="#ca7a35"/><polygon points="539.5,612.8 481.0,582.1 482.8,581.7 541.5,612.3" fill="#c97934"/><polygon points="540.8,612.4 482.1,581.8 483.9,581.6 542.8,612.1" fill="#c97934"/><polygon points="542.1,612.2 483.3,581.7 485.1,581.5 544.1,612.0" fill="#c87834"/><polygon points="543.4,612.0 484.5,581.5 486.3,581.5 545.4,611.9" fill="#c47431"/><polygon points="544.7,611.9 485.6,581.5 487.5,581.5 546.7,611.9" fill="#c27230"/><polygon points="546.0,611.9 486.8,581.5 488.6,581.6 547.9,612.1" fill="#c0712f"/><polygon points="547.2,612.0 488.0,581.5 489.8,581.8 549.2,612.3" fill="#be6f2e"/><polygon points="548.5,612.1 489.1,581.7 490.9,582.0 550.5,612.6" fill="#bb6d2d"/><polygon points="549.8,612.4 490.3,581.9 492.1,582.3 551.8,613.0" fill="#b86b2c"/><polygon points="551.1,612.7 491.5,582.2 493.3,582.7 553.1,613.5" fill="#b6692b"/><polygon points="552.4,613.2 492.6,582.5 494.4,583.2 554.3,614.1" fill="#b3662a"/><polygon points="553.6,613.7 493.8,583.0 495.2,583.6 555.1,614.6" fill="#b06428"/><polygon points="554.9,614.4 495.0,583.5 495.2,583.6 555.1,614.6" fill="#ae6228"/><polygon points="166.3,651.2 168.3,650.1 170.4,649.2 172.4,648.4 174.4,647.8 176.3,647.3 178.3,647.0 180.3,646.7 182.3,646.6 184.3,646.6 186.3,646.8 188.2,647.1 190.2,647.5 192.1,648.1 194.1,648.8 196.1,649.7 198.0,650.8 199.9,652.2 201.9,653.9 203.8,656.1 205.8,659.2 207.7,665.9 209.6,665.7 211.5,665.4 213.4,665.2 215.4,665.0 217.3,664.7 219.2,664.5 221.1,664.3 223.0,664.1 224.9,663.8 226.7,663.6 228.6,663.4 230.5,663.2 232.4,662.9 234.3,662.7 236.1,662.5 238.0,662.3 239.9,662.1 241.7,655.5 243.6,652.0 245.4,649.5 247.3,647.4 249.1,645.7 250.9,644.3 252.8,643.1 254.6,642.0 256.4,641.1 258.3,640.4 260.1,639.7 261.9,639.2 263.7,638.9 265.5,638.6 267.3,638.5 269.1,638.4 270.9,638.5 272.7,638.7 274.5,639.0 276.3,639.5 278.1,640.1 279.9,640.8 281.6,641.7 283.4,642.9 285.2,644.3 286.9,646.1 288.7,648.4 290.5,652.2 292.2,655.9 294.0,655.7 295.7,655.5 297.5,655.2 299.2,655.0 300.9,654.8 302.7,654.6 304.4,654.4 306.1,654.2 307.9,654.0 309.6,653.8 311.3,653.6 313.0,653.4 314.7,653.2 316.4,653.0 318.1,652.8 319.8,652.6 321.5,648.7 323.2,644.7 324.9,642.0 326.6,640.0 328.3,638.3 330.0,636.9 331.7,635.7 333.3,634.6 335.0,633.7 336.7,633.0 338.3,632.4 340.0,631.9 341.7,631.5 343.3,631.2 345.0,631.0 346.6,630.9 348.3,631.0 349.9,631.1 351.5,631.3 353.2,631.7 354.8,632.2 356.4,632.8 358.1,633.6 359.7,634.5 361.3,635.7 362.9,637.1 364.5,639.0 366.2,641.7 367.8,647.0 369.4,646.8 371.0,646.6 372.6,646.4 374.2,646.2 375.8,646.1 377.3,645.9 378.9,645.7 380.5,645.5 382.1,645.3 383.7,645.1 385.3,644.9 386.8,644.8 388.4,644.6 390.0,644.4 391.5,644.2 393.1,644.0 394.6,643.8 396.2,638.1 397.7,635.3 399.3,633.2 400.8,631.5 402.4,630.1 403.9,628.9 405.5,627.9 407.0,627.0 408.5,626.3 410.1,625.6 411.6,625.1 413.1,624.7 414.6,624.4 416.1,624.2 417.7,624.1 419.2,624.1 420.7,624.2 422.2,624.3 423.7,624.6 425.2,625.0 426.7,625.5 428.2,626.1 429.7,626.9 431.2,627.9 432.6,629.1 434.1,630.7 435.6,632.7 437.1,636.1 438.6,638.7 440.0,638.5 441.5,638.4 443.0,638.2 444.4,638.0 445.9,637.9 447.4,637.7 448.8,637.5 450.3,637.4 451.7,637.2 453.2,637.0 454.6,636.9 456.1,636.7 457.5,636.5 459.0,636.4 460.4,636.2 461.8,636.0 463.3,632.3 464.7,629.1 466.1,626.9 467.5,625.3 469.0,623.9 470.4,622.7 471.8,621.7 473.2,620.8 474.6,620.1 476.0,619.4 477.4,618.9 478.8,618.5 480.2,618.2 481.6,618.0 483.0,617.8 484.4,617.8 485.8,617.8 487.2,617.9 488.6,618.1 490.0,618.4 491.4,618.8 492.7,619.4 494.1,620.0 495.5,620.9 496.9,621.9 498.2,623.1 499.6,624.8 501.0,627.1 502.3,631.3 503.7,631.2 505.0,631.0 506.4,630.9 507.7,630.7 509.1,630.5 510.4,630.4 511.8,630.2 513.1,630.1 514.5,629.9 515.8,629.8 517.1,629.6 518.5,629.5 519.8,629.3 521.1,629.2 522.5,629.0 523.8,628.8 525.1,628.7 526.4,623.6 527.7,621.2 529.1,619.5 530.4,618.1 531.7,616.9 533.0,615.9 534.3,615.1 535.6,614.3 536.9,613.7 538.2,613.2 539.5,612.8 540.8,612.4 542.1,612.2 543.4,612.0 544.7,611.9 546.0,611.9 547.2,612.0 548.5,612.1 549.8,612.4 551.1,612.7 552.4,613.2 553.6,613.7 554.9,614.4 555.1,614.6 555.2,620.1 555.0,620.0 553.7,619.4 552.4,619.0 551.1,618.6 549.9,618.3 548.6,618.1 547.3,618.0 546.0,618.0 544.7,618.0 543.4,618.1 542.1,618.3 540.9,618.5 539.6,618.8 538.3,619.2 537.0,619.7 535.7,620.2 534.4,620.9 533.0,621.6 531.7,622.5 530.4,623.5 529.1,624.7 527.8,626.2 526.5,628.2 525.2,632.6 523.8,632.8 522.5,632.9 521.2,633.1 519.9,633.3 518.5,633.4 517.2,633.6 515.9,633.7 514.5,633.9 513.2,634.0 511.8,634.2 510.5,634.3 509.1,634.5 507.8,634.6 506.4,634.8 505.1,635.0 503.7,635.1 502.4,635.3 501.0,631.7 499.6,629.7 498.3,628.4 496.9,627.3 495.5,626.5 494.2,625.8 492.8,625.3 491.4,624.8 490.0,624.5 488.6,624.2 487.3,624.1 485.9,624.0 484.5,624.0 483.1,624.1 481.7,624.2 480.3,624.5 478.9,624.8 477.5,625.1 476.1,625.6 474.7,626.2 473.3,626.8 471.8,627.6 470.4,628.4 469.0,629.5 467.6,630.7 466.2,632.2 464.7,634.0 463.3,636.8 461.9,640.0 460.4,640.1 459.0,640.3 457.6,640.5 456.1,640.6 454.7,640.8 453.2,641.0 451.8,641.1 450.3,641.3 448.9,641.5 447.4,641.6 446.0,641.8 444.5,642.0 443.0,642.2 441.6,642.3 440.1,642.5 438.6,642.7 437.1,640.5 435.7,637.6 434.2,635.9 432.7,634.6 431.2,633.6 429.7,632.8 428.2,632.1 426.7,631.6 425.2,631.2 423.7,630.9 422.2,630.7 420.7,630.6 419.2,630.5 417.7,630.6 416.2,630.7 414.7,630.9 413.1,631.2 411.6,631.6 410.1,632.0 408.6,632.6 407.0,633.2 405.5,634.0 404.0,634.9 402.4,635.9 400.9,637.2 399.3,638.6 397.8,640.4 396.2,642.9 394.7,647.8 393.1,648.0 391.6,648.2 390.0,648.3 388.4,648.5 386.9,648.7 385.3,648.9 383.7,649.1 382.1,649.3 380.6,649.4 379.0,649.6 377.4,649.8 375.8,650.0 374.2,650.2 372.6,650.4 371.0,650.6 369.4,650.8 367.8,650.9 366.2,646.5 364.6,644.2 363.0,642.6 361.3,641.4 359.7,640.5 358.1,639.7 356.5,639.0 354.8,638.5 353.2,638.2 351.6,637.9 349.9,637.7 348.3,637.6 346.6,637.6 345.0,637.7 343.3,637.9 341.7,638.2 340.0,638.5 338.4,639.0 336.7,639.6 335.0,640.2 333.4,641.0 331.7,641.9 330.0,643.0 328.3,644.2 326.6,645.7 325.0,647.5 323.3,649.7 321.6,653.2 319.9,656.6 318.2,656.8 316.5,657.0 314.8,657.2 313.1,657.4 311.3,657.6 309.6,657.8 307.9,658.0 306.2,658.2 304.4,658.4 302.7,658.6 301.0,658.8 299.2,659.0 297.5,659.2 295.8,659.4 294.0,659.6 292.3,659.8 290.5,656.7 288.7,653.6 287.0,651.6 285.2,650.1 283.4,648.9 281.7,648.0 279.9,647.2 278.1,646.6 276.3,646.1 274.5,645.8 272.7,645.5 271.0,645.4 269.2,645.4 267.4,645.4 265.5,645.6 263.7,645.8 261.9,646.2 260.1,646.6 258.3,647.2 256.5,647.9 254.6,648.7 252.8,649.6 251.0,650.7 249.1,651.9 247.3,653.4 245.4,655.2 243.6,657.4 241.7,660.4 239.9,666.0 238.0,666.2 236.2,666.5 234.3,666.7 232.4,666.9 230.5,667.1 228.7,667.4 226.8,667.6 224.9,667.8 223.0,668.0 221.1,668.2 219.2,668.5 217.3,668.7 215.4,668.9 213.5,669.2 211.5,669.4 209.6,669.6 207.7,669.8 205.8,664.2 203.8,661.6 201.9,659.7 200.0,658.3 198.0,657.2 196.1,656.2 194.1,655.5 192.2,654.9 190.2,654.5 188.2,654.2 186.3,653.9 184.3,653.9 182.3,653.9 180.3,654.0 178.4,654.2 176.4,654.6 174.4,655.0 172.4,655.6 170.4,656.3 168.4,657.1 166.3,658.0" fill="#7e441b"/><polyline points="166.3,658.0 168.4,657.1 170.4,656.3 172.4,655.6 174.4,655.0 176.4,654.6 178.4,654.2 180.3,654.0 182.3,653.9 184.3,653.9 186.3,653.9 188.2,654.2 190.2,654.5 192.2,654.9 194.1,655.5 196.1,656.2 198.0,657.2 200.0,658.3 201.9,659.7 203.8,661.6 205.8,664.2 207.7,669.8 209.6,669.6 211.5,669.4 213.5,669.2 215.4,668.9 217.3,668.7 219.2,668.5 221.1,668.2 223.0,668.0 224.9,667.8 226.8,667.6 228.7,667.4 230.5,667.1 232.4,666.9 234.3,666.7 236.2,666.5 238.0,666.2 239.9,666.0 241.7,660.4 243.6,657.4 245.4,655.2 247.3,653.4 249.1,651.9 251.0,650.7 252.8,649.6 254.6,648.7 256.5,647.9 258.3,647.2 260.1,646.6 261.9,646.2 263.7,645.8 265.5,645.6 267.4,645.4 269.2,645.4 271.0,645.4 272.7,645.5 274.5,645.8 276.3,646.1 278.1,646.6 279.9,647.2 281.7,648.0 283.4,648.9 285.2,650.1 287.0,651.6 288.7,653.6 290.5,656.7 292.3,659.8 294.0,659.6 295.8,659.4 297.5,659.2 299.2,659.0 301.0,658.8 302.7,658.6 304.4,658.4 306.2,658.2 307.9,658.0 309.6,657.8 311.3,657.6 313.1,657.4 314.8,657.2 316.5,657.0 318.2,656.8 319.9,656.6 321.6,653.2 323.3,649.7 325.0,647.5 326.6,645.7 328.3,644.2 330.0,643.0 331.7,641.9 333.4,641.0 335.0,640.2 336.7,639.6 338.4,639.0 340.0,638.5 341.7,638.2 343.3,637.9 345.0,637.7 346.6,637.6 348.3,637.6 349.9,637.7 351.6,637.9 353.2,638.2 354.8,638.5 356.5,639.0 358.1,639.7 359.7,640.5 361.3,641.4 363.0,642.6 364.6,644.2 366.2,646.5 367.8,650.9 369.4,650.8 371.0,650.6 372.6,650.4 374.2,650.2 375.8,650.0 377.4,649.8 379.0,649.6 380.6,649.4 382.1,649.3 383.7,649.1 385.3,648.9 386.9,648.7 388.4,648.5 390.0,648.3 391.6,648.2 393.1,648.0 394.7,647.8 396.2,642.9 397.8,640.4 399.3,638.6 400.9,637.2 402.4,635.9 404.0,634.9 405.5,634.0 407.0,633.2 408.6,632.6 410.1,632.0 411.6,631.6 413.1,631.2 414.7,630.9 416.2,630.7 417.7,630.6 419.2,630.5 420.7,630.6 422.2,630.7 423.7,630.9 425.2,631.2 426.7,631.6 428.2,632.1 429.7,632.8 431.2,633.6 432.7,634.6 434.2,635.9 435.7,637.6 437.1,640.5 438.6,642.7 440.1,642.5 441.6,642.3 443.0,642.2 444.5,642.0 446.0,641.8 447.4,641.6 448.9,641.5 450.3,641.3 451.8,641.1 453.2,641.0 454.7,640.8 456.1,640.6 457.6,640.5 459.0,640.3 460.4,640.1 461.9,640.0 463.3,636.8 464.7,634.0 466.2,632.2 467.6,630.7 469.0,629.5 470.4,628.4 471.8,627.6 473.3,626.8 474.7,626.2 476.1,625.6 477.5,625.1 478.9,624.8 480.3,624.5 481.7,624.2 483.1,624.1 484.5,624.0 485.9,624.0 487.3,624.1 488.6,624.2 490.0,624.5 491.4,624.8 492.8,625.3 494.2,625.8 495.5,626.5 496.9,627.3 498.3,628.4 499.6,629.7 501.0,631.7 502.4,635.3 503.7,635.1 505.1,635.0 506.4,634.8 507.8,634.6 509.1,634.5 510.5,634.3 511.8,634.2 513.2,634.0 514.5,633.9 515.9,633.7 517.2,633.6 518.5,633.4 519.9,633.3 521.2,633.1 522.5,632.9 523.8,632.8 525.2,632.6 526.5,628.2 527.8,626.2 529.1,624.7 530.4,623.5 531.7,622.5 533.0,621.6 534.4,620.9 535.7,620.2 537.0,619.7 538.3,619.2 539.6,618.8 540.9,618.5 542.1,618.3 543.4,618.1 544.7,618.0 546.0,618.0 547.3,618.0 548.6,618.1 549.9,618.3 551.1,618.6 552.4,619.0 553.7,619.4 555.0,620.0 555.2,620.1" fill="none" stroke="#5a2e0c" stroke-width="1.7" stroke-opacity="0.95"/><polyline points="166.3,651.2 168.3,650.1 170.4,649.2 172.4,648.4 174.4,647.8 176.3,647.3 178.3,647.0 180.3,646.7 182.3,646.6 184.3,646.6 186.3,646.8 188.2,647.1 190.2,647.5 192.1,648.1 194.1,648.8 196.1,649.7 198.0,650.8 199.9,652.2 201.9,653.9 203.8,656.1 205.8,659.2 207.7,665.9 209.6,665.7 211.5,665.4 213.4,665.2 215.4,665.0 217.3,664.7 219.2,664.5 221.1,664.3 223.0,664.1 224.9,663.8 226.7,663.6 228.6,663.4 230.5,663.2 232.4,662.9 234.3,662.7 236.1,662.5 238.0,662.3 239.9,662.1 241.7,655.5 243.6,652.0 245.4,649.5 247.3,647.4 249.1,645.7 250.9,644.3 252.8,643.1 254.6,642.0 256.4,641.1 258.3,640.4 260.1,639.7 261.9,639.2 263.7,638.9 265.5,638.6 267.3,638.5 269.1,638.4 270.9,638.5 272.7,638.7 274.5,639.0 276.3,639.5 278.1,640.1 279.9,640.8 281.6,641.7 283.4,642.9 285.2,644.3 286.9,646.1 288.7,648.4 290.5,652.2 292.2,655.9 294.0,655.7 295.7,655.5 297.5,655.2 299.2,655.0 300.9,654.8 302.7,654.6 304.4,654.4 306.1,654.2 307.9,654.0 309.6,653.8 311.3,653.6 313.0,653.4 314.7,653.2 316.4,653.0 318.1,652.8 319.8,652.6 321.5,648.7 323.2,644.7 324.9,642.0 326.6,640.0 328.3,638.3 330.0,636.9 331.7,635.7 333.3,634.6 335.0,633.7 336.7,633.0 338.3,632.4 340.0,631.9 341.7,631.5 343.3,631.2 345.0,631.0 346.6,630.9 348.3,631.0 349.9,631.1 351.5,631.3 353.2,631.7 354.8,632.2 356.4,632.8 358.1,633.6 359.7,634.5 361.3,635.7 362.9,637.1 364.5,639.0 366.2,641.7 367.8,647.0 369.4,646.8 371.0,646.6 372.6,646.4 374.2,646.2 375.8,646.1 377.3,645.9 378.9,645.7 380.5,645.5 382.1,645.3 383.7,645.1 385.3,644.9 386.8,644.8 388.4,644.6 390.0,644.4 391.5,644.2 393.1,644.0 394.6,643.8 396.2,638.1 397.7,635.3 399.3,633.2 400.8,631.5 402.4,630.1 403.9,628.9 405.5,627.9 407.0,627.0 408.5,626.3 410.1,625.6 411.6,625.1 413.1,624.7 414.6,624.4 416.1,624.2 417.7,624.1 419.2,624.1 420.7,624.2 422.2,624.3 423.7,624.6 425.2,625.0 426.7,625.5 428.2,626.1 429.7,626.9 431.2,627.9 432.6,629.1 434.1,630.7 435.6,632.7 437.1,636.1 438.6,638.7 440.0,638.5 441.5,638.4 443.0,638.2 444.4,638.0 445.9,637.9 447.4,637.7 448.8,637.5 450.3,637.4 451.7,637.2 453.2,637.0 454.6,636.9 456.1,636.7 457.5,636.5 459.0,636.4 460.4,636.2 461.8,636.0 463.3,632.3 464.7,629.1 466.1,626.9 467.5,625.3 469.0,623.9 470.4,622.7 471.8,621.7 473.2,620.8 474.6,620.1 476.0,619.4 477.4,618.9 478.8,618.5 480.2,618.2 481.6,618.0 483.0,617.8 484.4,617.8 485.8,617.8 487.2,617.9 488.6,618.1 490.0,618.4 491.4,618.8 492.7,619.4 494.1,620.0 495.5,620.9 496.9,621.9 498.2,623.1 499.6,624.8 501.0,627.1 502.3,631.3 503.7,631.2 505.0,631.0 506.4,630.9 507.7,630.7 509.1,630.5 510.4,630.4 511.8,630.2 513.1,630.1 514.5,629.9 515.8,629.8 517.1,629.6 518.5,629.5 519.8,629.3 521.1,629.2 522.5,629.0 523.8,628.8 525.1,628.7 526.4,623.6 527.7,621.2 529.1,619.5 530.4,618.1 531.7,616.9 533.0,615.9 534.3,615.1 535.6,614.3 536.9,613.7 538.2,613.2 539.5,612.8 540.8,612.4 542.1,612.2 543.4,612.0 544.7,611.9 546.0,611.9 547.2,612.0 548.5,612.1 549.8,612.4 551.1,612.7 552.4,613.2 553.6,613.7 554.9,614.4 555.1,614.6" fill="none" stroke="#bf7e45" stroke-width="1.8"/><polygon points="186.6,721.8 166.3,658.0 169.5,656.6 190.4,719.7" fill="#cb7b35"/><polygon points="189.1,720.4 168.4,657.1 171.5,655.9 192.8,718.6" fill="#cb7b35"/><polygon points="191.5,719.2 170.4,656.3 173.5,655.3 195.2,717.7" fill="#ca7a35"/><polygon points="193.9,718.2 172.4,655.6 175.5,654.8 197.6,717.0" fill="#ca7a34"/><polygon points="196.3,717.3 174.4,655.0 177.4,654.4 200.0,716.4" fill="#c97934"/><polygon points="198.7,716.7 176.4,654.6 179.4,654.1 202.4,715.9" fill="#c97934"/><polygon points="201.1,716.2 178.4,654.2 181.4,653.9 204.8,715.6" fill="#c87834"/><polygon points="203.5,715.8 180.3,654.0 183.4,653.9 207.1,715.5" fill="#c37331"/><polygon points="205.9,715.6 182.3,653.9 185.4,653.9 209.5,715.5" fill="#c17230"/><polygon points="208.2,715.5 184.3,653.9 187.3,654.0 211.9,715.7" fill="#bf702f"/><polygon points="210.6,715.6 186.3,653.9 189.3,654.3 214.2,716.0" fill="#bd6e2e"/><polygon points="213.0,715.8 188.2,654.2 191.3,654.7 216.6,716.6" fill="#ba6c2d"/><polygon points="215.3,716.3 190.2,654.5 193.2,655.2 218.9,717.2" fill="#b86a2c"/><polygon points="217.7,716.8 192.2,654.9 195.2,655.9 221.3,718.1" fill="#b5682b"/><polygon points="220.0,717.6 194.1,655.5 197.1,656.7 223.6,719.3" fill="#b26529"/><polygon points="222.3,718.6 196.1,656.2 199.1,657.8 225.9,720.7" fill="#af6328"/><polygon points="224.7,719.9 198.0,657.2 201.0,659.0 228.3,722.5" fill="#ab6027"/><polygon points="227.0,721.4 200.0,658.3 203.0,660.7 230.6,724.7" fill="#a85e25"/><polygon points="229.3,723.4 201.9,659.7 204.9,662.8 232.9,727.7" fill="#a55b24"/><polygon points="231.6,725.9 203.8,661.6 206.8,666.3 235.2,732.6" fill="#a15822"/><polygon points="233.9,729.5 205.8,664.2 208.8,669.7 237.5,737.3" fill="#9e5521"/><polygon points="236.2,737.5 207.7,669.8 210.7,669.5 239.8,736.9" fill="#9e5521"/><polygon points="238.5,737.1 209.6,669.6 212.6,669.3 242.1,736.6" fill="#a05721"/><polygon points="240.8,736.8 211.5,669.4 214.5,669.0 244.4,736.2" fill="#a35822"/><polygon points="243.1,736.4 213.5,669.2 216.4,668.8 246.6,735.8" fill="#a55a23"/><polygon points="245.4,736.0 215.4,668.9 218.3,668.6 248.9,735.5" fill="#a85b24"/><polygon points="247.7,735.7 217.3,668.7 220.2,668.4 251.2,735.1" fill="#aa5d25"/><polygon points="249.9,735.3 219.2,668.5 222.1,668.1 253.4,734.7" fill="#ad5f26"/><polygon points="252.2,734.9 221.1,668.2 224.0,667.9 255.7,734.4" fill="#af6027"/><polygon points="254.4,734.6 223.0,668.0 225.9,667.7 257.9,734.0" fill="#b26228"/><polygon points="256.7,734.2 224.9,667.8 227.8,667.5 260.2,733.6" fill="#ab5d25"/><polygon points="258.9,733.8 226.8,667.6 229.7,667.2 262.4,733.3" fill="#ac5d26"/><polygon points="261.2,733.5 228.7,667.4 231.6,667.0 264.6,732.9" fill="#ad5e26"/><polygon points="263.4,733.1 230.5,667.1 233.4,666.8 266.9,732.5" fill="#ae5f26"/><polygon points="265.6,732.7 232.4,666.9 235.3,666.6 269.1,732.2" fill="#af5f27"/><polygon points="267.9,732.4 234.3,666.7 237.2,666.3 271.3,731.8" fill="#b06027"/><polygon points="270.1,732.0 236.2,666.5 239.0,666.1 273.5,731.5" fill="#b06127"/><polygon points="272.3,731.7 238.0,666.2 240.9,662.4 275.7,726.3" fill="#b16228"/><polygon points="274.5,731.3 239.9,666.0 242.7,658.6 277.9,720.9" fill="#ac5e26"/><polygon points="276.7,723.4 241.7,660.4 244.6,656.1 280.1,717.4" fill="#b26329"/><polygon points="278.9,719.2 243.6,657.4 246.4,654.2 282.3,714.7" fill="#b8692c"/><polygon points="281.1,716.1 245.4,655.2 248.3,652.6 284.5,712.4" fill="#be6f2f"/><polygon points="283.3,713.6 247.3,653.4 250.1,651.2 286.6,710.4" fill="#c47532"/><polygon points="285.4,711.5 249.1,651.9 252.0,650.1 288.8,708.8" fill="#ca7a35"/><polygon points="287.6,709.7 251.0,650.7 253.8,649.1 291.0,707.4" fill="#cc7c36"/><polygon points="289.8,708.1 252.8,649.6 255.6,648.2 293.1,706.1" fill="#cb7b36"/><polygon points="291.9,706.8 254.6,648.7 257.5,647.5 295.3,705.1" fill="#cb7b35"/><polygon points="294.1,705.6 256.5,647.9 259.3,646.9 297.4,704.2" fill="#ca7a35"/><polygon points="296.3,704.7 258.3,647.2 261.1,646.4 299.6,703.5" fill="#ca7a35"/><polygon points="298.4,703.8 260.1,646.6 262.9,646.0 301.7,702.9" fill="#c97934"/><polygon points="300.5,703.2 261.9,646.2 264.7,645.7 303.8,702.4" fill="#c97934"/><polygon points="302.7,702.6 263.7,645.8 266.5,645.5 306.0,702.1" fill="#c87834"/><polygon points="304.8,702.3 265.5,645.6 268.3,645.4 308.1,701.9" fill="#c47431"/><polygon points="306.9,702.0 267.4,645.4 270.1,645.4 310.2,701.9" fill="#c27330"/><polygon points="309.1,701.9 269.2,645.4 271.9,645.5 312.3,702.0" fill="#c0712f"/><polygon points="311.2,701.9 271.0,645.4 273.7,645.7 314.4,702.2" fill="#be6f2e"/><polygon points="313.3,702.1 272.7,645.5 275.5,646.0 316.5,702.6" fill="#bc6d2d"/><polygon points="315.4,702.4 274.5,645.8 277.3,646.4 318.6,703.1" fill="#b96b2c"/><polygon points="317.5,702.8 276.3,646.1 279.1,646.9 320.7,703.8" fill="#b6692b"/><polygon points="319.6,703.4 278.1,646.6 280.9,647.6 322.8,704.8" fill="#b3672a"/><polygon points="321.7,704.2 279.9,647.2 282.6,648.5 324.9,705.9" fill="#b06429"/><polygon points="323.8,705.2 281.7,648.0 284.4,649.5 327.0,707.3" fill="#ad6227"/><polygon points="325.8,706.5 283.4,648.9 286.2,650.8 329.1,709.1" fill="#aa5f26"/><polygon points="327.9,708.1 285.2,650.1 287.9,652.6 331.1,711.4" fill="#a65c24"/><polygon points="330.0,710.1 287.0,651.6 289.7,655.0 333.2,714.8" fill="#a35923"/><polygon points="332.1,712.8 288.7,653.6 291.5,659.9 335.2,721.5" fill="#9f5721"/><polygon points="334.1,717.2 290.5,656.7 293.2,659.7 337.3,721.2" fill="#9c5420"/><polygon points="336.2,721.4 292.3,659.8 295.0,659.5 339.3,720.9" fill="#9f5621"/><polygon points="338.2,721.0 294.0,659.6 296.7,659.3 341.4,720.5" fill="#a15722"/><polygon points="340.3,720.7 295.8,659.4 298.4,659.1 343.4,720.2" fill="#a45923"/><polygon points="342.3,720.4 297.5,659.2 300.2,658.9 345.5,719.9" fill="#a75b24"/><polygon points="344.4,720.0 299.2,659.0 301.9,658.7 347.5,719.5" fill="#a95c25"/><polygon points="346.4,719.7 301.0,658.8 303.7,658.5 349.5,719.2" fill="#ac5e26"/><polygon points="348.4,719.4 302.7,658.6 305.4,658.3 351.5,718.9" fill="#ae6027"/><polygon points="350.4,719.1 304.4,658.4 307.1,658.1 353.5,718.6" fill="#b16128"/><polygon points="352.4,718.7 306.2,658.2 308.8,657.9 355.6,718.2" fill="#aa5c25"/><polygon points="354.5,718.4 307.9,658.0 310.6,657.7 357.6,717.9" fill="#ab5d26"/><polygon points="356.5,718.1 309.6,657.8 312.3,657.5 359.6,717.6" fill="#ac5e26"/><polygon points="358.5,717.8 311.3,657.6 314.0,657.3 361.6,717.3" fill="#ad5e26"/><polygon points="360.5,717.5 313.1,657.4 315.7,657.1 363.5,717.0" fill="#ae5f27"/><polygon points="362.5,717.1 314.8,657.2 317.4,656.9 365.5,716.6" fill="#af6027"/><polygon points="364.5,716.8 316.5,657.0 319.1,656.7 367.5,716.3" fill="#b06127"/><polygon points="366.4,716.5 318.2,656.8 320.8,656.5 369.5,716.0" fill="#b16128"/><polygon points="368.4,716.2 319.9,656.6 322.5,651.1 371.5,708.6" fill="#b26228"/><polygon points="370.4,711.5 321.6,653.2 324.2,648.4 373.4,704.9" fill="#af6128"/><polygon points="372.4,706.7 323.3,649.7 325.9,646.5 375.4,702.2" fill="#b5672b"/><polygon points="374.3,703.6 325.0,647.5 327.6,644.9 377.4,700.0" fill="#bb6c2e"/><polygon points="376.3,701.1 326.6,645.7 329.2,643.5 379.3,698.1" fill="#c17231"/><polygon points="378.2,699.1 328.3,644.2 330.9,642.4 381.3,696.5" fill="#c77834"/><polygon points="380.2,697.3 330.0,643.0 332.6,641.4 383.2,695.1" fill="#cc7c36"/><polygon points="382.1,695.8 331.7,641.9 334.3,640.6 385.1,693.9" fill="#cb7b36"/><polygon points="384.1,694.6 333.4,641.0 335.9,639.9 387.1,692.9" fill="#cb7b35"/><polygon points="386.0,693.5 335.0,640.2 337.6,639.2 389.0,692.1" fill="#ca7a35"/><polygon points="388.0,692.5 336.7,639.6 339.3,638.7 390.9,691.3" fill="#ca7a35"/><polygon points="389.9,691.7 338.4,639.0 340.9,638.3 392.9,690.8" fill="#ca7a34"/><polygon points="391.8,691.1 340.0,638.5 342.6,638.0 394.8,690.3" fill="#c97934"/><polygon points="393.7,690.5 341.7,638.2 344.2,637.8 396.7,690.0" fill="#c97934"/><polygon points="395.6,690.1 343.3,637.9 345.9,637.7 398.6,689.7" fill="#c87834"/><polygon points="397.6,689.8 345.0,637.7 347.5,637.6 400.5,689.6" fill="#c37331"/><polygon points="399.5,689.7 346.6,637.6 349.2,637.7 402.4,689.7" fill="#c17230"/><polygon points="401.4,689.6 348.3,637.6 350.8,637.8 404.3,689.8" fill="#bf702f"/><polygon points="403.3,689.7 349.9,637.7 352.5,638.0 406.2,690.1" fill="#bd6e2e"/><polygon points="405.2,689.9 351.6,637.9 354.1,638.4 408.1,690.5" fill="#ba6c2d"/><polygon points="407.1,690.3 353.2,638.2 355.7,638.8 410.0,691.1" fill="#b76a2c"/><polygon points="408.9,690.8 354.8,638.5 357.4,639.4 411.8,691.8" fill="#b5682a"/><polygon points="410.8,691.4 356.5,639.0 359.0,640.1 413.7,692.8" fill="#b26529"/><polygon points="412.7,692.2 358.1,639.7 360.6,641.0 415.6,693.9" fill="#ae6328"/><polygon points="414.6,693.3 359.7,640.5 362.2,642.0 417.5,695.4" fill="#ab6026"/><polygon points="416.4,694.5 361.3,641.4 363.8,643.4 419.3,697.2" fill="#a85d25"/><polygon points="418.3,696.2 363.0,642.6 365.5,645.3 421.2,699.7" fill="#a45b24"/><polygon points="420.2,698.3 364.6,644.2 367.1,648.5 423.0,704.0" fill="#a15822"/><polygon points="422.0,701.3 366.2,646.5 368.7,650.8 424.9,707.2" fill="#9d5520"/><polygon points="423.9,707.3 367.8,650.9 370.3,650.7 426.7,706.9" fill="#9e5521"/><polygon points="425.7,707.0 369.4,650.8 371.9,650.5 428.6,706.6" fill="#a05722"/><polygon points="427.6,706.7 371.0,650.6 373.5,650.3 430.4,706.3" fill="#a35822"/><polygon points="429.4,706.4 372.6,650.4 375.1,650.1 432.2,706.0" fill="#a55a23"/><polygon points="431.2,706.1 374.2,650.2 376.7,649.9 434.1,705.7" fill="#a85c24"/><polygon points="433.1,705.8 375.8,650.0 378.3,649.7 435.9,705.4" fill="#aa5d25"/><polygon points="434.9,705.6 377.4,649.8 379.8,649.5 437.7,705.1" fill="#ad5f26"/><polygon points="436.7,705.3 379.0,649.6 381.4,649.3 439.5,704.8" fill="#b06027"/><polygon points="438.5,705.0 380.6,649.4 383.0,649.2 441.3,704.5" fill="#aa5c25"/><polygon points="440.3,704.7 382.1,649.3 384.6,649.0 443.1,704.2" fill="#ab5d25"/><polygon points="442.1,704.4 383.7,649.1 386.1,648.8 444.9,704.0" fill="#ac5d26"/><polygon points="444.0,704.1 385.3,648.9 387.7,648.6 446.7,703.7" fill="#ad5e26"/><polygon points="445.8,703.8 386.9,648.7 389.3,648.4 448.5,703.4" fill="#ae5f26"/><polygon points="447.6,703.5 388.4,648.5 390.9,648.2 450.3,703.1" fill="#af6027"/><polygon points="449.3,703.2 390.0,648.3 392.4,648.1 452.1,702.8" fill="#b06027"/><polygon points="451.1,703.0 391.6,648.2 394.0,647.9 453.9,702.5" fill="#b16127"/><polygon points="452.9,702.7 393.1,648.0 395.5,644.4 455.7,697.8" fill="#b16228"/><polygon points="454.7,702.4 394.7,647.8 397.1,641.4 457.5,693.7" fill="#ac5e26"/><polygon points="456.5,695.7 396.2,642.9 398.6,639.4 459.2,691.0" fill="#b26429"/><polygon points="458.3,692.4 397.8,640.4 400.2,637.8 461.0,688.8" fill="#b96a2c"/><polygon points="460.0,689.9 399.3,638.6 401.7,636.5 462.8,687.0" fill="#bf6f2f"/><polygon points="461.8,687.9 400.9,637.2 403.3,635.3 464.5,685.4" fill="#c57532"/><polygon points="463.6,686.2 402.4,635.9 404.8,634.4 466.3,684.1" fill="#cb7b35"/><polygon points="465.3,684.8 404.0,634.9 406.3,633.6 468.0,683.0" fill="#cc7c36"/><polygon points="467.1,683.6 405.5,634.0 407.9,632.9 469.8,682.0" fill="#cb7b35"/><polygon points="468.8,682.5 407.0,633.2 409.4,632.3 471.5,681.1" fill="#cb7b35"/><polygon points="470.6,681.6 408.6,632.6 410.9,631.8 473.3,680.4" fill="#ca7a35"/><polygon points="472.3,680.8 410.1,632.0 412.5,631.3 475.0,679.9" fill="#ca7a35"/><polygon points="474.1,680.2 411.6,631.6 414.0,631.0 476.7,679.4" fill="#c97934"/><polygon points="475.8,679.6 413.1,631.2 415.5,630.8 478.5,679.0" fill="#c97934"/><polygon points="477.5,679.2 414.7,630.9 417.0,630.6 480.2,678.8" fill="#c87834"/><polygon points="479.2,678.9 416.2,630.7 418.5,630.5 481.9,678.6" fill="#c47431"/><polygon points="481.0,678.7 417.7,630.6 420.0,630.5 483.6,678.6" fill="#c27330"/><polygon points="482.7,678.6 419.2,630.5 421.5,630.6 485.3,678.7" fill="#c0712f"/><polygon points="484.4,678.6 420.7,630.6 423.0,630.8 487.1,678.9" fill="#be6f2e"/><polygon points="486.1,678.8 422.2,630.7 424.5,631.1 488.8,679.2" fill="#bb6d2d"/><polygon points="487.8,679.0 423.7,630.9 426.0,631.4 490.5,679.7" fill="#b96b2c"/><polygon points="489.5,679.4 425.2,631.2 427.5,631.9 492.2,680.3" fill="#b6692b"/><polygon points="491.2,679.9 426.7,631.6 429.0,632.5 493.9,681.0" fill="#b3662a"/><polygon points="492.9,680.6 428.2,632.1 430.5,633.2 495.5,682.0" fill="#b06428"/><polygon points="494.6,681.4 429.7,632.8 432.0,634.1 497.2,683.2" fill="#ad6127"/><polygon points="496.3,682.5 431.2,633.6 433.5,635.3 498.9,684.7" fill="#a95f26"/><polygon points="498.0,683.8 432.7,634.6 435.0,636.7 500.6,686.6" fill="#a65c24"/><polygon points="499.7,685.5 434.2,635.9 436.5,638.9 502.3,689.5" fill="#a25923"/><polygon points="501.4,687.7 435.7,637.6 437.9,642.8 504.0,694.6" fill="#9f5621"/><polygon points="503.0,691.6 437.1,640.5 439.4,642.6 505.6,694.3" fill="#9d5420"/><polygon points="504.7,694.4 438.6,642.7 440.9,642.4 507.3,694.0" fill="#9f5621"/><polygon points="506.4,694.2 440.1,642.5 442.4,642.2 509.0,693.8" fill="#a25822"/><polygon points="508.0,693.9 441.6,642.3 443.8,642.1 510.6,693.5" fill="#a45923"/><polygon points="509.7,693.7 443.0,642.2 445.3,641.9 512.3,693.3" fill="#a75b24"/><polygon points="511.4,693.4 444.5,642.0 446.8,641.7 513.9,693.0" fill="#a95c25"/><polygon points="513.0,693.1 446.0,641.8 448.2,641.6 515.6,692.7" fill="#ac5e26"/><polygon points="514.7,692.9 447.4,641.6 449.7,641.4 517.2,692.5" fill="#ae6027"/><polygon points="516.3,692.6 448.9,641.5 451.1,641.2 518.9,692.2" fill="#b16128"/><polygon points="518.0,692.4 450.3,641.3 452.6,641.0 520.5,691.9" fill="#ab5c25"/><polygon points="519.6,692.1 451.8,641.1 454.0,640.9 522.1,691.7" fill="#ab5d26"/><polygon points="521.2,691.8 453.2,641.0 455.5,640.7 523.8,691.4" fill="#ac5e26"/><polygon points="522.9,691.6 454.7,640.8 456.9,640.5 525.4,691.2" fill="#ad5e26"/><polygon points="524.5,691.3 456.1,640.6 458.3,640.4 527.0,690.9" fill="#ae5f27"/><polygon points="526.1,691.1 457.6,640.5 459.8,640.2 528.6,690.7" fill="#af6027"/><polygon points="527.8,690.8 459.0,640.3 461.2,640.0 530.3,690.4" fill="#b06127"/><polygon points="529.4,690.5 460.4,640.1 462.7,639.9 531.9,690.1" fill="#b16128"/><polygon points="531.0,690.3 461.9,640.0 464.1,635.1 533.5,683.8" fill="#b26228"/><polygon points="532.6,686.0 463.3,636.8 465.5,632.9 535.1,680.9" fill="#b06128"/><polygon points="534.2,682.3 464.7,634.0 466.9,631.3 536.7,678.7" fill="#b6672b"/><polygon points="535.8,679.8 466.2,632.2 468.4,630.0 538.3,676.9" fill="#bc6d2e"/><polygon points="537.4,677.8 467.6,630.7 469.8,628.9 539.9,675.4" fill="#c27231"/><polygon points="539.0,676.2 469.0,629.5 471.2,627.9 541.5,674.1" fill="#c87834"/><polygon points="540.6,674.8 470.4,628.4 472.6,627.1 543.1,673.0" fill="#cc7c36"/><polygon points="542.2,673.6 471.8,627.6 474.0,626.4 544.7,672.1" fill="#cb7b36"/><polygon points="543.8,672.6 473.3,626.8 475.4,625.8 546.2,671.2" fill="#cb7b35"/><polygon points="545.4,671.7 474.7,626.2 476.8,625.3 547.8,670.6" fill="#ca7a35"/><polygon points="547.0,670.9 476.1,625.6 478.2,624.9 549.4,670.0" fill="#ca7a35"/><polygon points="548.5,670.3 477.5,625.1 479.6,624.6 551.0,669.5" fill="#c97934"/><polygon points="550.1,669.7 478.9,624.8 481.0,624.3 552.5,669.1" fill="#c97934"/><polygon points="551.7,669.3 480.3,624.5 482.4,624.1 554.1,668.9" fill="#c97934"/><polygon points="553.3,669.0 481.7,624.2 483.8,624.0 555.7,668.7" fill="#c87834"/><polygon points="554.8,668.8 483.1,624.1 485.2,624.0 557.2,668.6" fill="#c37331"/><polygon points="556.4,668.6 484.5,624.0 486.6,624.0 558.8,668.7" fill="#c17230"/><polygon points="557.9,668.6 485.9,624.0 488.0,624.2 560.4,668.8" fill="#bf702f"/><polygon points="559.5,668.7 487.3,624.1 489.4,624.4 561.9,669.0" fill="#bd6e2e"/><polygon points="561.1,668.9 488.6,624.2 490.8,624.7 563.5,669.4" fill="#ba6c2d"/><polygon points="562.6,669.2 490.0,624.5 492.2,625.0 565.0,669.9" fill="#b76a2c"/><polygon points="564.2,669.6 491.4,624.8 493.5,625.5 566.5,670.5" fill="#b4672a"/><polygon points="565.7,670.1 492.8,625.3 494.9,626.1 568.1,671.3" fill="#b16529"/><polygon points="567.2,670.8 494.2,625.8 496.3,626.9 569.6,672.2" fill="#ae6228"/><polygon points="568.8,671.7 495.5,626.5 497.7,627.9 571.1,673.4" fill="#ab6026"/><polygon points="570.3,672.7 496.9,627.3 499.0,629.1 572.7,675.0" fill="#a75d25"/><polygon points="571.8,674.1 498.3,628.4 500.4,630.7 574.2,677.1" fill="#a45a23"/><polygon points="573.4,675.9 499.6,629.7 501.7,633.6 575.7,680.9" fill="#a05822"/><polygon points="574.9,678.5 501.0,631.7 503.1,635.2 577.2,683.0" fill="#9d5520"/><polygon points="576.4,683.1 502.4,635.3 504.5,635.0 578.8,682.7" fill="#9e5521"/><polygon points="577.9,682.9 503.7,635.1 505.8,634.9 580.3,682.5" fill="#a15722"/><polygon points="579.4,682.6 505.1,635.0 507.2,634.7 581.8,682.3" fill="#a35823"/><polygon points="581.0,682.4 506.4,634.8 508.5,634.6 583.3,682.0" fill="#a65a23"/><polygon points="582.5,682.2 507.8,634.6 509.9,634.4 584.8,681.8" fill="#a85c24"/><polygon points="584.0,681.9 509.1,634.5 511.2,634.3 586.3,681.6" fill="#ab5d25"/><polygon points="585.5,681.7 510.5,634.3 512.6,634.1 587.8,681.3" fill="#ad5f26"/><polygon points="587.0,681.5 511.8,634.2 513.9,633.9 589.3,681.1" fill="#b06127"/><polygon points="588.5,681.2 513.2,634.0 515.2,633.8 590.8,680.9" fill="#aa5c25"/><polygon points="590.0,681.0 514.5,633.9 516.6,633.6 592.3,680.6" fill="#ab5d25"/><polygon points="591.5,680.7 515.9,633.7 517.9,633.5 593.8,680.4" fill="#ac5d26"/><polygon points="592.9,680.5 517.2,633.6 519.3,633.3 595.2,680.2" fill="#ad5e26"/><polygon points="594.4,680.3 518.5,633.4 520.6,633.2 596.7,679.9" fill="#ae5f26"/><polygon points="595.9,680.0 519.9,633.3 521.9,633.0 598.2,679.7" fill="#af6027"/><polygon points="597.4,679.8 521.2,633.1 523.2,632.9 599.7,679.5" fill="#b06027"/><polygon points="598.9,679.6 522.5,632.9 524.6,632.7 601.1,679.2" fill="#b16127"/><polygon points="600.3,679.4 523.8,632.8 525.9,629.5 602.6,675.0" fill="#b26228"/><polygon points="601.8,679.1 525.2,632.6 527.2,627.1 604.1,671.8" fill="#ad5f27"/><polygon points="603.3,673.3 526.5,628.2 528.5,625.4 605.5,669.5" fill="#b3652a"/><polygon points="604.7,670.7 527.8,626.2 529.8,624.1 607.0,667.8" fill="#b96a2d"/><polygon points="606.2,668.7 529.1,624.7 531.1,622.9 608.4,666.3" fill="#bf7030"/><polygon points="607.7,667.1 530.4,623.5 532.5,622.0 609.9,665.0" fill="#c57633"/><polygon points="609.1,665.7 531.7,622.5 533.8,621.2 611.3,664.0" fill="#cb7b36"/><polygon points="610.6,664.5 533.0,621.6 535.1,620.5 612.8,663.0" fill="#cc7c36"/><polygon points="612.0,663.5 534.4,620.9 536.4,619.9 614.2,662.2" fill="#cb7b35"/><polygon points="613.5,662.7 535.7,620.2 537.7,619.4 615.7,661.6" fill="#cb7b35"/><polygon points="614.9,661.9 537.0,619.7 539.0,619.0 617.1,661.0" fill="#ca7a35"/><polygon points="616.3,661.3 538.3,619.2 540.3,618.7 618.6,660.5" fill="#ca7a35"/><polygon points="617.8,660.8 539.6,618.8 541.6,618.4 620.0,660.1" fill="#c97934"/><polygon points="619.2,660.3 540.9,618.5 542.9,618.2 621.4,659.8" fill="#c97934"/><polygon points="620.6,660.0 542.1,618.3 544.1,618.1 622.8,659.6" fill="#c87834"/><polygon points="622.1,659.7 543.4,618.1 545.4,618.0 624.3,659.5" fill="#c47431"/><polygon points="623.5,659.6 544.7,618.0 546.7,618.0 625.7,659.5" fill="#c27230"/><polygon points="624.9,659.5 546.0,618.0 548.0,618.1 627.1,659.6" fill="#c0712f"/><polygon points="626.3,659.5 547.3,618.0 549.3,618.2 628.5,659.8" fill="#be6f2e"/><polygon points="627.8,659.7 548.6,618.1 550.6,618.5 629.9,660.1" fill="#bb6d2d"/><polygon points="629.2,659.9 549.9,618.3 551.8,618.8 631.3,660.4" fill="#b86b2c"/><polygon points="630.6,660.2 551.1,618.6 553.1,619.2 632.8,660.9" fill="#b6692b"/><polygon points="632.0,660.7 552.4,619.0 554.4,619.7 634.2,661.6" fill="#b3662a"/><polygon points="633.4,661.2 553.7,619.4 555.2,620.1 635.1,662.1" fill="#b06428"/><polygon points="634.8,661.9 555.0,620.0 555.2,620.1 635.1,662.1" fill="#ae6228"/><polygon points="186.6,721.8 189.1,720.4 191.5,719.2 193.9,718.2 196.3,717.3 198.7,716.7 201.1,716.2 203.5,715.8 205.9,715.6 208.2,715.5 210.6,715.6 213.0,715.8 215.3,716.3 217.7,716.8 220.0,717.6 222.3,718.6 224.7,719.9 227.0,721.4 229.3,723.4 231.6,725.9 233.9,729.5 236.2,737.5 238.5,737.1 240.8,736.8 243.1,736.4 245.4,736.0 247.7,735.7 249.9,735.3 252.2,734.9 254.4,734.6 256.7,734.2 258.9,733.8 261.2,733.5 263.4,733.1 265.6,732.7 267.9,732.4 270.1,732.0 272.3,731.7 274.5,731.3 276.7,723.4 278.9,719.2 281.1,716.1 283.3,713.6 285.4,711.5 287.6,709.7 289.8,708.1 291.9,706.8 294.1,705.6 296.3,704.7 298.4,703.8 300.5,703.2 302.7,702.6 304.8,702.3 306.9,702.0 309.1,701.9 311.2,701.9 313.3,702.1 315.4,702.4 317.5,702.8 319.6,703.4 321.7,704.2 323.8,705.2 325.8,706.5 327.9,708.1 330.0,710.1 332.1,712.8 334.1,717.2 336.2,721.4 338.2,721.0 340.3,720.7 342.3,720.4 344.4,720.0 346.4,719.7 348.4,719.4 350.4,719.1 352.4,718.7 354.5,718.4 356.5,718.1 358.5,717.8 360.5,717.5 362.5,717.1 364.5,716.8 366.4,716.5 368.4,716.2 370.4,711.5 372.4,706.7 374.3,703.6 376.3,701.1 378.2,699.1 380.2,697.3 382.1,695.8 384.1,694.6 386.0,693.5 388.0,692.5 389.9,691.7 391.8,691.1 393.7,690.5 395.6,690.1 397.6,689.8 399.5,689.7 401.4,689.6 403.3,689.7 405.2,689.9 407.1,690.3 408.9,690.8 410.8,691.4 412.7,692.2 414.6,693.3 416.4,694.5 418.3,696.2 420.2,698.3 422.0,701.3 423.9,707.3 425.7,707.0 427.6,706.7 429.4,706.4 431.2,706.1 433.1,705.8 434.9,705.6 436.7,705.3 438.5,705.0 440.3,704.7 442.1,704.4 444.0,704.1 445.8,703.8 447.6,703.5 449.3,703.2 451.1,703.0 452.9,702.7 454.7,702.4 456.5,695.7 458.3,692.4 460.0,689.9 461.8,687.9 463.6,686.2 465.3,684.8 467.1,683.6 468.8,682.5 470.6,681.6 472.3,680.8 474.1,680.2 475.8,679.6 477.5,679.2 479.2,678.9 481.0,678.7 482.7,678.6 484.4,678.6 486.1,678.8 487.8,679.0 489.5,679.4 491.2,679.9 492.9,680.6 494.6,681.4 496.3,682.5 498.0,683.8 499.7,685.5 501.4,687.7 503.0,691.6 504.7,694.4 506.4,694.2 508.0,693.9 509.7,693.7 511.4,693.4 513.0,693.1 514.7,692.9 516.3,692.6 518.0,692.4 519.6,692.1 521.2,691.8 522.9,691.6 524.5,691.3 526.1,691.1 527.8,690.8 529.4,690.5 531.0,690.3 532.6,686.0 534.2,682.3 535.8,679.8 537.4,677.8 539.0,676.2 540.6,674.8 542.2,673.6 543.8,672.6 545.4,671.7 547.0,670.9 548.5,670.3 550.1,669.7 551.7,669.3 553.3,669.0 554.8,668.8 556.4,668.6 557.9,668.6 559.5,668.7 561.1,668.9 562.6,669.2 564.2,669.6 565.7,670.1 567.2,670.8 568.8,671.7 570.3,672.7 571.8,674.1 573.4,675.9 574.9,678.5 576.4,683.1 577.9,682.9 579.4,682.6 581.0,682.4 582.5,682.2 584.0,681.9 585.5,681.7 587.0,681.5 588.5,681.2 590.0,681.0 591.5,680.7 592.9,680.5 594.4,680.3 595.9,680.0 597.4,679.8 598.9,679.6 600.3,679.4 601.8,679.1 603.3,673.3 604.7,670.7 606.2,668.7 607.7,667.1 609.1,665.7 610.6,664.5 612.0,663.5 613.5,662.7 614.9,661.9 616.3,661.3 617.8,660.8 619.2,660.3 620.6,660.0 622.1,659.7 623.5,659.6 624.9,659.5 626.3,659.5 627.8,659.7 629.2,659.9 630.6,660.2 632.0,660.7 633.4,661.2 634.8,661.9 635.1,662.1 635.1,668.4 634.9,668.3 633.5,667.7 632.1,667.3 630.7,666.9 629.2,666.7 627.8,666.5 626.4,666.5 625.0,666.5 623.6,666.6 622.1,666.7 620.7,667.0 619.3,667.3 617.8,667.7 616.4,668.2 615.0,668.7 613.5,669.4 612.1,670.2 610.6,671.1 609.2,672.1 607.7,673.3 606.3,674.7 604.8,676.5 603.3,678.7 601.9,683.7 600.4,683.9 598.9,684.2 597.5,684.4 596.0,684.6 594.5,684.9 593.0,685.1 591.5,685.3 590.0,685.6 588.5,685.8 587.0,686.1 585.5,686.3 584.0,686.5 582.5,686.8 581.0,687.0 579.5,687.2 578.0,687.5 576.5,687.7 575.0,683.8 573.4,681.6 571.9,680.1 570.4,679.0 568.8,678.1 567.3,677.4 565.8,676.9 564.2,676.5 562.7,676.1 561.1,675.9 559.6,675.8 558.0,675.8 556.5,675.8 554.9,676.0 553.3,676.2 551.8,676.5 550.2,676.9 548.6,677.4 547.0,678.0 545.4,678.7 543.9,679.5 542.3,680.4 540.7,681.5 539.1,682.7 537.5,684.1 535.9,685.9 534.3,688.0 532.7,691.2 531.1,694.9 529.4,695.1 527.8,695.4 526.2,695.7 524.6,695.9 522.9,696.2 521.3,696.4 519.7,696.7 518.0,696.9 516.4,697.2 514.7,697.5 513.1,697.7 511.4,698.0 509.8,698.3 508.1,698.5 506.4,698.8 504.8,699.0 503.1,696.6 501.4,693.4 499.7,691.5 498.1,690.1 496.4,689.0 494.7,688.2 493.0,687.5 491.3,687.0 489.6,686.6 487.9,686.3 486.2,686.1 484.5,686.1 482.7,686.1 481.0,686.2 479.3,686.4 477.6,686.7 475.8,687.1 474.1,687.6 472.4,688.2 470.6,688.9 468.9,689.7 467.1,690.7 465.4,691.8 463.6,693.0 461.9,694.5 460.1,696.2 458.3,698.4 456.5,701.2 454.8,707.0 453.0,707.3 451.2,707.6 449.4,707.9 447.6,708.1 445.8,708.4 444.0,708.7 442.2,709.0 440.4,709.3 438.6,709.6 436.8,709.9 434.9,710.2 433.1,710.4 431.3,710.7 429.4,711.0 427.6,711.3 425.8,711.6 423.9,711.9 422.1,706.8 420.2,704.3 418.4,702.5 416.5,701.2 414.6,700.2 412.7,699.3 410.9,698.7 409.0,698.2 407.1,697.8 405.2,697.5 403.3,697.4 401.4,697.4 399.5,697.5 397.6,697.7 395.7,697.9 393.8,698.3 391.9,698.8 389.9,699.4 388.0,700.2 386.1,701.0 384.1,702.0 382.2,703.1 380.2,704.4 378.3,706.0 376.3,707.8 374.4,709.9 372.4,712.7 370.4,716.8 368.5,720.8 366.5,721.1 364.5,721.4 362.5,721.7 360.5,722.1 358.5,722.4 356.5,722.7 354.5,723.0 352.5,723.4 350.5,723.7 348.5,724.0 346.4,724.3 344.4,724.7 342.4,725.0 340.3,725.3 338.3,725.6 336.2,726.0 334.2,722.4 332.1,718.8 330.0,716.5 328.0,714.8 325.9,713.6 323.8,712.5 321.7,711.7 319.6,711.1 317.5,710.6 315.4,710.3 313.3,710.1 311.2,710.0 309.1,710.0 307.0,710.2 304.9,710.4 302.7,710.8 300.6,711.3 298.4,711.9 296.3,712.7 294.1,713.6 292.0,714.6 289.8,715.8 287.7,717.2 285.5,718.7 283.3,720.6 281.1,722.8 278.9,725.5 276.7,729.2 274.5,735.9 272.3,736.3 270.1,736.6 267.9,737.0 265.7,737.4 263.4,737.7 261.2,738.1 259.0,738.4 256.7,738.8 254.5,739.2 252.2,739.5 250.0,739.9 247.7,740.3 245.4,740.6 243.1,741.0 240.9,741.4 238.6,741.8 236.3,742.1 234.0,735.4 231.7,732.4 229.3,730.3 227.0,728.7 224.7,727.4 222.4,726.4 220.0,725.6 217.7,725.0 215.3,724.5 213.0,724.2 210.6,724.1 208.2,724.0 205.9,724.2 203.5,724.4 201.1,724.8 198.7,725.3 196.3,725.9 193.9,726.7 191.5,727.6 189.1,728.7 186.7,729.9" fill="#7e441b"/><polyline points="186.7,729.9 189.1,728.7 191.5,727.6 193.9,726.7 196.3,725.9 198.7,725.3 201.1,724.8 203.5,724.4 205.9,724.2 208.2,724.0 210.6,724.1 213.0,724.2 215.3,724.5 217.7,725.0 220.0,725.6 222.4,726.4 224.7,727.4 227.0,728.7 229.3,730.3 231.7,732.4 234.0,735.4 236.3,742.1 238.6,741.8 240.9,741.4 243.1,741.0 245.4,740.6 247.7,740.3 250.0,739.9 252.2,739.5 254.5,739.2 256.7,738.8 259.0,738.4 261.2,738.1 263.4,737.7 265.7,737.4 267.9,737.0 270.1,736.6 272.3,736.3 274.5,735.9 276.7,729.2 278.9,725.5 281.1,722.8 283.3,720.6 285.5,718.7 287.7,717.2 289.8,715.8 292.0,714.6 294.1,713.6 296.3,712.7 298.4,711.9 300.6,711.3 302.7,710.8 304.9,710.4 307.0,710.2 309.1,710.0 311.2,710.0 313.3,710.1 315.4,710.3 317.5,710.6 319.6,711.1 321.7,711.7 323.8,712.5 325.9,713.6 328.0,714.8 330.0,716.5 332.1,718.8 334.2,722.4 336.2,726.0 338.3,725.6 340.3,725.3 342.4,725.0 344.4,724.7 346.4,724.3 348.5,724.0 350.5,723.7 352.5,723.4 354.5,723.0 356.5,722.7 358.5,722.4 360.5,722.1 362.5,721.7 364.5,721.4 366.5,721.1 368.5,720.8 370.4,716.8 372.4,712.7 374.4,709.9 376.3,707.8 378.3,706.0 380.2,704.4 382.2,703.1 384.1,702.0 386.1,701.0 388.0,700.2 389.9,699.4 391.9,698.8 393.8,698.3 395.7,697.9 397.6,697.7 399.5,697.5 401.4,697.4 403.3,697.4 405.2,697.5 407.1,697.8 409.0,698.2 410.9,698.7 412.7,699.3 414.6,700.2 416.5,701.2 418.4,702.5 420.2,704.3 422.1,706.8 423.9,711.9 425.8,711.6 427.6,711.3 429.4,711.0 431.3,710.7 433.1,710.4 434.9,710.2 436.8,709.9 438.6,709.6 440.4,709.3 442.2,709.0 444.0,708.7 445.8,708.4 447.6,708.1 449.4,707.9 451.2,707.6 453.0,707.3 454.8,707.0 456.5,701.2 458.3,698.4 460.1,696.2 461.9,694.5 463.6,693.0 465.4,691.8 467.1,690.7 468.9,689.7 470.6,688.9 472.4,688.2 474.1,687.6 475.8,687.1 477.6,686.7 479.3,686.4 481.0,686.2 482.7,686.1 484.5,686.1 486.2,686.1 487.9,686.3 489.6,686.6 491.3,687.0 493.0,687.5 494.7,688.2 496.4,689.0 498.1,690.1 499.7,691.5 501.4,693.4 503.1,696.6 504.8,699.0 506.4,698.8 508.1,698.5 509.8,698.3 511.4,698.0 513.1,697.7 514.7,697.5 516.4,697.2 518.0,696.9 519.7,696.7 521.3,696.4 522.9,696.2 524.6,695.9 526.2,695.7 527.8,695.4 529.4,695.1 531.1,694.9 532.7,691.2 534.3,688.0 535.9,685.9 537.5,684.1 539.1,682.7 540.7,681.5 542.3,680.4 543.9,679.5 545.4,678.7 547.0,678.0 548.6,677.4 550.2,676.9 551.8,676.5 553.3,676.2 554.9,676.0 556.5,675.8 558.0,675.8 559.6,675.8 561.1,675.9 562.7,676.1 564.2,676.5 565.8,676.9 567.3,677.4 568.8,678.1 570.4,679.0 571.9,680.1 573.4,681.6 575.0,683.8 576.5,687.7 578.0,687.5 579.5,687.2 581.0,687.0 582.5,686.8 584.0,686.5 585.5,686.3 587.0,686.1 588.5,685.8 590.0,685.6 591.5,685.3 593.0,685.1 594.5,684.9 596.0,684.6 597.5,684.4 598.9,684.2 600.4,683.9 601.9,683.7 603.3,678.7 604.8,676.5 606.3,674.7 607.7,673.3 609.2,672.1 610.6,671.1 612.1,670.2 613.5,669.4 615.0,668.7 616.4,668.2 617.8,667.7 619.3,667.3 620.7,667.0 622.1,666.7 623.6,666.6 625.0,666.5 626.4,666.5 627.8,666.5 629.2,666.7 630.7,666.9 632.1,667.3 633.5,667.7 634.9,668.3 635.1,668.4" fill="none" stroke="#5a2e0c" stroke-width="1.7" stroke-opacity="0.95"/><polyline points="186.6,721.8 189.1,720.4 191.5,719.2 193.9,718.2 196.3,717.3 198.7,716.7 201.1,716.2 203.5,715.8 205.9,715.6 208.2,715.5 210.6,715.6 213.0,715.8 215.3,716.3 217.7,716.8 220.0,717.6 222.3,718.6 224.7,719.9 227.0,721.4 229.3,723.4 231.6,725.9 233.9,729.5 236.2,737.5 238.5,737.1 240.8,736.8 243.1,736.4 245.4,736.0 247.7,735.7 249.9,735.3 252.2,734.9 254.4,734.6 256.7,734.2 258.9,733.8 261.2,733.5 263.4,733.1 265.6,732.7 267.9,732.4 270.1,732.0 272.3,731.7 274.5,731.3 276.7,723.4 278.9,719.2 281.1,716.1 283.3,713.6 285.4,711.5 287.6,709.7 289.8,708.1 291.9,706.8 294.1,705.6 296.3,704.7 298.4,703.8 300.5,703.2 302.7,702.6 304.8,702.3 306.9,702.0 309.1,701.9 311.2,701.9 313.3,702.1 315.4,702.4 317.5,702.8 319.6,703.4 321.7,704.2 323.8,705.2 325.8,706.5 327.9,708.1 330.0,710.1 332.1,712.8 334.1,717.2 336.2,721.4 338.2,721.0 340.3,720.7 342.3,720.4 344.4,720.0 346.4,719.7 348.4,719.4 350.4,719.1 352.4,718.7 354.5,718.4 356.5,718.1 358.5,717.8 360.5,717.5 362.5,717.1 364.5,716.8 366.4,716.5 368.4,716.2 370.4,711.5 372.4,706.7 374.3,703.6 376.3,701.1 378.2,699.1 380.2,697.3 382.1,695.8 384.1,694.6 386.0,693.5 388.0,692.5 389.9,691.7 391.8,691.1 393.7,690.5 395.6,690.1 397.6,689.8 399.5,689.7 401.4,689.6 403.3,689.7 405.2,689.9 407.1,690.3 408.9,690.8 410.8,691.4 412.7,692.2 414.6,693.3 416.4,694.5 418.3,696.2 420.2,698.3 422.0,701.3 423.9,707.3 425.7,707.0 427.6,706.7 429.4,706.4 431.2,706.1 433.1,705.8 434.9,705.6 436.7,705.3 438.5,705.0 440.3,704.7 442.1,704.4 444.0,704.1 445.8,703.8 447.6,703.5 449.3,703.2 451.1,703.0 452.9,702.7 454.7,702.4 456.5,695.7 458.3,692.4 460.0,689.9 461.8,687.9 463.6,686.2 465.3,684.8 467.1,683.6 468.8,682.5 470.6,681.6 472.3,680.8 474.1,680.2 475.8,679.6 477.5,679.2 479.2,678.9 481.0,678.7 482.7,678.6 484.4,678.6 486.1,678.8 487.8,679.0 489.5,679.4 491.2,679.9 492.9,680.6 494.6,681.4 496.3,682.5 498.0,683.8 499.7,685.5 501.4,687.7 503.0,691.6 504.7,694.4 506.4,694.2 508.0,693.9 509.7,693.7 511.4,693.4 513.0,693.1 514.7,692.9 516.3,692.6 518.0,692.4 519.6,692.1 521.2,691.8 522.9,691.6 524.5,691.3 526.1,691.1 527.8,690.8 529.4,690.5 531.0,690.3 532.6,686.0 534.2,682.3 535.8,679.8 537.4,677.8 539.0,676.2 540.6,674.8 542.2,673.6 543.8,672.6 545.4,671.7 547.0,670.9 548.5,670.3 550.1,669.7 551.7,669.3 553.3,669.0 554.8,668.8 556.4,668.6 557.9,668.6 559.5,668.7 561.1,668.9 562.6,669.2 564.2,669.6 565.7,670.1 567.2,670.8 568.8,671.7 570.3,672.7 571.8,674.1 573.4,675.9 574.9,678.5 576.4,683.1 577.9,682.9 579.4,682.6 581.0,682.4 582.5,682.2 584.0,681.9 585.5,681.7 587.0,681.5 588.5,681.2 590.0,681.0 591.5,680.7 592.9,680.5 594.4,680.3 595.9,680.0 597.4,679.8 598.9,679.6 600.3,679.4 601.8,679.1 603.3,673.3 604.7,670.7 606.2,668.7 607.7,667.1 609.1,665.7 610.6,664.5 612.0,663.5 613.5,662.7 614.9,661.9 616.3,661.3 617.8,660.8 619.2,660.3 620.6,660.0 622.1,659.7 623.5,659.6 624.9,659.5 626.3,659.5 627.8,659.7 629.2,659.9 630.6,660.2 632.0,660.7 633.4,661.2 634.8,661.9 635.1,662.1" fill="none" stroke="#bf7e45" stroke-width="1.8"/><polygon points="207.2,793.4 186.7,729.9 190.4,728.1 211.6,790.8" fill="#cb7b35"/><polygon points="210.1,791.7 189.1,728.7 192.8,727.1 214.4,789.4" fill="#cb7b35"/><polygon points="212.9,790.2 191.5,727.6 195.2,726.2 217.2,788.2" fill="#ca7a35"/><polygon points="215.7,788.9 193.9,726.7 197.6,725.5 220.0,787.3" fill="#ca7a34"/><polygon points="218.5,787.8 196.3,725.9 200.0,725.0 222.8,786.5" fill="#c97934"/><polygon points="221.3,786.9 198.7,725.3 202.4,724.5 225.6,785.8" fill="#c97934"/><polygon points="224.1,786.2 201.1,724.8 204.8,724.2 228.4,785.4" fill="#c87834"/><polygon points="226.9,785.6 203.5,724.4 207.2,724.1 231.2,785.1" fill="#c37331"/><polygon points="229.7,785.3 205.9,724.2 209.5,724.0 233.9,785.1" fill="#c17230"/><polygon points="232.4,785.1 208.2,724.0 211.9,724.1 236.7,785.2" fill="#bf702f"/><polygon points="235.2,785.1 210.6,724.1 214.3,724.4 239.4,785.4" fill="#bd6e2e"/><polygon points="237.9,785.3 213.0,724.2 216.6,724.7 242.1,785.9" fill="#ba6c2d"/><polygon points="240.7,785.6 215.3,724.5 219.0,725.3 244.9,786.6" fill="#b86a2c"/><polygon points="243.4,786.2 217.7,725.0 221.3,726.0 247.6,787.6" fill="#b5682b"/><polygon points="246.1,787.0 220.0,725.6 223.6,726.9 250.3,788.8" fill="#b26529"/><polygon points="248.8,788.1 222.4,726.4 226.0,728.0 253.0,790.3" fill="#af6328"/><polygon points="251.5,789.4 224.7,727.4 228.3,729.5 255.7,792.3" fill="#ab6027"/><polygon points="254.2,791.2 227.0,728.7 230.6,731.3 258.4,794.8" fill="#a85e25"/><polygon points="256.9,793.3 229.3,730.3 232.9,733.9 261.0,798.2" fill="#a55b24"/><polygon points="259.6,796.2 231.7,732.4 235.2,738.0 263.7,803.8" fill="#a15822"/><polygon points="262.3,800.3 234.0,735.4 237.5,741.9 266.4,809.1" fill="#9e5521"/><polygon points="264.9,809.4 236.3,742.1 239.8,741.5 269.0,808.6" fill="#9e5521"/><polygon points="267.6,808.9 238.6,741.8 242.1,741.2 271.7,808.0" fill="#a05721"/><polygon points="270.2,808.3 240.9,741.4 244.4,740.8 274.3,807.5" fill="#a35822"/><polygon points="272.9,807.8 243.1,741.0 246.7,740.4 276.9,807.0" fill="#a55a23"/><polygon points="275.5,807.2 245.4,740.6 248.9,740.1 279.6,806.4" fill="#a85b24"/><polygon points="278.1,806.7 247.7,740.3 251.2,739.7 282.2,805.9" fill="#aa5d25"/><polygon points="280.8,806.2 250.0,739.9 253.4,739.3 284.8,805.3" fill="#ad5f26"/><polygon points="283.4,805.6 252.2,739.5 255.7,739.0 287.4,804.8" fill="#af6027"/><polygon points="286.0,805.1 254.5,739.2 257.9,738.6 290.0,804.3" fill="#b26228"/><polygon points="288.6,804.5 256.7,738.8 260.2,738.2 292.6,803.7" fill="#ab5d25"/><polygon points="291.1,804.0 259.0,738.4 262.4,737.9 295.1,803.2" fill="#ac5d26"/><polygon points="293.7,803.5 261.2,738.1 264.7,737.5 297.7,802.7" fill="#ad5e26"/><polygon points="296.3,802.9 263.4,737.7 266.9,737.2 300.3,802.1" fill="#ae5f26"/><polygon points="298.9,802.4 265.7,737.4 269.1,736.8 302.8,801.6" fill="#af5f27"/><polygon points="301.4,801.9 267.9,737.0 271.3,736.4 305.4,801.1" fill="#b06027"/><polygon points="304.0,801.4 270.1,736.6 273.5,736.1 307.9,800.6" fill="#b06127"/><polygon points="306.5,800.8 272.3,736.3 275.7,731.6 310.4,794.4" fill="#b16228"/><polygon points="309.0,800.3 274.5,735.9 277.9,727.0 313.0,788.2" fill="#ac5e26"/><polygon points="311.6,791.1 276.7,729.2 280.1,723.9 315.5,784.0" fill="#b26329"/><polygon points="314.1,786.1 278.9,725.5 282.3,721.5 318.0,780.7" fill="#b8692c"/><polygon points="316.6,782.4 281.1,722.8 284.5,719.5 320.5,778.0" fill="#be6f2f"/><polygon points="319.1,779.4 283.3,720.6 286.7,717.8 323.0,775.6" fill="#c47532"/><polygon points="321.6,776.9 285.5,718.7 288.8,716.4 325.5,773.6" fill="#ca7a35"/><polygon points="324.1,774.7 287.7,717.2 291.0,715.1 327.9,771.9" fill="#cc7c36"/><polygon points="326.6,772.8 289.8,715.8 293.2,714.0 330.4,770.4" fill="#cb7b36"/><polygon points="329.1,771.2 292.0,714.6 295.3,713.1 332.9,769.1" fill="#cb7b35"/><polygon points="331.5,769.7 294.1,713.6 297.5,712.3 335.3,767.9" fill="#ca7a35"/><polygon points="334.0,768.5 296.3,712.7 299.6,711.6 337.8,767.0" fill="#ca7a35"/><polygon points="336.5,767.5 298.4,711.9 301.8,711.0 340.2,766.2" fill="#c97934"/><polygon points="338.9,766.6 300.6,711.3 303.9,710.6 342.7,765.6" fill="#c97934"/><polygon points="341.3,765.9 302.7,710.8 306.0,710.3 345.1,765.2" fill="#c87834"/><polygon points="343.8,765.4 304.9,710.4 308.1,710.1 347.5,764.8" fill="#c47431"/><polygon points="346.2,765.0 307.0,710.2 310.3,710.0 350.0,764.7" fill="#c27330"/><polygon points="348.6,764.8 309.1,710.0 312.4,710.0 352.4,764.7" fill="#c0712f"/><polygon points="351.0,764.7 311.2,710.0 314.5,710.2 354.8,764.9" fill="#be6f2e"/><polygon points="353.5,764.8 313.3,710.1 316.6,710.4 357.2,765.2" fill="#bc6d2d"/><polygon points="355.9,765.0 315.4,710.3 318.7,710.8 359.6,765.8" fill="#b96b2c"/><polygon points="358.3,765.4 317.5,710.6 320.8,711.4 361.9,766.5" fill="#b6692b"/><polygon points="360.6,766.1 319.6,711.1 322.9,712.1 364.3,767.4" fill="#b3672a"/><polygon points="363.0,766.9 321.7,711.7 324.9,713.1 366.7,768.7" fill="#b06429"/><polygon points="365.4,768.0 323.8,712.5 327.0,714.2 369.1,770.2" fill="#ad6227"/><polygon points="367.8,769.3 325.9,713.6 329.1,715.7 371.4,772.1" fill="#aa5f26"/><polygon points="370.1,771.0 328.0,714.8 331.2,717.6 373.8,774.7" fill="#a65c24"/><polygon points="372.5,773.2 330.0,716.5 333.2,720.5 376.1,778.5" fill="#a35923"/><polygon points="374.8,776.2 332.1,718.8 335.3,726.1 378.4,786.0" fill="#9f5721"/><polygon points="377.2,781.1 334.2,722.4 337.3,725.8 380.8,785.6" fill="#9c5420"/><polygon points="379.5,785.8 336.2,726.0 339.4,725.5 383.1,785.1" fill="#9f5621"/><polygon points="381.8,785.3 338.3,725.6 341.4,725.1 385.4,784.6" fill="#a15722"/><polygon points="384.2,784.9 340.3,725.3 343.5,724.8 387.7,784.1" fill="#a45923"/><polygon points="386.5,784.4 342.4,725.0 345.5,724.5 390.0,783.7" fill="#a75b24"/><polygon points="388.8,783.9 344.4,724.7 347.5,724.2 392.3,783.2" fill="#a95c25"/><polygon points="391.1,783.4 346.4,724.3 349.6,723.8 394.6,782.7" fill="#ac5e26"/><polygon points="393.4,783.0 348.5,724.0 351.6,723.5 396.9,782.2" fill="#ae6027"/><polygon points="395.7,782.5 350.5,723.7 353.6,723.2 399.2,781.8" fill="#b16128"/><polygon points="397.9,782.0 352.5,723.4 355.6,722.9 401.5,781.3" fill="#aa5c25"/><polygon points="400.2,781.6 354.5,723.0 357.6,722.5 403.7,780.9" fill="#ab5d26"/><polygon points="402.5,781.1 356.5,722.7 359.6,722.2 406.0,780.4" fill="#ac5e26"/><polygon points="404.8,780.6 358.5,722.4 361.6,721.9 408.2,779.9" fill="#ad5e26"/><polygon points="407.0,780.2 360.5,722.1 363.6,721.6 410.5,779.5" fill="#ae5f27"/><polygon points="409.3,779.7 362.5,721.7 365.6,721.3 412.7,779.0" fill="#af6027"/><polygon points="411.5,779.3 364.5,721.4 367.6,720.9 415.0,778.6" fill="#b06127"/><polygon points="413.8,778.8 366.5,721.1 369.5,720.6 417.2,778.1" fill="#b16128"/><polygon points="416.0,778.3 368.5,720.8 371.5,714.2 419.4,769.6" fill="#b26228"/><polygon points="418.2,772.9 370.4,716.8 373.5,711.1 421.6,765.3" fill="#af6128"/><polygon points="420.4,767.4 372.4,712.7 375.4,708.7 423.9,762.1" fill="#b5672b"/><polygon points="422.7,763.8 374.4,709.9 377.4,706.7 426.1,759.5" fill="#bb6c2e"/><polygon points="424.9,760.9 376.3,707.8 379.4,705.1 428.3,757.3" fill="#c17231"/><polygon points="427.1,758.5 378.3,706.0 381.3,703.7 430.5,755.4" fill="#c77834"/><polygon points="429.3,756.4 380.2,704.4 383.2,702.5 432.7,753.8" fill="#cc7c36"/><polygon points="431.5,754.6 382.2,703.1 385.2,701.4 434.8,752.3" fill="#cb7b36"/><polygon points="433.6,753.1 384.1,702.0 387.1,700.5 437.0,751.1" fill="#cb7b35"/><polygon points="435.8,751.8 386.1,701.0 389.1,699.7 439.2,750.1" fill="#ca7a35"/><polygon points="438.0,750.6 388.0,700.2 391.0,699.1 441.4,749.2" fill="#ca7a35"/><polygon points="440.2,749.6 389.9,699.4 392.9,698.5 443.5,748.4" fill="#ca7a34"/><polygon points="442.3,748.8 391.9,698.8 394.8,698.1 445.7,747.8" fill="#c97934"/><polygon points="444.5,748.1 393.8,698.3 396.7,697.8 447.8,747.3" fill="#c97934"/><polygon points="446.6,747.6 395.7,697.9 398.6,697.5 450.0,747.0" fill="#c87834"/><polygon points="448.8,747.2 397.6,697.7 400.6,697.4 452.1,746.8" fill="#c37331"/><polygon points="450.9,746.9 399.5,697.5 402.5,697.4 454.2,746.8" fill="#c17230"/><polygon points="453.1,746.8 401.4,697.4 404.4,697.5 456.3,746.8" fill="#bf702f"/><polygon points="455.2,746.8 403.3,697.4 406.2,697.7 458.5,747.1" fill="#bd6e2e"/><polygon points="457.3,746.9 405.2,697.5 408.1,698.0 460.6,747.5" fill="#ba6c2d"/><polygon points="459.4,747.2 407.1,697.8 410.0,698.4 462.7,748.0" fill="#b76a2c"/><polygon points="461.5,747.7 409.0,698.2 411.9,699.0 464.8,748.8" fill="#b5682a"/><polygon points="463.6,748.3 410.9,698.7 413.8,699.8 466.9,749.7" fill="#b26529"/><polygon points="465.7,749.2 412.7,699.3 415.6,700.7 469.0,751.0" fill="#ae6328"/><polygon points="467.8,750.3 414.6,700.2 417.5,701.9 471.1,752.5" fill="#ab6026"/><polygon points="469.9,751.6 416.5,701.2 419.4,703.4 473.1,754.5" fill="#a85d25"/><polygon points="472.0,753.4 418.4,702.5 421.2,705.5 475.2,757.2" fill="#a45b24"/><polygon points="474.1,755.6 420.2,704.3 423.1,709.1 477.3,761.9" fill="#a15822"/><polygon points="476.2,758.9 422.1,706.8 424.9,711.8 479.4,765.4" fill="#9d5520"/><polygon points="478.2,765.6 423.9,711.9 426.8,711.5 481.4,765.0" fill="#9e5521"/><polygon points="480.3,765.2 425.8,711.6 428.6,711.2 483.5,764.6" fill="#a05722"/><polygon points="482.4,764.8 427.6,711.3 430.4,710.9 485.5,764.2" fill="#a35822"/><polygon points="484.4,764.4 429.4,711.0 432.3,710.6 487.6,763.7" fill="#a55a23"/><polygon points="486.4,764.0 431.3,710.7 434.1,710.3 489.6,763.3" fill="#a85c24"/><polygon points="488.5,763.6 433.1,710.4 435.9,710.0 491.6,762.9" fill="#aa5d25"/><polygon points="490.5,763.1 434.9,710.2 437.8,709.7 493.7,762.5" fill="#ad5f26"/><polygon points="492.6,762.7 436.8,709.9 439.6,709.4 495.7,762.1" fill="#b06027"/><polygon points="494.6,762.3 438.6,709.6 441.4,709.1 497.7,761.7" fill="#aa5c25"/><polygon points="496.6,761.9 440.4,709.3 443.2,708.8 499.7,761.3" fill="#ab5d25"/><polygon points="498.6,761.5 442.2,709.0 445.0,708.6 501.7,760.9" fill="#ac5d26"/><polygon points="500.6,761.1 444.0,708.7 446.8,708.3 503.7,760.5" fill="#ad5e26"/><polygon points="502.6,760.7 445.8,708.4 448.6,708.0 505.7,760.1" fill="#ae5f26"/><polygon points="504.6,760.3 447.6,708.1 450.4,707.7 507.7,759.6" fill="#af6027"/><polygon points="506.6,759.9 449.4,707.9 452.2,707.4 509.7,759.2" fill="#b06027"/><polygon points="508.6,759.5 451.2,707.6 454.0,707.1 511.7,758.8" fill="#b16127"/><polygon points="510.6,759.1 453.0,707.3 455.7,703.1 513.6,753.5" fill="#b16228"/><polygon points="512.6,758.7 454.8,707.0 457.5,699.6 515.6,748.9" fill="#ac5e26"/><polygon points="514.5,751.1 456.5,701.2 459.3,697.2 517.6,745.7" fill="#b26429"/><polygon points="516.5,747.3 458.3,698.4 461.1,695.3 519.5,743.2" fill="#b96a2c"/><polygon points="518.5,744.5 460.1,696.2 462.8,693.7 521.5,741.1" fill="#bf6f2f"/><polygon points="520.4,742.2 461.9,694.5 464.6,692.3 523.5,739.3" fill="#c57532"/><polygon points="522.4,740.2 463.6,693.0 466.3,691.1 525.4,737.7" fill="#cb7b35"/><polygon points="524.3,738.5 465.4,691.8 468.1,690.1 527.3,736.4" fill="#cc7c36"/><polygon points="526.3,737.1 467.1,690.7 469.8,689.2 529.3,735.2" fill="#cb7b35"/><polygon points="528.2,735.8 468.9,689.7 471.6,688.5 531.2,734.2" fill="#cb7b35"/><polygon points="530.2,734.7 470.6,688.9 473.3,687.8 533.1,733.3" fill="#ca7a35"/><polygon points="532.1,733.8 472.4,688.2 475.1,687.3 535.1,732.6" fill="#ca7a35"/><polygon points="534.0,733.0 474.1,687.6 476.8,686.9 537.0,732.0" fill="#c97934"/><polygon points="535.9,732.3 475.8,687.1 478.5,686.5 538.9,731.5" fill="#c97934"/><polygon points="537.8,731.8 477.6,686.7 480.2,686.3 540.8,731.2" fill="#c87834"/><polygon points="539.7,731.4 479.3,686.4 482.0,686.1 542.7,731.0" fill="#c47431"/><polygon points="541.7,731.1 481.0,686.2 483.7,686.1 544.6,730.9" fill="#c27330"/><polygon points="543.6,730.9 482.7,686.1 485.4,686.1 546.5,730.9" fill="#c0712f"/><polygon points="545.4,730.9 484.5,686.1 487.1,686.2 548.4,731.0" fill="#be6f2e"/><polygon points="547.3,730.9 486.2,686.1 488.8,686.4 550.2,731.3" fill="#bb6d2d"/><polygon points="549.2,731.1 487.9,686.3 490.5,686.8 552.1,731.7" fill="#b96b2c"/><polygon points="551.1,731.5 489.6,686.6 492.2,687.3 554.0,732.3" fill="#b6692b"/><polygon points="553.0,732.0 491.3,687.0 493.9,687.9 555.9,733.1" fill="#b3662a"/><polygon points="554.8,732.7 493.0,687.5 495.6,688.6 557.7,734.1" fill="#b06428"/><polygon points="556.7,733.5 494.7,688.2 497.3,689.6 559.6,735.3" fill="#ad6127"/><polygon points="558.6,734.6 496.4,689.0 499.0,690.8 561.4,736.9" fill="#a95f26"/><polygon points="560.4,736.0 498.1,690.1 500.7,692.5 563.3,739.0" fill="#a65c24"/><polygon points="562.3,737.8 499.7,691.5 502.3,694.9 565.1,742.1" fill="#a25923"/><polygon points="564.1,740.2 501.4,693.4 504.0,699.2 567.0,747.6" fill="#9f5621"/><polygon points="566.0,744.3 503.1,696.6 505.7,698.9 568.8,747.3" fill="#9d5420"/><polygon points="567.8,747.5 504.8,699.0 507.4,698.6 570.7,746.9" fill="#9f5621"/><polygon points="569.7,747.1 506.4,698.8 509.0,698.4 572.5,746.5" fill="#a25822"/><polygon points="571.5,746.7 508.1,698.5 510.7,698.1 574.3,746.2" fill="#a45923"/><polygon points="573.3,746.4 509.8,698.3 512.3,697.9 576.1,745.8" fill="#a75b24"/><polygon points="575.1,746.0 511.4,698.0 514.0,697.6 577.9,745.4" fill="#a95c25"/><polygon points="576.9,745.6 513.1,697.7 515.6,697.3 579.7,745.1" fill="#ac5e26"/><polygon points="578.8,745.3 514.7,697.5 517.3,697.1 581.6,744.7" fill="#ae6027"/><polygon points="580.6,744.9 516.4,697.2 518.9,696.8 583.4,744.3" fill="#b16128"/><polygon points="582.4,744.5 518.0,696.9 520.6,696.5 585.2,744.0" fill="#ab5c25"/><polygon points="584.2,744.2 519.7,696.7 522.2,696.3 586.9,743.6" fill="#ab5d26"/><polygon points="586.0,743.8 521.3,696.4 523.8,696.0 588.7,743.2" fill="#ac5e26"/><polygon points="587.8,743.4 522.9,696.2 525.5,695.8 590.5,742.9" fill="#ad5e26"/><polygon points="589.5,743.1 524.6,695.9 527.1,695.5 592.3,742.5" fill="#ae5f27"/><polygon points="591.3,742.7 526.2,695.7 528.7,695.3 594.1,742.2" fill="#af6027"/><polygon points="593.1,742.4 527.8,695.4 530.3,695.0 595.8,741.8" fill="#b06127"/><polygon points="594.9,742.0 529.4,695.1 531.9,694.7 597.6,741.5" fill="#b16128"/><polygon points="596.6,741.7 531.1,694.9 533.5,689.3 599.4,734.4" fill="#b26228"/><polygon points="598.4,736.9 532.7,691.2 535.2,686.8 601.1,731.1" fill="#b06128"/><polygon points="600.2,732.8 534.3,688.0 536.8,684.9 602.9,728.6" fill="#b6672b"/><polygon points="601.9,729.9 535.9,685.9 538.4,683.3 604.6,726.6" fill="#bc6d2e"/><polygon points="603.7,727.7 537.5,684.1 540.0,682.0 606.4,724.9" fill="#c27231"/><polygon points="605.4,725.8 539.1,682.7 541.5,680.9 608.1,723.4" fill="#c87834"/><polygon points="607.2,724.2 540.7,681.5 543.1,679.9 609.9,722.1" fill="#cc7c36"/><polygon points="608.9,722.8 542.3,680.4 544.7,679.0 611.6,721.0" fill="#cb7b36"/><polygon points="610.6,721.6 543.9,679.5 546.3,678.3 613.3,720.0" fill="#cb7b35"/><polygon points="612.4,720.5 545.4,678.7 547.9,677.7 615.0,719.2" fill="#ca7a35"/><polygon points="614.1,719.6 547.0,678.0 549.5,677.1 616.8,718.5" fill="#ca7a35"/><polygon points="615.8,718.9 548.6,677.4 551.0,676.7 618.5,717.9" fill="#c97934"/><polygon points="617.5,718.2 550.2,676.9 552.6,676.3 620.2,717.4" fill="#c97934"/><polygon points="619.3,717.7 551.8,676.5 554.2,676.1 621.9,717.1" fill="#c97934"/><polygon points="621.0,717.3 553.3,676.2 555.7,675.9 623.6,716.8" fill="#c87834"/><polygon points="622.7,717.0 554.9,676.0 557.3,675.8 625.3,716.7" fill="#c37331"/><polygon points="624.4,716.8 556.5,675.8 558.9,675.8 627.0,716.7" fill="#c17230"/><polygon points="626.1,716.7 558.0,675.8 560.4,675.9 628.7,716.7" fill="#bf702f"/><polygon points="627.8,716.7 559.6,675.8 562.0,676.0 630.4,716.9" fill="#bd6e2e"/><polygon points="629.5,716.8 561.1,675.9 563.5,676.3 632.1,717.3" fill="#ba6c2d"/><polygon points="631.1,717.1 562.7,676.1 565.1,676.7 633.7,717.7" fill="#b76a2c"/><polygon points="632.8,717.4 564.2,676.5 566.6,677.2 635.4,718.3" fill="#b4672a"/><polygon points="634.5,718.0 565.8,676.9 568.1,677.8 637.1,719.1" fill="#b16529"/><polygon points="636.2,718.7 567.3,677.4 569.7,678.6 638.7,720.1" fill="#ae6228"/><polygon points="637.8,719.5 568.8,678.1 571.2,679.6 640.4,721.4" fill="#ab6026"/><polygon points="639.5,720.6 570.4,679.0 572.7,680.9 642.1,723.0" fill="#a75d25"/><polygon points="641.2,722.1 571.9,680.1 574.3,682.7 643.7,725.3" fill="#a45a23"/><polygon points="642.8,723.9 573.4,681.6 575.8,685.9 645.4,729.3" fill="#a05822"/><polygon points="644.5,726.7 575.0,683.8 577.3,687.6 647.0,731.5" fill="#9d5520"/><polygon points="646.1,731.7 576.5,687.7 578.8,687.3 648.7,731.2" fill="#9e5521"/><polygon points="647.8,731.4 578.0,687.5 580.3,687.1 650.3,730.9" fill="#a15722"/><polygon points="649.4,731.0 579.5,687.2 581.8,686.9 652.0,730.5" fill="#a35823"/><polygon points="651.1,730.7 581.0,687.0 583.4,686.6 653.6,730.2" fill="#a65a23"/><polygon points="652.7,730.4 582.5,686.8 584.9,686.4 655.2,729.9" fill="#a85c24"/><polygon points="654.3,730.0 584.0,686.5 586.4,686.2 656.8,729.5" fill="#ab5d25"/><polygon points="656.0,729.7 585.5,686.3 587.9,685.9 658.5,729.2" fill="#ad5f26"/><polygon points="657.6,729.4 587.0,686.1 589.4,685.7 660.1,728.9" fill="#b06127"/><polygon points="659.2,729.1 588.5,685.8 590.8,685.5 661.7,728.6" fill="#aa5c25"/><polygon points="660.8,728.7 590.0,685.6 592.3,685.2 663.3,728.2" fill="#ab5d25"/><polygon points="662.4,728.4 591.5,685.3 593.8,685.0 664.9,727.9" fill="#ac5d26"/><polygon points="664.0,728.1 593.0,685.1 595.3,684.8 666.5,727.6" fill="#ad5e26"/><polygon points="665.6,727.8 594.5,684.9 596.8,684.5 668.1,727.3" fill="#ae5f26"/><polygon points="667.2,727.5 596.0,684.6 598.3,684.3 669.7,727.0" fill="#af6027"/><polygon points="668.8,727.1 597.5,684.4 599.7,684.1 671.3,726.6" fill="#b06027"/><polygon points="670.4,726.8 598.9,684.2 601.2,683.8 672.9,726.3" fill="#b16127"/><polygon points="672.0,726.5 600.4,683.9 602.7,680.2 674.5,721.6" fill="#b26228"/><polygon points="673.6,726.2 601.9,683.7 604.1,677.4 676.1,718.1" fill="#ad5f27"/><polygon points="675.2,719.8 603.3,678.7 605.6,675.5 677.6,715.6" fill="#b3652a"/><polygon points="676.8,716.9 604.8,676.5 607.1,673.9 679.2,713.6" fill="#b96a2d"/><polygon points="678.4,714.7 606.3,674.7 608.5,672.6 680.8,712.0" fill="#bf7030"/><polygon points="679.9,712.8 607.7,673.3 610.0,671.5 682.3,710.5" fill="#c57633"/><polygon points="681.5,711.3 609.2,672.1 611.4,670.6 683.9,709.3" fill="#cb7b36"/><polygon points="683.1,710.0 610.6,671.1 612.9,669.8 685.5,708.2" fill="#cc7c36"/><polygon points="684.6,708.8 612.1,670.2 614.3,669.0 687.0,707.3" fill="#cb7b35"/><polygon points="686.2,707.8 613.5,669.4 615.8,668.4 688.6,706.5" fill="#cb7b35"/><polygon points="687.7,706.9 615.0,668.7 617.2,667.9 690.1,705.8" fill="#ca7a35"/><polygon points="689.3,706.2 616.4,668.2 618.6,667.5 691.7,705.3" fill="#ca7a35"/><polygon points="690.8,705.6 617.8,667.7 620.1,667.1 693.2,704.8" fill="#c97934"/><polygon points="692.4,705.0 619.3,667.3 621.5,666.8 694.8,704.4" fill="#c97934"/><polygon points="693.9,704.6 620.7,667.0 622.9,666.6 696.3,704.1" fill="#c87834"/><polygon points="695.5,704.3 622.1,666.7 624.3,666.5 697.8,704.0" fill="#c47431"/><polygon points="697.0,704.1 623.6,666.6 625.8,666.5 699.3,703.9" fill="#c27230"/><polygon points="698.5,703.9 625.0,666.5 627.2,666.5 700.9,703.9" fill="#c0712f"/><polygon points="700.0,703.9 626.4,666.5 628.6,666.6 702.4,704.0" fill="#be6f2e"/><polygon points="701.6,704.0 627.8,666.5 630.0,666.8 703.9,704.3" fill="#bb6d2d"/><polygon points="703.1,704.1 629.2,666.7 631.4,667.1 705.4,704.6" fill="#b86b2c"/><polygon points="704.6,704.4 630.7,666.9 632.8,667.5 706.9,705.1" fill="#b6692b"/><polygon points="706.1,704.8 632.1,667.3 634.2,668.0 708.4,705.8" fill="#b3662a"/><polygon points="707.6,705.4 633.5,667.7 635.1,668.4 709.4,706.2" fill="#b06428"/><polygon points="709.1,706.1 634.9,668.3 635.1,668.4 709.4,706.2" fill="#ae6228"/><polyline points="207.3,793.5 210.1,791.7 212.9,790.2 215.7,788.9 218.5,787.8 221.3,786.9 224.1,786.2 226.9,785.7 229.7,785.3 232.4,785.1 235.2,785.1 237.9,785.3 240.7,785.7 243.4,786.3 246.1,787.1 248.8,788.1 251.5,789.5 254.2,791.2 256.9,793.4 259.6,796.2 262.3,800.3 264.9,809.5 267.6,808.9 270.3,808.4 272.9,807.8 275.5,807.3 278.2,806.7 280.8,806.2 283.4,805.7 286.0,805.1 288.6,804.6 291.2,804.1 293.7,803.5 296.3,803.0 298.9,802.5 301.4,801.9 304.0,801.4 306.5,800.9 309.1,800.4 311.6,791.2 314.1,786.2 316.6,782.4 319.1,779.4 321.6,776.9 324.1,774.7 326.6,772.8 329.1,771.2 331.6,769.8 334.0,768.6 336.5,767.5 338.9,766.7 341.4,766.0 343.8,765.4 346.2,765.0 348.7,764.8 351.1,764.7 353.5,764.8 355.9,765.1 358.3,765.5 360.7,766.1 363.0,766.9 365.4,768.0 367.8,769.3 370.2,771.1 372.5,773.3 374.9,776.3 377.2,781.1 379.5,785.9 381.9,785.4 384.2,784.9 386.5,784.4 388.8,784.0 391.1,783.5 393.4,783.0 395.7,782.5 398.0,782.1 400.3,781.6 402.5,781.1 404.8,780.7 407.0,780.2 409.3,779.8 411.5,779.3 413.8,778.8 416.0,778.4 418.2,773.0 420.5,767.5 422.7,763.8 424.9,760.9 427.1,758.5 429.3,756.4 431.5,754.7 433.7,753.1 435.9,751.8 438.0,750.6 440.2,749.7 442.4,748.8 444.5,748.1 446.7,747.6 448.8,747.2 451.0,746.9 453.1,746.8 455.2,746.8 457.3,747.0 459.5,747.3 461.6,747.7 463.7,748.4 465.8,749.2 467.9,750.3 470.0,751.7 472.0,753.4 474.1,755.7 476.2,759.0 478.3,765.7 480.3,765.3 482.4,764.8 484.4,764.4 486.5,764.0 488.5,763.6 490.6,763.2 492.6,762.8 494.6,762.3 496.6,761.9 498.7,761.5 500.7,761.1 502.7,760.7 504.7,760.3 506.7,759.9 508.6,759.5 510.6,759.1 512.6,758.7 514.6,751.1 516.6,747.4 518.5,744.5 520.5,742.2 522.4,740.3 524.4,738.6 526.3,737.1 528.3,735.9 530.2,734.8 532.1,733.8 534.0,733.0 536.0,732.4 537.9,731.8 539.8,731.4 541.7,731.1 543.6,730.9 545.5,730.9 547.4,731.0 549.3,731.2 551.1,731.5 553.0,732.0 554.9,732.7 556.8,733.5 558.6,734.6 560.5,736.0 562.3,737.8 564.2,740.2 566.0,744.4 567.9,747.5 569.7,747.1 571.5,746.8 573.4,746.4 575.2,746.0 577.0,745.7 578.8,745.3 580.6,744.9 582.4,744.6 584.2,744.2 586.0,743.8 587.8,743.5 589.6,743.1 591.4,742.8 593.1,742.4 594.9,742.0 596.7,741.7 598.4,736.9 600.2,732.8 602.0,729.9 603.7,727.7 605.5,725.8 607.2,724.2 608.9,722.8 610.7,721.6 612.4,720.6 614.1,719.7 615.9,718.9 617.6,718.2 619.3,717.7 621.0,717.3 622.7,717.0 624.4,716.8 626.1,716.7 627.8,716.7 629.5,716.8 631.2,717.1 632.9,717.5 634.5,718.0 636.2,718.7 637.9,719.6 639.6,720.7 641.2,722.1 642.9,724.0 644.5,726.7 646.2,731.7 647.8,731.4 649.5,731.1 651.1,730.7 652.7,730.4 654.4,730.1 656.0,729.8 657.6,729.4 659.2,729.1 660.9,728.8 662.5,728.5 664.1,728.1 665.7,727.8 667.3,727.5 668.9,727.2 670.5,726.8 672.1,726.5 673.7,726.2 675.2,719.8 676.8,716.9 678.4,714.7 680.0,712.9 681.5,711.3 683.1,710.0 684.7,708.8 686.2,707.8 687.8,707.0 689.3,706.2 690.9,705.6 692.4,705.1 694.0,704.6 695.5,704.3 697.0,704.1 698.6,703.9 700.1,703.9 701.6,704.0 703.1,704.2 704.6,704.5 706.2,704.9 707.7,705.4 709.2,706.1 709.5,706.3" fill="none" stroke="#7a4016" stroke-width="1.2"/><line x1="540" y1="648" x2="466" y2="829" stroke="#c8603c" stroke-width="1.2" stroke-dasharray="5.2 2.8" stroke-opacity="0.35"/><path d="M 542,716 A 53,53 0 0 1 640,745" fill="none" stroke="#c8603c" stroke-width="1.2" stroke-dasharray="5.2 2.8" stroke-opacity="0.25"/></svg><svg class="t" width="1148" height="1393" viewBox="0 0 1148 1393"><g font-family="Liberation Sans, sans-serif" fill="#231f20" stroke="#231f20" stroke-width="0.3"><text x="195.8" y="119.5" font-size="18.9">Colmo Modello cerniera</text><text x="197.6" y="140.8" font-size="16.7">Tipo centrale scantonato</text><text x="680.6" y="110.5" font-size="18.9">Colmo Modello cerniera</text><text x="681.2" y="131.2" font-size="16.7">Tipo diagonale non scantonato</text><text x="93.9" y="384.4" font-size="18.9">Frontalino</text><text x="94.9" y="405" font-size="16.7">Tappo colmo diagonale</text><text x="880.6" y="355.7" font-size="18.9">Scossalina di finitura</text><text x="880.5" y="377.2" font-size="16.7">Raccordo parete-copertura</text><text x="709.8" y="788.4" font-size="18.9">Canale standard di gronda</text><text x="174.2" y="1020.2" font-size="18.9">Scossalina di finitura</text><text x="174.5" y="1041.6" font-size="16.7">destra di partenza sinistra</text><text x="174.5" y="1061.2" font-size="16.7">di chiusura</text><text x="674.1" y="1104.7" font-size="18.9">Frontalino</text><text x="674.7" y="1125.7" font-size="16.7">Scantonato tipo Italcoppo</text></g></svg></body></html>
